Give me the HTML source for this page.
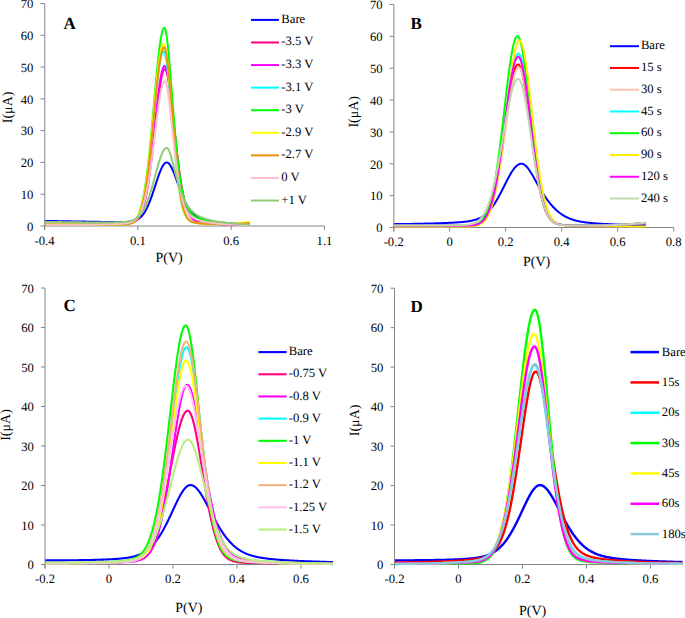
<!DOCTYPE html>
<html><head><meta charset="utf-8"><style>
html,body{margin:0;padding:0;background:#fff;}
body{width:685px;height:618px;overflow:hidden;}
svg{display:block;text-rendering:geometricPrecision;}
.t{font-family:"Liberation Serif", serif;font-size:12.7px;fill:#000;}
.lg{font-family:"Liberation Serif", serif;font-size:12.7px;fill:#000;}
.ax{font-family:"Liberation Serif", serif;font-size:14px;fill:#000;}
.pl{font-family:"Liberation Serif", serif;font-size:17px;font-weight:bold;fill:#000;}
</style></head><body>
<svg width="685" height="618" viewBox="0 0 685 618">
<rect width="685" height="618" fill="#fff"/>
<line x1="40.5" y1="226.00" x2="44.5" y2="226.00" stroke="#868686" stroke-width="1"/>
<text x="33.40" y="230.80" text-anchor="end" class="t">0</text>
<line x1="40.5" y1="194.21" x2="44.5" y2="194.21" stroke="#868686" stroke-width="1"/>
<text x="33.40" y="199.01" text-anchor="end" class="t">10</text>
<line x1="40.5" y1="162.43" x2="44.5" y2="162.43" stroke="#868686" stroke-width="1"/>
<text x="33.40" y="167.23" text-anchor="end" class="t">20</text>
<line x1="40.5" y1="130.64" x2="44.5" y2="130.64" stroke="#868686" stroke-width="1"/>
<text x="33.40" y="135.44" text-anchor="end" class="t">30</text>
<line x1="40.5" y1="98.86" x2="44.5" y2="98.86" stroke="#868686" stroke-width="1"/>
<text x="33.40" y="103.66" text-anchor="end" class="t">40</text>
<line x1="40.5" y1="67.07" x2="44.5" y2="67.07" stroke="#868686" stroke-width="1"/>
<text x="33.40" y="71.87" text-anchor="end" class="t">50</text>
<line x1="40.5" y1="35.28" x2="44.5" y2="35.28" stroke="#868686" stroke-width="1"/>
<text x="33.40" y="40.08" text-anchor="end" class="t">60</text>
<line x1="40.5" y1="3.50" x2="44.5" y2="3.50" stroke="#868686" stroke-width="1"/>
<text x="33.40" y="8.30" text-anchor="end" class="t">70</text>
<line x1="44.5" y1="226.0" x2="324.5" y2="226.0" stroke="#868686" stroke-width="1"/>
<line x1="44.50" y1="226.0" x2="44.50" y2="230.0" stroke="#868686" stroke-width="1"/>
<text x="44.50" y="244.50" text-anchor="middle" class="t">-0.4</text>
<line x1="137.83" y1="226.0" x2="137.83" y2="230.0" stroke="#868686" stroke-width="1"/>
<text x="137.83" y="244.50" text-anchor="middle" class="t">0.1</text>
<line x1="231.17" y1="226.0" x2="231.17" y2="230.0" stroke="#868686" stroke-width="1"/>
<text x="231.17" y="244.50" text-anchor="middle" class="t">0.6</text>
<line x1="324.50" y1="226.0" x2="324.50" y2="230.0" stroke="#868686" stroke-width="1"/>
<text x="324.50" y="244.50" text-anchor="middle" class="t">1.1</text>
<polyline points="44.5,220.87 46.0,220.90 47.5,220.93 49.0,220.96 50.5,220.99 52.0,221.02 53.5,221.05 55.0,221.07 56.5,221.10 58.0,221.13 59.5,221.16 61.0,221.19 62.5,221.22 64.0,221.24 65.5,221.27 67.0,221.30 68.5,221.33 70.0,221.35 71.5,221.38 73.0,221.41 74.5,221.44 76.0,221.46 77.5,221.49 79.0,221.52 80.5,221.54 82.0,221.57 83.5,221.60 85.0,221.62 86.5,221.65 88.0,221.67 89.5,221.70 91.0,221.72 92.5,221.75 94.0,221.77 95.5,221.80 97.0,221.82 98.5,221.84 100.0,221.86 101.5,221.89 103.0,221.91 104.5,221.93 106.0,221.95 107.5,221.97 109.0,221.99 110.5,222.00 112.0,222.02 113.5,222.04 115.0,222.05 116.5,222.06 117.0,222.06 117.5,222.06 118.0,222.07 118.5,222.07 119.0,222.07 119.5,222.07 120.0,222.07 120.5,222.07 121.0,222.07 121.5,222.07 122.0,222.06 122.5,222.06 123.0,222.05 123.5,222.04 124.0,222.03 124.5,222.02 125.0,222.01 125.5,221.99 126.0,221.97 126.5,221.95 127.0,221.93 127.5,221.90 128.0,221.86 128.5,221.83 129.0,221.78 129.5,221.73 130.0,221.68 130.5,221.62 131.0,221.54 131.5,221.47 132.0,221.38 132.5,221.28 133.0,221.17 133.5,221.04 134.0,220.91 134.5,220.76 135.0,220.59 135.5,220.40 136.0,220.20 136.5,219.98 137.0,219.73 137.5,219.46 138.0,219.17 138.5,218.85 139.0,218.50 139.5,218.13 140.0,217.72 140.5,217.27 141.0,216.80 141.5,216.29 142.0,215.74 142.5,215.15 143.0,214.51 143.5,213.84 144.0,213.12 144.5,212.36 145.0,211.56 145.5,210.70 146.0,209.80 146.5,208.85 147.0,207.86 147.5,206.81 148.0,205.72 148.5,204.58 149.0,203.40 149.5,202.17 150.0,200.90 150.5,199.59 151.0,198.24 151.5,196.85 152.0,195.43 152.5,193.98 153.0,192.51 153.5,191.01 154.0,189.49 154.5,187.96 155.0,186.43 155.5,184.88 156.0,183.35 156.5,181.82 157.0,180.30 157.5,178.80 158.0,177.34 158.5,175.90 159.0,174.51 159.5,173.16 160.0,171.86 160.5,170.62 161.0,169.45 161.5,168.35 162.0,167.33 162.5,166.40 163.0,165.55 163.5,164.80 164.0,164.15 164.5,163.60 165.0,163.15 165.5,162.82 166.0,162.60 166.5,162.49 167.0,162.49 167.5,162.61 168.0,162.85 168.5,163.21 169.0,163.68 169.5,164.25 170.0,164.92 170.5,165.70 171.0,166.56 171.5,167.50 172.0,168.52 172.5,169.61 173.0,170.76 173.5,171.97 174.0,173.21 174.5,174.50 175.0,175.82 175.5,177.16 176.0,178.53 176.5,179.91 177.0,181.29 177.5,182.68 178.0,184.07 178.5,185.45 179.0,186.82 179.5,188.18 180.0,189.52 180.5,190.84 181.0,192.14 181.5,193.41 182.0,194.66 182.5,195.88 183.0,197.07 183.5,198.22 184.0,199.34 184.5,200.43 185.0,201.49 185.5,202.51 186.0,203.49 186.5,204.44 187.0,205.35 187.5,206.23 188.0,207.07 188.5,207.88 189.0,208.65 189.5,209.39 190.0,210.09 190.5,210.76 191.0,211.40 191.5,212.01 192.0,212.59 192.5,213.13 193.0,213.65 193.5,214.15 194.0,214.61 194.5,215.05 195.0,215.47 195.5,215.86 196.0,216.23 196.5,216.58 197.0,216.92 197.5,217.23 198.0,217.52 198.5,217.80 199.0,218.06 199.5,218.31 200.0,218.54 200.5,218.76 201.0,218.96 201.5,219.16 202.0,219.34 202.5,219.52 203.0,219.68 203.5,219.84 204.0,219.98 204.5,220.12 205.0,220.25 205.5,220.38 206.0,220.50 206.5,220.61 207.0,220.72 207.5,220.82 208.0,220.92 208.5,221.02 209.0,221.11 209.5,221.19 210.0,221.28 210.5,221.36 211.0,221.43 211.5,221.51 212.0,221.58 212.5,221.65 213.0,221.72 213.5,221.78 214.0,221.84 214.5,221.90 215.0,221.96 215.5,222.02 216.0,222.08 216.5,222.13 217.0,222.18 217.5,222.24 218.0,222.29 218.5,222.33 220.0,222.48 221.5,222.61 223.0,222.73 224.5,222.85 226.0,222.96 227.5,223.07 229.0,223.17 230.5,223.26 232.0,223.35 233.5,223.44 235.0,223.53 236.5,223.61 238.0,223.69 239.5,223.76 241.0,223.83 242.5,223.90 244.0,223.97 245.5,224.04 247.0,224.10 248.5,224.17 249.8,224.22" fill="none" stroke="#0000ff" stroke-width="2.0" stroke-linejoin="round" stroke-linecap="butt"/>
<polyline points="44.5,224.63 46.0,224.63 47.5,224.63 49.0,224.63 50.5,224.64 52.0,224.64 53.5,224.64 55.0,224.64 56.5,224.64 58.0,224.64 59.5,224.64 61.0,224.64 62.5,224.64 64.0,224.64 65.5,224.64 67.0,224.64 68.5,224.64 70.0,224.64 71.5,224.64 73.0,224.64 74.5,224.64 76.0,224.64 77.5,224.63 79.0,224.63 80.5,224.63 82.0,224.62 83.5,224.62 85.0,224.61 86.5,224.61 88.0,224.60 89.5,224.59 91.0,224.59 92.5,224.58 94.0,224.57 95.5,224.56 97.0,224.55 98.5,224.53 100.0,224.52 101.5,224.51 103.0,224.49 104.5,224.47 106.0,224.45 107.5,224.43 109.0,224.41 110.5,224.38 112.0,224.35 113.5,224.32 115.0,224.29 116.5,224.25 118.0,224.21 119.5,224.16 121.0,224.10 122.5,224.04 124.0,223.96 124.5,223.93 125.0,223.89 125.5,223.86 126.0,223.82 126.5,223.77 127.0,223.73 127.5,223.67 128.0,223.62 128.5,223.55 129.0,223.48 129.5,223.40 130.0,223.31 130.5,223.20 131.0,223.09 131.5,222.96 132.0,222.81 132.5,222.65 133.0,222.47 133.5,222.26 134.0,222.02 134.5,221.76 135.0,221.46 135.5,221.13 136.0,220.76 136.5,220.34 137.0,219.88 137.5,219.35 138.0,218.77 138.5,218.13 139.0,217.41 139.5,216.62 140.0,215.75 140.5,214.78 141.0,213.72 141.5,212.55 142.0,211.28 142.5,209.89 143.0,208.38 143.5,206.73 144.0,204.95 144.5,203.03 145.0,200.96 145.5,198.74 146.0,196.36 146.5,193.82 147.0,191.12 147.5,188.26 148.0,185.23 148.5,182.03 149.0,178.67 149.5,175.15 150.0,171.48 150.5,167.65 151.0,163.69 151.5,159.59 152.0,155.37 152.5,151.04 153.0,146.62 153.5,142.12 154.0,137.56 154.5,132.96 155.0,128.34 155.5,123.72 156.0,119.12 156.5,114.57 157.0,110.10 157.5,105.72 158.0,101.47 158.5,97.38 159.0,93.46 159.5,89.75 160.0,86.27 160.5,83.05 161.0,80.11 161.5,77.48 162.0,75.17 162.5,73.21 163.0,71.62 163.5,70.40 164.0,69.57 164.5,69.13 165.0,69.09 165.5,69.49 166.0,70.32 166.5,71.57 167.0,73.22 167.5,75.27 168.0,77.69 168.5,80.46 169.0,83.54 169.5,86.92 170.0,90.55 170.5,94.42 171.0,98.48 171.5,102.71 172.0,107.09 172.5,111.57 173.0,116.14 173.5,120.76 174.0,125.40 174.5,130.06 175.0,134.69 175.5,139.28 176.0,143.81 176.5,148.27 177.0,152.63 177.5,156.88 178.0,161.01 178.5,165.01 179.0,168.86 179.5,172.57 180.0,176.12 180.5,179.50 181.0,182.73 181.5,185.79 182.0,188.68 182.5,191.41 183.0,193.98 183.5,196.38 184.0,198.63 184.5,200.73 185.0,202.68 185.5,204.48 186.0,206.16 186.5,207.70 187.0,209.12 187.5,210.42 188.0,211.62 188.5,212.71 189.0,213.71 189.5,214.62 190.0,215.45 190.5,216.20 191.0,216.88 191.5,217.50 192.0,218.05 192.5,218.56 193.0,219.01 193.5,219.42 194.0,219.79 194.5,220.13 195.0,220.43 195.5,220.70 196.0,220.95 196.5,221.17 197.0,221.37 197.5,221.56 198.0,221.73 198.5,221.88 199.0,222.02 199.5,222.14 200.0,222.26 200.5,222.37 201.0,222.47 201.5,222.56 202.0,222.65 202.5,222.73 203.0,222.81 203.5,222.88 204.0,222.95 204.5,223.01 205.0,223.07 205.5,223.13 206.0,223.18 206.5,223.24 208.0,223.38 209.5,223.51 211.0,223.63 212.5,223.74 214.0,223.84 215.5,223.93 217.0,224.01 218.5,224.09 220.0,224.16 221.5,224.22 223.0,224.29 224.5,224.35 226.0,224.40 227.5,224.45 229.0,224.50 230.5,224.55 232.0,224.59 233.5,224.63 235.0,224.67 236.5,224.70 238.0,224.74 239.5,224.77 241.0,224.80 242.5,224.83 244.0,224.86 245.5,224.89 247.0,224.92 248.5,224.94 249.8,224.96" fill="none" stroke="#ff0080" stroke-width="2.0" stroke-linejoin="round" stroke-linecap="butt"/>
<polyline points="44.5,224.63 46.0,224.63 47.5,224.63 49.0,224.63 50.5,224.63 52.0,224.64 53.5,224.64 55.0,224.64 56.5,224.64 58.0,224.64 59.5,224.64 61.0,224.64 62.5,224.64 64.0,224.64 65.5,224.64 67.0,224.64 68.5,224.64 70.0,224.64 71.5,224.64 73.0,224.63 74.5,224.63 76.0,224.63 77.5,224.63 79.0,224.62 80.5,224.62 82.0,224.62 83.5,224.61 85.0,224.61 86.5,224.60 88.0,224.59 89.5,224.59 91.0,224.58 92.5,224.57 94.0,224.56 95.5,224.55 97.0,224.54 98.5,224.52 100.0,224.51 101.5,224.49 103.0,224.48 104.5,224.46 106.0,224.44 107.5,224.42 109.0,224.39 110.5,224.37 112.0,224.34 113.5,224.30 115.0,224.27 116.5,224.23 118.0,224.18 119.5,224.13 121.0,224.07 122.5,224.00 124.0,223.92 124.5,223.89 125.0,223.85 125.5,223.81 126.0,223.77 126.5,223.72 127.0,223.67 127.5,223.61 128.0,223.55 128.5,223.48 129.0,223.40 129.5,223.31 130.0,223.21 130.5,223.10 131.0,222.97 131.5,222.83 132.0,222.67 132.5,222.49 133.0,222.29 133.5,222.06 134.0,221.81 134.5,221.52 135.0,221.20 135.5,220.83 136.0,220.43 136.5,219.97 137.0,219.46 137.5,218.90 138.0,218.27 138.5,217.57 139.0,216.79 139.5,215.93 140.0,214.98 140.5,213.94 141.0,212.80 141.5,211.54 142.0,210.18 142.5,208.68 143.0,207.06 143.5,205.30 144.0,203.40 144.5,201.36 145.0,199.15 145.5,196.79 146.0,194.27 146.5,191.58 147.0,188.73 147.5,185.71 148.0,182.52 148.5,179.16 149.0,175.63 149.5,171.95 150.0,168.11 150.5,164.12 151.0,160.00 151.5,155.75 152.0,151.38 152.5,146.91 153.0,142.35 153.5,137.72 154.0,133.05 154.5,128.34 155.0,123.62 155.5,118.92 156.0,114.26 156.5,109.67 157.0,105.16 157.5,100.77 158.0,96.53 158.5,92.46 159.0,88.59 159.5,84.94 160.0,81.55 160.5,78.43 161.0,75.62 161.5,73.14 162.0,70.99 162.5,69.22 163.0,67.82 163.5,66.81 164.0,66.20 164.5,66.00 165.0,66.22 165.5,66.89 166.0,67.99 166.5,69.52 167.0,71.45 167.5,73.77 168.0,76.45 168.5,79.47 169.0,82.79 169.5,86.39 170.0,90.24 170.5,94.31 171.0,98.56 171.5,102.97 172.0,107.50 172.5,112.12 173.0,116.81 173.5,121.54 174.0,126.29 174.5,131.02 175.0,135.72 175.5,140.37 176.0,144.95 176.5,149.43 177.0,153.81 177.5,158.08 178.0,162.21 178.5,166.20 179.0,170.04 179.5,173.72 180.0,177.24 180.5,180.59 181.0,183.78 181.5,186.80 182.0,189.65 182.5,192.33 183.0,194.85 183.5,197.21 184.0,199.40 184.5,201.45 185.0,203.35 185.5,205.11 186.0,206.74 186.5,208.24 187.0,209.61 187.5,210.88 188.0,212.03 188.5,213.09 189.0,214.05 189.5,214.93 190.0,215.72 190.5,216.45 191.0,217.10 191.5,217.69 192.0,218.23 192.5,218.71 193.0,219.15 193.5,219.54 194.0,219.89 194.5,220.22 195.0,220.50 195.5,220.77 196.0,221.00 196.5,221.22 197.0,221.41 197.5,221.59 198.0,221.75 198.5,221.90 199.0,222.03 199.5,222.16 200.0,222.27 200.5,222.38 201.0,222.47 201.5,222.56 202.0,222.65 202.5,222.73 203.0,222.80 203.5,222.87 204.0,222.94 204.5,223.00 205.0,223.06 205.5,223.12 206.0,223.17 207.5,223.33 209.0,223.46 210.5,223.58 212.0,223.69 213.5,223.79 215.0,223.89 216.5,223.97 218.0,224.05 219.5,224.12 221.0,224.19 222.5,224.26 224.0,224.32 225.5,224.37 227.0,224.43 228.5,224.48 230.0,224.52 231.5,224.57 233.0,224.61 234.5,224.65 236.0,224.68 237.5,224.72 239.0,224.75 240.5,224.79 242.0,224.82 243.5,224.85 245.0,224.87 246.5,224.90 248.0,224.93 249.5,224.95 249.8,224.96" fill="none" stroke="#ff00ff" stroke-width="2.0" stroke-linejoin="round" stroke-linecap="butt"/>
<polyline points="44.5,224.61 46.0,224.61 47.5,224.61 49.0,224.61 50.5,224.61 52.0,224.61 53.5,224.61 55.0,224.61 56.5,224.61 58.0,224.61 59.5,224.61 61.0,224.62 62.5,224.62 64.0,224.62 65.5,224.62 67.0,224.62 68.5,224.62 70.0,224.62 71.5,224.62 73.0,224.62 74.5,224.62 76.0,224.61 77.5,224.61 79.0,224.61 80.5,224.61 82.0,224.61 83.5,224.61 85.0,224.61 86.5,224.61 88.0,224.60 89.5,224.60 91.0,224.60 92.5,224.59 94.0,224.59 95.5,224.59 97.0,224.58 98.5,224.58 100.0,224.57 101.5,224.57 103.0,224.56 104.5,224.55 106.0,224.55 107.5,224.54 109.0,224.53 110.5,224.52 112.0,224.51 113.5,224.49 115.0,224.48 116.5,224.46 118.0,224.44 119.5,224.41 121.0,224.38 122.5,224.34 123.0,224.32 123.5,224.30 124.0,224.27 124.5,224.24 125.0,224.21 125.5,224.18 126.0,224.13 126.5,224.09 127.0,224.03 127.5,223.97 128.0,223.90 128.5,223.82 129.0,223.72 129.5,223.61 130.0,223.49 130.5,223.35 131.0,223.18 131.5,223.00 132.0,222.78 132.5,222.54 133.0,222.27 133.5,221.96 134.0,221.61 134.5,221.21 135.0,220.76 135.5,220.26 136.0,219.70 136.5,219.07 137.0,218.37 137.5,217.58 138.0,216.72 138.5,215.75 139.0,214.69 139.5,213.52 140.0,212.24 140.5,210.83 141.0,209.29 141.5,207.62 142.0,205.80 142.5,203.83 143.0,201.70 143.5,199.40 144.0,196.94 144.5,194.30 145.0,191.48 145.5,188.48 146.0,185.30 146.5,181.93 147.0,178.38 147.5,174.65 148.0,170.74 148.5,166.66 149.0,162.42 149.5,158.01 150.0,153.46 150.5,148.78 151.0,143.98 151.5,139.07 152.0,134.07 152.5,129.01 153.0,123.91 153.5,118.78 154.0,113.64 154.5,108.54 155.0,103.49 155.5,98.51 156.0,93.65 156.5,88.92 157.0,84.35 157.5,79.97 158.0,75.81 158.5,71.90 159.0,68.26 159.5,64.92 160.0,61.91 160.5,59.23 161.0,56.92 161.5,54.99 162.0,53.45 162.5,52.32 163.0,51.60 163.5,51.31 164.0,51.50 164.5,52.31 165.0,53.74 165.5,55.75 166.0,58.34 166.5,61.45 167.0,65.07 167.5,69.14 168.0,73.62 168.5,78.47 169.0,83.62 169.5,89.04 170.0,94.68 170.5,100.48 171.0,106.40 171.5,112.38 172.0,118.40 172.5,124.41 173.0,130.37 173.5,136.24 174.0,141.99 174.5,147.60 175.0,153.04 175.5,158.28 176.0,163.32 176.5,168.13 177.0,172.71 177.5,177.04 178.0,181.12 178.5,184.95 179.0,188.54 179.5,191.87 180.0,194.96 180.5,197.81 181.0,200.44 181.5,202.84 182.0,205.04 182.5,207.04 183.0,208.85 183.5,210.48 184.0,211.96 184.5,213.28 185.0,214.46 185.5,215.52 186.0,216.46 186.5,217.29 187.0,218.03 187.5,218.68 188.0,219.26 188.5,219.76 189.0,220.21 189.5,220.60 190.0,220.95 190.5,221.25 191.0,221.51 191.5,221.75 192.0,221.95 192.5,222.13 193.0,222.29 193.5,222.43 194.0,222.56 194.5,222.67 195.0,222.77 195.5,222.86 196.0,222.95 196.5,223.02 197.0,223.09 197.5,223.15 198.0,223.21 198.5,223.26 199.0,223.31 199.5,223.36 200.0,223.41 200.5,223.45 201.0,223.49 201.5,223.53 202.0,223.56 202.5,223.60 203.0,223.63 203.5,223.66 204.0,223.69 204.5,223.72 205.0,223.75 205.5,223.78 206.0,223.80 207.5,223.88 209.0,223.95 210.5,224.01 212.0,224.06 213.5,224.11 215.0,224.16 216.5,224.19 218.0,224.21 219.5,224.23 221.0,224.24 222.5,224.24 224.0,224.24 225.5,224.22 227.0,224.20 228.5,224.18 230.0,224.14 231.5,224.10 233.0,224.06 234.5,224.00 236.0,223.95 237.5,223.88 239.0,223.81 240.5,223.73 242.0,223.65 243.5,223.56 245.0,223.47 246.5,223.37 248.0,223.26 249.5,223.15 249.8,223.12" fill="none" stroke="#00ffff" stroke-width="2.0" stroke-linejoin="round" stroke-linecap="butt"/>
<polyline points="44.5,224.47 46.0,224.48 47.5,224.49 49.0,224.50 50.5,224.51 52.0,224.52 53.5,224.54 55.0,224.55 56.5,224.56 58.0,224.57 59.5,224.58 61.0,224.59 62.5,224.60 64.0,224.61 65.5,224.62 67.0,224.63 68.5,224.64 70.0,224.64 71.5,224.65 73.0,224.66 74.5,224.67 76.0,224.68 77.5,224.68 79.0,224.69 80.5,224.70 82.0,224.70 83.5,224.71 85.0,224.71 86.5,224.72 88.0,224.72 89.5,224.72 91.0,224.73 92.5,224.73 94.0,224.73 95.5,224.73 97.0,224.73 98.5,224.73 100.0,224.72 101.5,224.72 103.0,224.71 104.5,224.71 106.0,224.70 107.5,224.69 109.0,224.67 110.5,224.66 112.0,224.64 113.5,224.62 115.0,224.60 116.5,224.57 118.0,224.53 119.5,224.49 121.0,224.44 122.5,224.36 123.0,224.33 123.5,224.30 124.0,224.26 124.5,224.22 125.0,224.18 125.5,224.12 126.0,224.07 126.5,224.00 127.0,223.93 127.5,223.84 128.0,223.75 128.5,223.64 129.0,223.52 129.5,223.38 130.0,223.22 130.5,223.04 131.0,222.84 131.5,222.61 132.0,222.35 132.5,222.06 133.0,221.74 133.5,221.37 134.0,220.96 134.5,220.49 135.0,219.98 135.5,219.40 136.0,218.76 136.5,218.04 137.0,217.25 137.5,216.37 138.0,215.40 138.5,214.33 139.0,213.15 139.5,211.86 140.0,210.44 140.5,208.90 141.0,207.22 141.5,205.39 142.0,203.42 142.5,201.28 143.0,198.97 143.5,196.50 144.0,193.84 144.5,191.00 145.0,187.97 145.5,184.75 146.0,181.34 146.5,177.73 147.0,173.92 147.5,169.92 148.0,165.73 148.5,161.36 149.0,156.80 149.5,152.07 150.0,147.18 150.5,142.13 151.0,136.94 151.5,131.63 152.0,126.21 152.5,120.70 153.0,115.12 153.5,109.50 154.0,103.85 154.5,98.20 155.0,92.57 155.5,87.01 156.0,81.52 156.5,76.14 157.0,70.90 157.5,65.84 158.0,60.97 158.5,56.33 159.0,51.95 159.5,47.86 160.0,44.09 160.5,40.65 161.0,37.57 161.5,34.89 162.0,32.61 162.5,30.75 163.0,29.33 163.5,28.36 164.0,27.85 164.5,27.81 165.0,28.50 165.5,29.95 166.0,32.14 166.5,35.03 167.0,38.57 167.5,42.69 168.0,47.32 168.5,52.41 169.0,57.87 169.5,63.63 170.0,69.64 170.5,75.83 171.0,82.14 171.5,88.51 172.0,94.90 172.5,101.27 173.0,107.57 173.5,113.78 174.0,119.87 174.5,125.80 175.0,131.56 175.5,137.12 176.0,142.49 176.5,147.64 177.0,152.56 177.5,157.25 178.0,161.71 178.5,165.93 179.0,169.91 179.5,173.66 180.0,177.18 180.5,180.48 181.0,183.56 181.5,186.42 182.0,189.09 182.5,191.56 183.0,193.84 183.5,195.95 184.0,197.90 184.5,199.69 185.0,201.34 185.5,202.85 186.0,204.24 186.5,205.52 187.0,206.68 187.5,207.75 188.0,208.73 188.5,209.63 189.0,210.45 189.5,211.21 190.0,211.91 190.5,212.54 191.0,213.13 191.5,213.68 192.0,214.18 192.5,214.65 193.0,215.08 193.5,215.49 194.0,215.87 194.5,216.22 195.0,216.55 195.5,216.86 196.0,217.16 196.5,217.43 197.0,217.70 197.5,217.95 198.0,218.18 198.5,218.41 199.0,218.62 199.5,218.83 200.0,219.03 200.5,219.22 201.0,219.40 201.5,219.57 202.0,219.74 202.5,219.90 203.0,220.06 203.5,220.21 204.0,220.35 204.5,220.49 205.0,220.63 205.5,220.76 206.0,220.89 206.5,221.01 207.0,221.13 207.5,221.24 208.0,221.36 209.5,221.67 211.0,221.96 212.5,222.22 214.0,222.46 215.5,222.68 217.0,222.87 218.5,223.05 220.0,223.21 221.5,223.34 223.0,223.47 224.5,223.57 226.0,223.67 227.5,223.75 229.0,223.81 230.5,223.87 232.0,223.91 233.5,223.94 235.0,223.97 236.5,223.98 238.0,223.98 239.5,223.97 241.0,223.96 242.5,223.93 244.0,223.90 245.5,223.86 247.0,223.81 248.5,223.75 249.8,223.69" fill="none" stroke="#00ff00" stroke-width="2.0" stroke-linejoin="round" stroke-linecap="butt"/>
<polyline points="44.5,224.60 46.0,224.60 47.5,224.61 49.0,224.61 50.5,224.61 52.0,224.61 53.5,224.61 55.0,224.61 56.5,224.61 58.0,224.61 59.5,224.61 61.0,224.61 62.5,224.61 64.0,224.61 65.5,224.61 67.0,224.61 68.5,224.61 70.0,224.61 71.5,224.61 73.0,224.61 74.5,224.61 76.0,224.61 77.5,224.61 79.0,224.61 80.5,224.61 82.0,224.61 83.5,224.60 85.0,224.60 86.5,224.60 88.0,224.60 89.5,224.60 91.0,224.59 92.5,224.59 94.0,224.59 95.5,224.58 97.0,224.58 98.5,224.57 100.0,224.57 101.5,224.56 103.0,224.55 104.5,224.55 106.0,224.54 107.5,224.53 109.0,224.52 110.5,224.51 112.0,224.50 113.5,224.48 115.0,224.47 116.5,224.45 118.0,224.43 119.5,224.40 121.0,224.36 122.5,224.32 123.0,224.30 123.5,224.27 124.0,224.25 124.5,224.22 125.0,224.19 125.5,224.15 126.0,224.11 126.5,224.06 127.0,224.00 127.5,223.94 128.0,223.86 128.5,223.77 129.0,223.68 129.5,223.56 130.0,223.43 130.5,223.28 131.0,223.11 131.5,222.92 132.0,222.70 132.5,222.45 133.0,222.16 133.5,221.84 134.0,221.47 134.5,221.06 135.0,220.59 135.5,220.07 136.0,219.48 136.5,218.83 137.0,218.09 137.5,217.28 138.0,216.37 138.5,215.37 139.0,214.27 139.5,213.05 140.0,211.71 140.5,210.24 141.0,208.64 141.5,206.90 142.0,205.00 142.5,202.94 143.0,200.72 143.5,198.33 144.0,195.77 144.5,193.01 145.0,190.08 145.5,186.95 146.0,183.64 146.5,180.13 147.0,176.43 147.5,172.54 148.0,168.47 148.5,164.22 149.0,159.79 149.5,155.20 150.0,150.46 150.5,145.58 151.0,140.58 151.5,135.46 152.0,130.26 152.5,124.98 153.0,119.66 153.5,114.31 154.0,108.97 154.5,103.65 155.0,98.38 155.5,93.20 156.0,88.13 156.5,83.20 157.0,78.44 157.5,73.88 158.0,69.54 158.5,65.47 159.0,61.68 159.5,58.20 160.0,55.05 160.5,52.27 161.0,49.86 161.5,47.84 162.0,46.24 162.5,45.06 163.0,44.32 163.5,44.01 164.0,44.21 164.5,45.05 165.0,46.54 165.5,48.64 166.0,51.33 166.5,54.58 167.0,58.35 167.5,62.59 168.0,67.26 168.5,72.31 169.0,77.68 169.5,83.33 170.0,89.20 170.5,95.25 171.0,101.41 171.5,107.65 172.0,113.93 172.5,120.18 173.0,126.39 173.5,132.51 174.0,138.50 174.5,144.35 175.0,150.01 175.5,155.48 176.0,160.73 176.5,165.74 177.0,170.51 177.5,175.03 178.0,179.28 178.5,183.28 179.0,187.01 179.5,190.48 180.0,193.70 180.5,196.68 181.0,199.41 181.5,201.92 182.0,204.21 182.5,206.29 183.0,208.17 183.5,209.88 184.0,211.41 184.5,212.79 185.0,214.02 185.5,215.12 186.0,216.10 186.5,216.97 187.0,217.74 187.5,218.42 188.0,219.02 188.5,219.55 189.0,220.01 189.5,220.42 190.0,220.78 190.5,221.09 191.0,221.37 191.5,221.61 192.0,221.83 192.5,222.01 193.0,222.18 193.5,222.33 194.0,222.46 194.5,222.58 195.0,222.68 195.5,222.78 196.0,222.86 196.5,222.94 197.0,223.01 197.5,223.08 198.0,223.14 198.5,223.19 199.0,223.25 199.5,223.30 200.0,223.34 200.5,223.39 201.0,223.43 201.5,223.47 202.0,223.50 202.5,223.54 203.0,223.58 203.5,223.61 204.0,223.64 204.5,223.67 205.0,223.70 205.5,223.73 206.0,223.76 207.5,223.83 209.0,223.90 210.5,223.97 212.0,224.03 213.5,224.08 215.0,224.12 216.5,224.14 218.0,224.15 219.5,224.15 221.0,224.14 222.5,224.11 224.0,224.08 225.5,224.03 227.0,223.97 228.5,223.89 230.0,223.81 231.5,223.71 233.0,223.61 234.5,223.49 236.0,223.36 237.5,223.22 239.0,223.07 240.5,222.91 242.0,222.74 243.5,222.56 245.0,222.37 246.5,222.17 248.0,221.96 249.5,221.73 249.8,221.68" fill="none" stroke="#ffff00" stroke-width="2.0" stroke-linejoin="round" stroke-linecap="butt"/>
<polyline points="44.5,224.60 46.0,224.61 47.5,224.61 49.0,224.61 50.5,224.61 52.0,224.61 53.5,224.61 55.0,224.61 56.5,224.61 58.0,224.61 59.5,224.61 61.0,224.61 62.5,224.61 64.0,224.61 65.5,224.61 67.0,224.61 68.5,224.61 70.0,224.61 71.5,224.61 73.0,224.61 74.5,224.61 76.0,224.61 77.5,224.61 79.0,224.61 80.5,224.61 82.0,224.61 83.5,224.61 85.0,224.61 86.5,224.60 88.0,224.60 89.5,224.60 91.0,224.60 92.5,224.59 94.0,224.59 95.5,224.58 97.0,224.58 98.5,224.58 100.0,224.57 101.5,224.56 103.0,224.56 104.5,224.55 106.0,224.54 107.5,224.53 109.0,224.53 110.5,224.51 112.0,224.50 113.5,224.49 115.0,224.48 116.5,224.46 118.0,224.44 119.5,224.41 121.0,224.38 122.5,224.34 123.0,224.32 123.5,224.30 124.0,224.28 124.5,224.25 125.0,224.22 125.5,224.19 126.0,224.15 126.5,224.11 127.0,224.06 127.5,224.00 128.0,223.93 128.5,223.86 129.0,223.77 129.5,223.67 130.0,223.55 130.5,223.42 131.0,223.27 131.5,223.10 132.0,222.90 132.5,222.68 133.0,222.42 133.5,222.14 134.0,221.81 134.5,221.44 135.0,221.02 135.5,220.55 136.0,220.02 136.5,219.43 137.0,218.77 137.5,218.03 138.0,217.21 138.5,216.30 139.0,215.29 139.5,214.17 140.0,212.95 140.5,211.61 141.0,210.13 141.5,208.53 142.0,206.78 142.5,204.88 143.0,202.82 143.5,200.60 144.0,198.21 144.5,195.64 145.0,192.89 145.5,189.96 146.0,186.85 146.5,183.55 147.0,180.05 147.5,176.37 148.0,172.51 148.5,168.46 149.0,164.24 149.5,159.86 150.0,155.31 150.5,150.62 151.0,145.79 151.5,140.84 152.0,135.79 152.5,130.66 153.0,125.46 153.5,120.23 154.0,114.97 154.5,109.72 155.0,104.50 155.5,99.34 156.0,94.27 156.5,89.32 157.0,84.51 157.5,79.88 158.0,75.44 158.5,71.24 159.0,67.30 159.5,63.65 160.0,60.30 160.5,57.29 161.0,54.64 161.5,52.36 162.0,50.48 162.5,49.00 163.0,47.95 163.5,47.31 164.0,47.12 164.5,47.46 165.0,48.44 165.5,50.04 166.0,52.25 166.5,55.03 167.0,58.35 167.5,62.17 168.0,66.44 168.5,71.12 169.0,76.16 169.5,81.51 170.0,87.12 170.5,92.93 171.0,98.91 171.5,104.99 172.0,111.13 172.5,117.30 173.0,123.44 173.5,129.52 174.0,135.51 174.5,141.37 175.0,147.07 175.5,152.60 176.0,157.92 176.5,163.02 177.0,167.90 177.5,172.52 178.0,176.90 178.5,181.02 179.0,184.89 179.5,188.49 180.0,191.85 180.5,194.96 181.0,197.82 181.5,200.45 182.0,202.87 182.5,205.07 183.0,207.06 183.5,208.88 184.0,210.51 184.5,211.98 185.0,213.30 185.5,214.48 186.0,215.53 186.5,216.47 187.0,217.30 187.5,218.03 188.0,218.68 188.5,219.25 189.0,219.75 189.5,220.20 190.0,220.59 190.5,220.93 191.0,221.23 191.5,221.49 192.0,221.72 192.5,221.93 193.0,222.11 193.5,222.26 194.0,222.41 194.5,222.53 195.0,222.64 195.5,222.74 196.0,222.83 196.5,222.92 197.0,222.99 197.5,223.06 198.0,223.12 198.5,223.18 199.0,223.24 199.5,223.29 200.0,223.34 200.5,223.38 201.0,223.42 201.5,223.46 202.0,223.50 202.5,223.54 203.0,223.57 203.5,223.61 204.0,223.64 204.5,223.67 205.0,223.70 205.5,223.73 206.0,223.76 207.5,223.83 209.0,223.90 210.5,223.97 212.0,224.03 213.5,224.08 215.0,224.12 216.5,224.16 218.0,224.18 219.5,224.20 221.0,224.21 222.5,224.21 224.0,224.20 225.5,224.18 227.0,224.16 228.5,224.13 230.0,224.09 231.5,224.05 233.0,223.99 234.5,223.93 236.0,223.87 237.5,223.80 239.0,223.72 240.5,223.63 242.0,223.54 243.5,223.44 245.0,223.34 246.5,223.22 248.0,223.11 249.5,222.98 249.8,222.96" fill="none" stroke="#f0900a" stroke-width="2.0" stroke-linejoin="round" stroke-linecap="butt"/>
<polyline points="44.5,224.80 46.0,224.80 47.5,224.80 49.0,224.81 50.5,224.81 52.0,224.81 53.5,224.81 55.0,224.81 56.5,224.81 58.0,224.81 59.5,224.81 61.0,224.81 62.5,224.80 64.0,224.80 65.5,224.80 67.0,224.80 68.5,224.79 70.0,224.79 71.5,224.79 73.0,224.78 74.5,224.78 76.0,224.77 77.5,224.76 79.0,224.75 80.5,224.75 82.0,224.74 83.5,224.73 85.0,224.71 86.5,224.70 88.0,224.69 89.5,224.67 91.0,224.66 92.5,224.64 94.0,224.62 95.5,224.60 97.0,224.57 98.5,224.55 100.0,224.52 101.5,224.49 103.0,224.46 104.5,224.42 106.0,224.39 107.5,224.34 109.0,224.30 110.5,224.25 112.0,224.19 113.5,224.13 115.0,224.07 116.5,223.99 118.0,223.91 119.5,223.82 121.0,223.71 122.5,223.59 123.0,223.55 123.5,223.50 124.0,223.45 124.5,223.39 125.0,223.34 125.5,223.27 126.0,223.21 126.5,223.13 127.0,223.06 127.5,222.97 128.0,222.88 128.5,222.78 129.0,222.67 129.5,222.55 130.0,222.41 130.5,222.27 131.0,222.10 131.5,221.93 132.0,221.73 132.5,221.51 133.0,221.27 133.5,221.00 134.0,220.71 134.5,220.38 135.0,220.02 135.5,219.62 136.0,219.18 136.5,218.70 137.0,218.16 137.5,217.57 138.0,216.93 138.5,216.22 139.0,215.44 139.5,214.59 140.0,213.66 140.5,212.64 141.0,211.54 141.5,210.35 142.0,209.05 142.5,207.65 143.0,206.14 143.5,204.51 144.0,202.77 144.5,200.90 145.0,198.91 145.5,196.78 146.0,194.52 146.5,192.13 147.0,189.60 147.5,186.93 148.0,184.13 148.5,181.19 149.0,178.11 149.5,174.91 150.0,171.58 150.5,168.13 151.0,164.57 151.5,160.90 152.0,157.14 152.5,153.29 153.0,149.37 153.5,145.39 154.0,141.37 154.5,137.31 155.0,133.25 155.5,129.18 156.0,125.15 156.5,121.16 157.0,117.23 157.5,113.39 158.0,109.66 158.5,106.06 159.0,102.61 159.5,99.35 160.0,96.28 160.5,93.44 161.0,90.85 161.5,88.52 162.0,86.48 162.5,84.74 163.0,83.33 163.5,82.24 164.0,81.50 164.5,81.11 165.0,81.09 165.5,81.62 166.0,82.73 166.5,84.40 167.0,86.59 167.5,89.28 168.0,92.40 168.5,95.90 169.0,99.73 169.5,103.84 170.0,108.18 170.5,112.68 171.0,117.30 171.5,122.01 172.0,126.75 172.5,131.50 173.0,136.22 173.5,140.88 174.0,145.45 174.5,149.93 175.0,154.28 175.5,158.50 176.0,162.57 176.5,166.47 177.0,170.21 177.5,173.78 178.0,177.17 178.5,180.39 179.0,183.42 179.5,186.28 180.0,188.96 180.5,191.48 181.0,193.82 181.5,196.00 182.0,198.03 182.5,199.91 183.0,201.65 183.5,203.26 184.0,204.74 184.5,206.10 185.0,207.35 185.5,208.50 186.0,209.55 186.5,210.51 187.0,211.40 187.5,212.20 188.0,212.94 188.5,213.62 189.0,214.24 189.5,214.81 190.0,215.33 190.5,215.81 191.0,216.25 191.5,216.66 192.0,217.04 192.5,217.39 193.0,217.71 193.5,218.01 194.0,218.30 194.5,218.56 195.0,218.81 195.5,219.04 196.0,219.26 196.5,219.46 197.0,219.66 197.5,219.85 198.0,220.02 198.5,220.19 199.0,220.35 199.5,220.50 200.0,220.65 200.5,220.79 201.0,220.93 201.5,221.05 202.0,221.18 202.5,221.30 203.0,221.41 203.5,221.52 204.0,221.63 204.5,221.74 205.0,221.84 205.5,221.93 206.0,222.02 206.5,222.12 207.0,222.20 207.5,222.29 208.0,222.37 209.5,222.60 211.0,222.81 212.5,223.00 214.0,223.18 215.5,223.34 217.0,223.49 218.5,223.63 220.0,223.76 221.5,223.88 223.0,224.00 224.5,224.10 226.0,224.20 227.5,224.29 229.0,224.38 230.5,224.46 232.0,224.53 233.5,224.60 235.0,224.67 236.5,224.74 238.0,224.80 239.5,224.86 241.0,224.91 242.5,224.96 244.0,225.01 245.5,225.06 247.0,225.11 248.5,225.15 249.8,225.19" fill="none" stroke="#ffc0cb" stroke-width="2.0" stroke-linejoin="round" stroke-linecap="butt"/>
<polyline points="44.5,221.84 46.0,221.87 47.5,221.90 49.0,221.92 50.5,221.94 52.0,221.97 53.5,221.99 55.0,222.02 56.5,222.04 58.0,222.06 59.5,222.09 61.0,222.11 62.5,222.13 64.0,222.16 65.5,222.18 67.0,222.20 68.5,222.22 70.0,222.24 71.5,222.26 73.0,222.28 74.5,222.30 76.0,222.32 77.5,222.34 79.0,222.35 80.5,222.37 82.0,222.39 83.5,222.40 85.0,222.42 86.5,222.43 88.0,222.44 89.5,222.45 91.0,222.46 92.5,222.47 94.0,222.48 95.5,222.49 97.0,222.49 98.5,222.50 100.0,222.50 101.5,222.50 103.0,222.50 104.5,222.49 106.0,222.49 107.5,222.48 109.0,222.46 110.5,222.45 112.0,222.43 113.5,222.40 115.0,222.37 116.5,222.34 118.0,222.29 118.5,222.28 119.0,222.26 119.5,222.24 120.0,222.22 120.5,222.19 121.0,222.17 121.5,222.14 122.0,222.11 122.5,222.08 123.0,222.05 123.5,222.01 124.0,221.98 124.5,221.93 125.0,221.89 125.5,221.84 126.0,221.78 126.5,221.72 127.0,221.65 127.5,221.58 128.0,221.51 128.5,221.42 129.0,221.33 129.5,221.22 130.0,221.11 130.5,220.99 131.0,220.86 131.5,220.71 132.0,220.55 132.5,220.38 133.0,220.19 133.5,219.99 134.0,219.76 134.5,219.52 135.0,219.25 135.5,218.97 136.0,218.65 136.5,218.32 137.0,217.95 137.5,217.56 138.0,217.14 138.5,216.68 139.0,216.19 139.5,215.66 140.0,215.10 140.5,214.49 141.0,213.84 141.5,213.15 142.0,212.42 142.5,211.64 143.0,210.81 143.5,209.94 144.0,209.01 144.5,208.03 145.0,207.00 145.5,205.92 146.0,204.78 146.5,203.59 147.0,202.35 147.5,201.05 148.0,199.71 148.5,198.31 149.0,196.86 149.5,195.36 150.0,193.81 150.5,192.22 151.0,190.58 151.5,188.91 152.0,187.20 152.5,185.46 153.0,183.68 153.5,181.89 154.0,180.07 154.5,178.24 155.0,176.41 155.5,174.56 156.0,172.73 156.5,170.90 157.0,169.09 157.5,167.30 158.0,165.54 158.5,163.82 159.0,162.15 159.5,160.54 160.0,158.98 160.5,157.50 161.0,156.10 161.5,154.78 162.0,153.56 162.5,152.44 163.0,151.43 163.5,150.54 164.0,149.77 164.5,149.14 165.0,148.63 165.5,148.26 166.0,148.04 166.5,147.95 167.0,148.04 167.5,148.37 168.0,148.92 168.5,149.69 169.0,150.66 169.5,151.82 170.0,153.15 170.5,154.64 171.0,156.25 171.5,157.98 172.0,159.79 172.5,161.67 173.0,163.61 173.5,165.57 174.0,167.55 174.5,169.54 175.0,171.52 175.5,173.47 176.0,175.40 176.5,177.29 177.0,179.14 177.5,180.94 178.0,182.68 178.5,184.38 179.0,186.02 179.5,187.60 180.0,189.12 180.5,190.59 181.0,191.99 181.5,193.34 182.0,194.63 182.5,195.87 183.0,197.05 183.5,198.19 184.0,199.27 184.5,200.30 185.0,201.28 185.5,202.22 186.0,203.12 186.5,203.97 187.0,204.78 187.5,205.56 188.0,206.29 188.5,207.00 189.0,207.66 189.5,208.30 190.0,208.91 190.5,209.49 191.0,210.04 191.5,210.56 192.0,211.06 192.5,211.54 193.0,211.99 193.5,212.43 194.0,212.84 194.5,213.24 195.0,213.62 195.5,213.98 196.0,214.32 196.5,214.65 197.0,214.97 197.5,215.28 198.0,215.57 198.5,215.85 199.0,216.11 199.5,216.37 200.0,216.62 200.5,216.86 201.0,217.08 201.5,217.30 202.0,217.52 202.5,217.72 203.0,217.92 203.5,218.11 204.0,218.29 204.5,218.47 205.0,218.64 205.5,218.81 206.0,218.97 206.5,219.12 207.0,219.28 207.5,219.42 208.0,219.56 208.5,219.70 209.0,219.83 209.5,219.96 210.0,220.09 210.5,220.21 211.0,220.33 211.5,220.44 212.0,220.56 212.5,220.67 213.0,220.77 213.5,220.88 214.0,220.98 214.5,221.07 215.0,221.17 215.5,221.26 216.0,221.35 216.5,221.44 218.0,221.70 219.5,221.93 221.0,222.15 222.5,222.36 224.0,222.55 225.5,222.74 227.0,222.91 228.5,223.07 230.0,223.22 231.5,223.37 233.0,223.50 234.5,223.64 236.0,223.76 237.5,223.88 239.0,223.99 240.5,224.10 242.0,224.21 243.5,224.31 245.0,224.41 246.5,224.50 248.0,224.59 249.5,224.68 249.8,224.69" fill="none" stroke="#8fcc78" stroke-width="2.0" stroke-linejoin="round" stroke-linecap="butt"/>
<line x1="44.75" y1="3.5" x2="44.75" y2="230.0" stroke="#868686" stroke-width="1"/>
<line x1="251" y1="19.90" x2="279" y2="19.90" stroke="#0000ff" stroke-width="2.0"/>
<text x="281.3" y="22.90" class="lg">Bare</text>
<line x1="251" y1="42.48" x2="279" y2="42.48" stroke="#ff0080" stroke-width="2.0"/>
<text x="281.3" y="45.48" class="lg">-3.5 V</text>
<line x1="251" y1="65.06" x2="279" y2="65.06" stroke="#ff00ff" stroke-width="2.0"/>
<text x="281.3" y="68.06" class="lg">-3.3 V</text>
<line x1="251" y1="87.64" x2="279" y2="87.64" stroke="#00ffff" stroke-width="2.0"/>
<text x="281.3" y="90.64" class="lg">-3.1 V</text>
<line x1="251" y1="110.22" x2="279" y2="110.22" stroke="#00ff00" stroke-width="2.0"/>
<text x="281.3" y="113.22" class="lg">-3 V</text>
<line x1="251" y1="132.80" x2="279" y2="132.80" stroke="#ffff00" stroke-width="2.0"/>
<text x="281.3" y="135.80" class="lg">-2.9 V</text>
<line x1="251" y1="155.38" x2="279" y2="155.38" stroke="#f0900a" stroke-width="2.0"/>
<text x="281.3" y="158.38" class="lg">-2.7 V</text>
<line x1="251" y1="177.96" x2="279" y2="177.96" stroke="#ffc0cb" stroke-width="2.0"/>
<text x="281.3" y="180.96" class="lg">0 V</text>
<line x1="251" y1="200.54" x2="279" y2="200.54" stroke="#8fcc78" stroke-width="2.0"/>
<text x="281.3" y="203.54" class="lg">+1 V</text>
<text x="63.6" y="29.4" class="pl">A</text>
<text x="155.5" y="261.8" class="ax">P(V)</text>
<text transform="translate(11.8,123.2) rotate(-90)" class="ax">I(μA)</text>
<line x1="389.7" y1="227.50" x2="393.7" y2="227.50" stroke="#868686" stroke-width="1"/>
<text x="382.60" y="232.30" text-anchor="end" class="t">0</text>
<line x1="389.7" y1="195.64" x2="393.7" y2="195.64" stroke="#868686" stroke-width="1"/>
<text x="382.60" y="200.44" text-anchor="end" class="t">10</text>
<line x1="389.7" y1="163.79" x2="393.7" y2="163.79" stroke="#868686" stroke-width="1"/>
<text x="382.60" y="168.59" text-anchor="end" class="t">20</text>
<line x1="389.7" y1="131.93" x2="393.7" y2="131.93" stroke="#868686" stroke-width="1"/>
<text x="382.60" y="136.73" text-anchor="end" class="t">30</text>
<line x1="389.7" y1="100.07" x2="393.7" y2="100.07" stroke="#868686" stroke-width="1"/>
<text x="382.60" y="104.87" text-anchor="end" class="t">40</text>
<line x1="389.7" y1="68.22" x2="393.7" y2="68.22" stroke="#868686" stroke-width="1"/>
<text x="382.60" y="73.02" text-anchor="end" class="t">50</text>
<line x1="389.7" y1="36.36" x2="393.7" y2="36.36" stroke="#868686" stroke-width="1"/>
<text x="382.60" y="41.16" text-anchor="end" class="t">60</text>
<line x1="389.7" y1="4.50" x2="393.7" y2="4.50" stroke="#868686" stroke-width="1"/>
<text x="382.60" y="9.30" text-anchor="end" class="t">70</text>
<line x1="393.7" y1="227.5" x2="673.7" y2="227.5" stroke="#868686" stroke-width="1"/>
<line x1="393.70" y1="227.5" x2="393.70" y2="231.5" stroke="#868686" stroke-width="1"/>
<text x="393.70" y="246.00" text-anchor="middle" class="t">-0.2</text>
<line x1="449.70" y1="227.5" x2="449.70" y2="231.5" stroke="#868686" stroke-width="1"/>
<text x="449.70" y="246.00" text-anchor="middle" class="t">0</text>
<line x1="505.70" y1="227.5" x2="505.70" y2="231.5" stroke="#868686" stroke-width="1"/>
<text x="505.70" y="246.00" text-anchor="middle" class="t">0.2</text>
<line x1="561.70" y1="227.5" x2="561.70" y2="231.5" stroke="#868686" stroke-width="1"/>
<text x="561.70" y="246.00" text-anchor="middle" class="t">0.4</text>
<line x1="617.70" y1="227.5" x2="617.70" y2="231.5" stroke="#868686" stroke-width="1"/>
<text x="617.70" y="246.00" text-anchor="middle" class="t">0.6</text>
<line x1="673.70" y1="227.5" x2="673.70" y2="231.5" stroke="#868686" stroke-width="1"/>
<text x="673.70" y="246.00" text-anchor="middle" class="t">0.8</text>
<polyline points="393.7,224.10 395.2,224.09 396.7,224.07 398.2,224.06 399.7,224.04 401.2,224.02 402.7,224.00 404.2,223.99 405.7,223.97 407.2,223.95 408.7,223.93 410.2,223.90 411.7,223.88 413.2,223.86 414.7,223.83 416.2,223.81 417.7,223.78 419.2,223.75 420.7,223.72 422.2,223.69 423.7,223.66 425.2,223.62 426.7,223.59 428.2,223.55 429.7,223.51 431.2,223.47 432.7,223.43 434.2,223.39 435.7,223.34 436.2,223.33 436.7,223.31 437.2,223.30 437.7,223.28 438.2,223.27 438.7,223.25 439.2,223.23 439.7,223.21 440.2,223.20 440.7,223.18 441.2,223.16 441.7,223.14 442.2,223.12 442.7,223.11 443.2,223.09 443.7,223.07 444.2,223.05 444.7,223.03 445.2,223.01 445.7,222.99 446.2,222.97 446.7,222.94 447.2,222.92 447.7,222.90 448.2,222.88 448.7,222.86 449.2,222.83 449.7,222.81 450.2,222.78 450.7,222.76 451.2,222.74 451.7,222.71 452.2,222.68 452.7,222.66 453.2,222.63 453.7,222.60 454.2,222.57 454.7,222.55 455.2,222.52 455.7,222.49 456.2,222.45 456.7,222.42 457.2,222.39 457.7,222.36 458.2,222.32 458.7,222.29 459.2,222.25 459.7,222.21 460.2,222.17 460.7,222.13 461.2,222.09 461.7,222.05 462.2,222.00 462.7,221.96 463.2,221.91 463.7,221.86 464.2,221.81 464.7,221.75 465.2,221.70 465.7,221.64 466.2,221.58 466.7,221.51 467.2,221.45 467.7,221.38 468.2,221.30 468.7,221.23 469.2,221.15 469.7,221.06 470.2,220.97 470.7,220.88 471.2,220.78 471.7,220.68 472.2,220.57 472.7,220.46 473.2,220.34 473.7,220.21 474.2,220.08 474.7,219.94 475.2,219.79 475.7,219.63 476.2,219.47 476.7,219.30 477.2,219.11 477.7,218.92 478.2,218.72 478.7,218.51 479.2,218.29 479.7,218.05 480.2,217.81 480.7,217.55 481.2,217.28 481.7,216.99 482.2,216.69 482.7,216.38 483.2,216.05 483.7,215.71 484.2,215.35 484.7,214.97 485.2,214.58 485.7,214.17 486.2,213.74 486.7,213.30 487.2,212.83 487.7,212.35 488.2,211.85 488.7,211.33 489.2,210.79 489.7,210.22 490.2,209.64 490.7,209.04 491.2,208.42 491.7,207.77 492.2,207.11 492.7,206.42 493.2,205.72 493.7,204.99 494.2,204.25 494.7,203.48 495.2,202.70 495.7,201.89 496.2,201.07 496.7,200.23 497.2,199.37 497.7,198.49 498.2,197.60 498.7,196.69 499.2,195.77 499.7,194.84 500.2,193.89 500.7,192.93 501.2,191.96 501.7,190.98 502.2,190.00 502.7,189.01 503.2,188.01 503.7,187.01 504.2,186.01 504.7,185.01 505.2,184.01 505.7,183.02 506.2,182.03 506.7,181.04 507.2,180.07 507.7,179.11 508.2,178.16 508.7,177.22 509.2,176.31 509.7,175.41 510.2,174.53 510.7,173.67 511.2,172.84 511.7,172.03 512.2,171.25 512.7,170.50 513.2,169.78 513.7,169.10 514.2,168.45 514.7,167.84 515.2,167.26 515.7,166.72 516.2,166.22 516.7,165.77 517.2,165.36 517.7,164.99 518.2,164.66 518.7,164.38 519.2,164.15 519.7,163.97 520.2,163.83 520.7,163.74 521.2,163.69 521.7,163.70 522.2,163.76 522.7,163.88 523.2,164.06 523.7,164.29 524.2,164.58 524.7,164.92 525.2,165.31 525.7,165.75 526.2,166.23 526.7,166.76 527.2,167.33 527.7,167.94 528.2,168.59 528.7,169.27 529.2,169.98 529.7,170.72 530.2,171.49 530.7,172.28 531.2,173.09 531.7,173.91 532.2,174.75 532.7,175.61 533.2,176.48 533.7,177.35 534.2,178.23 534.7,179.12 535.2,180.01 535.7,180.90 536.2,181.79 536.7,182.68 537.2,183.57 537.7,184.46 538.2,185.34 538.7,186.22 539.2,187.09 539.7,187.95 540.2,188.80 540.7,189.65 541.2,190.49 541.7,191.31 542.2,192.13 542.7,192.94 543.2,193.73 543.7,194.52 544.2,195.29 544.7,196.05 545.2,196.80 545.7,197.54 546.2,198.26 546.7,198.97 547.2,199.67 547.7,200.35 548.2,201.03 548.7,201.69 549.2,202.33 549.7,202.96 550.2,203.58 550.7,204.19 551.2,204.78 551.7,205.36 552.2,205.93 552.7,206.49 553.2,207.03 553.7,207.56 554.2,208.07 554.7,208.57 555.2,209.06 555.7,209.54 556.2,210.01 556.7,210.46 557.2,210.90 557.7,211.33 558.2,211.75 558.7,212.16 559.2,212.55 559.7,212.94 560.2,213.31 560.7,213.67 561.2,214.02 561.7,214.36 562.2,214.69 562.7,215.01 563.2,215.32 563.7,215.62 564.2,215.92 564.7,216.20 565.2,216.47 565.7,216.74 566.2,216.99 566.7,217.24 567.2,217.48 567.7,217.71 568.2,217.93 568.7,218.15 569.2,218.36 569.7,218.56 570.2,218.76 570.7,218.95 571.2,219.13 571.7,219.30 572.2,219.47 572.7,219.64 573.2,219.80 573.7,219.95 574.2,220.10 574.7,220.24 575.2,220.38 575.7,220.51 576.2,220.64 576.7,220.76 577.2,220.88 577.7,221.00 578.2,221.11 578.7,221.21 579.2,221.32 579.7,221.42 580.2,221.52 580.7,221.61 581.2,221.70 581.7,221.79 582.2,221.87 582.7,221.95 583.2,222.03 583.7,222.11 584.2,222.18 584.7,222.26 585.2,222.32 585.7,222.39 586.2,222.46 586.7,222.52 587.2,222.58 587.7,222.64 588.2,222.70 588.7,222.76 589.2,222.81 589.7,222.86 590.2,222.91 590.7,222.96 591.2,223.01 591.7,223.06 592.2,223.11 592.7,223.15 593.2,223.19 593.7,223.24 594.2,223.28 594.7,223.32 595.2,223.36 595.7,223.40 596.2,223.44 596.7,223.47 597.2,223.51 597.7,223.54 598.2,223.58 598.7,223.61 599.2,223.65 599.7,223.68 600.2,223.71 600.7,223.74 601.2,223.77 601.7,223.80 602.2,223.83 602.7,223.86 603.2,223.89 603.7,223.92 604.2,223.94 604.7,223.97 605.2,224.00 605.7,224.02 606.2,224.05 606.7,224.07 607.2,224.10 607.7,224.12 609.2,224.19 610.7,224.26 612.2,224.32 613.7,224.38 615.2,224.44 616.7,224.50 618.2,224.55 619.7,224.60 621.2,224.65 622.7,224.70 624.2,224.75 625.7,224.79 627.2,224.84 628.7,224.88 630.2,224.92 631.7,224.96 633.2,225.00 634.7,225.03 636.2,225.07 637.7,225.10 639.2,225.14 640.7,225.17 642.2,225.20 643.7,225.23 645.2,225.26 645.7,225.27" fill="none" stroke="#0000ff" stroke-width="2.0" stroke-linejoin="round" stroke-linecap="butt"/>
<polyline points="393.7,225.75 395.2,225.75 396.7,225.75 398.2,225.75 399.7,225.75 401.2,225.75 402.7,225.75 404.2,225.75 405.7,225.75 407.2,225.75 408.7,225.75 410.2,225.75 411.7,225.75 413.2,225.75 414.7,225.75 416.2,225.75 417.7,225.75 419.2,225.75 420.7,225.75 422.2,225.75 423.7,225.75 425.2,225.75 426.7,225.75 428.2,225.75 429.7,225.75 431.2,225.75 432.7,225.75 434.2,225.75 435.7,225.75 437.2,225.75 438.7,225.75 440.2,225.75 441.7,225.75 443.2,225.75 444.7,225.75 446.2,225.75 447.7,225.75 449.2,225.75 450.7,225.75 452.2,225.75 453.7,225.75 455.2,225.75 456.7,225.74 458.2,225.74 459.7,225.74 461.2,225.73 462.7,225.72 464.2,225.71 464.7,225.70 465.2,225.69 465.7,225.68 466.2,225.67 466.7,225.66 467.2,225.64 467.7,225.63 468.2,225.61 468.7,225.59 469.2,225.56 469.7,225.54 470.2,225.51 470.7,225.47 471.2,225.43 471.7,225.39 472.2,225.34 472.7,225.28 473.2,225.22 473.7,225.14 474.2,225.06 474.7,224.97 475.2,224.87 475.7,224.76 476.2,224.63 476.7,224.49 477.2,224.34 477.7,224.16 478.2,223.97 478.7,223.76 479.2,223.53 479.7,223.27 480.2,222.99 480.7,222.68 481.2,222.33 481.7,221.96 482.2,221.55 482.7,221.10 483.2,220.62 483.7,220.08 484.2,219.51 484.7,218.88 485.2,218.21 485.7,217.47 486.2,216.68 486.7,215.83 487.2,214.91 487.7,213.93 488.2,212.87 488.7,211.74 489.2,210.54 489.7,209.25 490.2,207.88 490.7,206.42 491.2,204.87 491.7,203.23 492.2,201.50 492.7,199.67 493.2,197.74 493.7,195.71 494.2,193.58 494.7,191.35 495.2,189.02 495.7,186.58 496.2,184.04 496.7,181.40 497.2,178.66 497.7,175.83 498.2,172.89 498.7,169.87 499.2,166.75 499.7,163.55 500.2,160.27 500.7,156.92 501.2,153.49 501.7,150.01 502.2,146.47 502.7,142.88 503.2,139.25 503.7,135.59 504.2,131.91 504.7,128.22 505.2,124.53 505.7,120.84 506.2,117.18 506.7,113.55 507.2,109.97 507.7,106.43 508.2,102.97 508.7,99.59 509.2,96.29 509.7,93.10 510.2,90.03 510.7,87.08 511.2,84.27 511.7,81.60 512.2,79.10 512.7,76.76 513.2,74.60 513.7,72.63 514.2,70.86 514.7,69.28 515.2,67.92 515.7,66.77 516.2,65.84 516.7,65.13 517.2,64.65 517.7,64.40 518.2,64.38 518.7,64.61 519.2,65.11 519.7,65.86 520.2,66.86 520.7,68.11 521.2,69.60 521.7,71.33 522.2,73.28 522.7,75.45 523.2,77.83 523.7,80.39 524.2,83.15 524.7,86.07 525.2,89.14 525.7,92.36 526.2,95.71 526.7,99.18 527.2,102.75 527.7,106.40 528.2,110.13 528.7,113.91 529.2,117.74 529.7,121.60 530.2,125.48 530.7,129.37 531.2,133.25 531.7,137.11 532.2,140.94 532.7,144.73 533.2,148.47 533.7,152.15 534.2,155.76 534.7,159.30 535.2,162.75 535.7,166.12 536.2,169.39 536.7,172.57 537.2,175.64 537.7,178.60 538.2,181.45 538.7,184.20 539.2,186.83 539.7,189.35 540.2,191.75 540.7,194.04 541.2,196.22 541.7,198.29 542.2,200.25 542.7,202.10 543.2,203.85 543.7,205.50 544.2,207.05 544.7,208.50 545.2,209.86 545.7,211.13 546.2,212.31 546.7,213.42 547.2,214.44 547.7,215.39 548.2,216.28 548.7,217.09 549.2,217.84 549.7,218.53 550.2,219.17 550.7,219.76 551.2,220.29 551.7,220.78 552.2,221.23 552.7,221.64 553.2,222.01 553.7,222.35 554.2,222.66 554.7,222.94 555.2,223.19 555.7,223.42 556.2,223.63 556.7,223.81 557.2,223.98 557.7,224.13 558.2,224.27 558.7,224.39 559.2,224.50 559.7,224.60 560.2,224.69 560.7,224.76 561.2,224.84 561.7,224.90 562.2,224.95 562.7,225.01 563.2,225.05 563.7,225.09 564.2,225.13 564.7,225.16 565.2,225.19 565.7,225.22 566.2,225.24 566.7,225.26 567.2,225.28 567.7,225.30 568.2,225.31 568.7,225.33 569.2,225.34 569.7,225.35 570.2,225.36 570.7,225.37 571.2,225.38 571.7,225.39 572.2,225.40 572.7,225.41 574.2,225.43 575.7,225.45 577.2,225.46 578.7,225.48 580.2,225.49 581.7,225.50 583.2,225.51 584.7,225.52 586.2,225.53 587.7,225.54 589.2,225.55 590.7,225.56 592.2,225.56 593.7,225.56 595.2,225.55 596.7,225.54 598.2,225.53 599.7,225.51 601.2,225.49 602.7,225.46 604.2,225.43 605.7,225.39 607.2,225.35 608.7,225.31 610.2,225.26 611.7,225.21 613.2,225.16 614.7,225.10 616.2,225.03 617.7,224.97 619.2,224.90 620.7,224.82 622.2,224.74 623.7,224.66 625.2,224.57 626.7,224.48 628.2,224.38 629.7,224.28 631.2,224.18 632.7,224.07 634.2,223.96 635.7,223.85 637.2,223.73 638.7,223.60 640.2,223.48 641.7,223.35 643.2,223.21 644.7,223.07 645.7,222.98" fill="none" stroke="#ff0000" stroke-width="2.0" stroke-linejoin="round" stroke-linecap="butt"/>
<polyline points="393.7,225.75 395.2,225.75 396.7,225.75 398.2,225.75 399.7,225.75 401.2,225.75 402.7,225.75 404.2,225.75 405.7,225.75 407.2,225.75 408.7,225.75 410.2,225.75 411.7,225.75 413.2,225.75 414.7,225.75 416.2,225.75 417.7,225.75 419.2,225.75 420.7,225.75 422.2,225.75 423.7,225.75 425.2,225.75 426.7,225.75 428.2,225.75 429.7,225.75 431.2,225.75 432.7,225.75 434.2,225.75 435.7,225.75 437.2,225.75 438.7,225.75 440.2,225.75 441.7,225.75 443.2,225.75 444.7,225.75 446.2,225.75 447.7,225.75 449.2,225.75 450.7,225.75 452.2,225.75 453.7,225.75 455.2,225.75 456.7,225.75 458.2,225.74 459.7,225.74 461.2,225.73 462.7,225.73 464.2,225.71 464.7,225.71 465.2,225.70 465.7,225.69 466.2,225.69 466.7,225.68 467.2,225.66 467.7,225.65 468.2,225.64 468.7,225.62 469.2,225.60 469.7,225.58 470.2,225.55 470.7,225.52 471.2,225.49 471.7,225.45 472.2,225.41 472.7,225.36 473.2,225.31 473.7,225.25 474.2,225.18 474.7,225.11 475.2,225.02 475.7,224.93 476.2,224.82 476.7,224.70 477.2,224.57 477.7,224.43 478.2,224.26 478.7,224.08 479.2,223.88 479.7,223.66 480.2,223.42 480.7,223.15 481.2,222.86 481.7,222.54 482.2,222.18 482.7,221.79 483.2,221.37 483.7,220.91 484.2,220.40 484.7,219.86 485.2,219.26 485.7,218.62 486.2,217.92 486.7,217.17 487.2,216.36 487.7,215.48 488.2,214.54 488.7,213.54 489.2,212.46 489.7,211.30 490.2,210.07 490.7,208.76 491.2,207.36 491.7,205.88 492.2,204.30 492.7,202.64 493.2,200.88 493.7,199.03 494.2,197.08 494.7,195.03 495.2,192.88 495.7,190.63 496.2,188.28 496.7,185.83 497.2,183.27 497.7,180.63 498.2,177.88 498.7,175.04 499.2,172.10 499.7,169.08 500.2,165.97 500.7,162.79 501.2,159.52 501.7,156.19 502.2,152.79 502.7,149.34 503.2,145.83 503.7,142.28 504.2,138.70 504.7,135.10 505.2,131.48 505.7,127.86 506.2,124.24 506.7,120.63 507.2,117.06 507.7,113.52 508.2,110.03 508.7,106.60 509.2,103.25 509.7,99.98 510.2,96.81 510.7,93.74 511.2,90.80 511.7,87.98 512.2,85.31 512.7,82.79 513.2,80.43 513.7,78.24 514.2,76.23 514.7,74.41 515.2,72.79 515.7,71.36 516.2,70.15 516.7,69.15 517.2,68.37 517.7,67.81 518.2,67.47 518.7,67.36 519.2,67.48 519.7,67.87 520.2,68.50 520.7,69.39 521.2,70.52 521.7,71.89 522.2,73.50 522.7,75.33 523.2,77.37 523.7,79.62 524.2,82.07 524.7,84.70 525.2,87.50 525.7,90.46 526.2,93.56 526.7,96.80 527.2,100.16 527.7,103.62 528.2,107.18 528.7,110.81 529.2,114.50 529.7,118.24 530.2,122.02 530.7,125.82 531.2,129.64 531.7,133.45 532.2,137.24 532.7,141.02 533.2,144.75 533.7,148.44 534.2,152.08 534.7,155.65 535.2,159.16 535.7,162.58 536.2,165.92 536.7,169.17 537.2,172.32 537.7,175.37 538.2,178.32 538.7,181.17 539.2,183.91 539.7,186.53 540.2,189.05 540.7,191.45 541.2,193.75 541.7,195.93 542.2,198.00 542.7,199.97 543.2,201.83 543.7,203.59 544.2,205.24 544.7,206.80 545.2,208.26 545.7,209.63 546.2,210.91 546.7,212.11 547.2,213.22 547.7,214.26 548.2,215.22 548.7,216.11 549.2,216.94 549.7,217.70 550.2,218.40 550.7,219.05 551.2,219.64 551.7,220.19 552.2,220.69 552.7,221.15 553.2,221.56 553.7,221.94 554.2,222.29 554.7,222.60 555.2,222.89 555.7,223.14 556.2,223.38 556.7,223.59 557.2,223.78 557.7,223.95 558.2,224.11 558.7,224.25 559.2,224.37 559.7,224.48 560.2,224.58 560.7,224.67 561.2,224.75 561.7,224.83 562.2,224.89 562.7,224.95 563.2,225.00 563.7,225.05 564.2,225.09 564.7,225.12 565.2,225.16 565.7,225.19 566.2,225.22 566.7,225.24 567.2,225.26 567.7,225.28 568.2,225.30 568.7,225.31 569.2,225.33 569.7,225.34 570.2,225.36 570.7,225.37 571.2,225.38 571.7,225.39 572.2,225.40 572.7,225.40 573.2,225.41 573.7,225.42 575.2,225.44 576.7,225.46 578.2,225.47 579.7,225.48 581.2,225.50 582.7,225.51 584.2,225.52 585.7,225.53 587.2,225.54 588.7,225.55 590.2,225.55 591.7,225.56 593.2,225.56 594.7,225.55 596.2,225.55 597.7,225.53 599.2,225.52 600.7,225.49 602.2,225.47 603.7,225.44 605.2,225.41 606.7,225.37 608.2,225.33 609.7,225.28 611.2,225.23 612.7,225.18 614.2,225.12 615.7,225.06 617.2,224.99 618.7,224.92 620.2,224.85 621.7,224.77 623.2,224.69 624.7,224.60 626.2,224.51 627.7,224.42 629.2,224.32 630.7,224.22 632.2,224.11 633.7,224.00 635.2,223.89 636.7,223.77 638.2,223.65 639.7,223.52 641.2,223.39 642.7,223.26 644.2,223.12 645.7,222.98" fill="none" stroke="#ffc0b0" stroke-width="2.0" stroke-linejoin="round" stroke-linecap="butt"/>
<polyline points="393.7,225.75 395.2,225.75 396.7,225.75 398.2,225.75 399.7,225.75 401.2,225.75 402.7,225.75 404.2,225.75 405.7,225.75 407.2,225.75 408.7,225.75 410.2,225.75 411.7,225.75 413.2,225.75 414.7,225.75 416.2,225.75 417.7,225.75 419.2,225.75 420.7,225.75 422.2,225.75 423.7,225.75 425.2,225.75 426.7,225.75 428.2,225.75 429.7,225.75 431.2,225.75 432.7,225.75 434.2,225.75 435.7,225.75 437.2,225.75 438.7,225.75 440.2,225.75 441.7,225.75 443.2,225.75 444.7,225.75 446.2,225.75 447.7,225.75 449.2,225.75 450.7,225.75 452.2,225.75 453.7,225.75 455.2,225.75 456.7,225.74 458.2,225.74 459.7,225.74 461.2,225.73 462.7,225.72 464.2,225.71 464.7,225.70 465.2,225.69 465.7,225.68 466.2,225.67 466.7,225.66 467.2,225.65 467.7,225.63 468.2,225.61 468.7,225.59 469.2,225.57 469.7,225.54 470.2,225.51 470.7,225.48 471.2,225.44 471.7,225.39 472.2,225.34 472.7,225.29 473.2,225.22 473.7,225.15 474.2,225.07 474.7,224.98 475.2,224.88 475.7,224.77 476.2,224.64 476.7,224.50 477.2,224.35 477.7,224.17 478.2,223.98 478.7,223.77 479.2,223.53 479.7,223.27 480.2,222.99 480.7,222.68 481.2,222.33 481.7,221.95 482.2,221.54 482.7,221.09 483.2,220.59 483.7,220.05 484.2,219.47 484.7,218.83 485.2,218.15 485.7,217.40 486.2,216.59 486.7,215.73 487.2,214.79 487.7,213.78 488.2,212.70 488.7,211.55 489.2,210.31 489.7,208.99 490.2,207.58 490.7,206.08 491.2,204.49 491.7,202.80 492.2,201.01 492.7,199.12 493.2,197.13 493.7,195.03 494.2,192.82 494.7,190.51 495.2,188.09 495.7,185.55 496.2,182.91 496.7,180.16 497.2,177.31 497.7,174.34 498.2,171.28 498.7,168.11 499.2,164.84 499.7,161.49 500.2,158.04 500.7,154.51 501.2,150.90 501.7,147.22 502.2,143.48 502.7,139.68 503.2,135.84 503.7,131.96 504.2,128.04 504.7,124.11 505.2,120.18 505.7,116.24 506.2,112.32 506.7,108.43 507.2,104.58 507.7,100.78 508.2,97.04 508.7,93.38 509.2,89.81 509.7,86.34 510.2,82.98 510.7,79.75 511.2,76.67 511.7,73.73 512.2,70.96 512.7,68.36 513.2,65.94 513.7,63.72 514.2,61.70 514.7,59.89 515.2,58.30 515.7,56.94 516.2,55.80 516.7,54.91 517.2,54.25 517.7,53.83 518.2,53.66 518.7,53.75 519.2,54.11 519.7,54.74 520.2,55.65 520.7,56.83 521.2,58.27 521.7,59.96 522.2,61.90 522.7,64.07 523.2,66.47 523.7,69.09 524.2,71.91 524.7,74.92 525.2,78.10 525.7,81.44 526.2,84.93 526.7,88.56 527.2,92.30 527.7,96.14 528.2,100.07 528.7,104.07 529.2,108.13 529.7,112.23 530.2,116.35 530.7,120.49 531.2,124.64 531.7,128.77 532.2,132.87 532.7,136.94 533.2,140.96 533.7,144.92 534.2,148.82 534.7,152.64 535.2,156.38 535.7,160.03 536.2,163.58 536.7,167.02 537.2,170.36 537.7,173.59 538.2,176.70 538.7,179.70 539.2,182.58 539.7,185.34 540.2,187.97 540.7,190.49 541.2,192.88 541.7,195.16 542.2,197.32 542.7,199.36 543.2,201.30 543.7,203.12 544.2,204.83 544.7,206.44 545.2,207.95 545.7,209.36 546.2,210.67 546.7,211.90 547.2,213.05 547.7,214.11 548.2,215.09 548.7,216.00 549.2,216.84 549.7,217.62 550.2,218.34 550.7,218.99 551.2,219.59 551.7,220.15 552.2,220.65 552.7,221.11 553.2,221.53 553.7,221.92 554.2,222.26 554.7,222.58 555.2,222.87 555.7,223.12 556.2,223.36 556.7,223.57 557.2,223.76 557.7,223.93 558.2,224.09 558.7,224.22 559.2,224.35 559.7,224.46 560.2,224.56 560.7,224.65 561.2,224.73 561.7,224.80 562.2,224.87 562.7,224.92 563.2,224.98 563.7,225.02 564.2,225.06 564.7,225.10 565.2,225.13 565.7,225.16 566.2,225.19 566.7,225.21 567.2,225.24 567.7,225.26 568.2,225.27 568.7,225.29 569.2,225.31 569.7,225.32 570.2,225.33 570.7,225.34 571.2,225.35 571.7,225.36 572.2,225.37 572.7,225.38 573.2,225.39 574.7,225.41 576.2,225.43 577.7,225.45 579.2,225.46 580.7,225.47 582.2,225.49 583.7,225.50 585.2,225.51 586.7,225.52 588.2,225.53 589.7,225.54 591.2,225.54 592.7,225.55 594.2,225.54 595.7,225.54 597.2,225.53 598.7,225.51 600.2,225.49 601.7,225.47 603.2,225.44 604.7,225.41 606.2,225.37 607.7,225.33 609.2,225.29 610.7,225.24 612.2,225.19 613.7,225.13 615.2,225.07 616.7,225.01 618.2,224.94 619.7,224.86 621.2,224.79 622.7,224.71 624.2,224.62 625.7,224.53 627.2,224.44 628.7,224.34 630.2,224.24 631.7,224.14 633.2,224.03 634.7,223.92 636.2,223.80 637.7,223.68 639.2,223.56 640.7,223.43 642.2,223.30 643.7,223.16 645.2,223.02 645.7,222.97" fill="none" stroke="#00ffff" stroke-width="2.0" stroke-linejoin="round" stroke-linecap="butt"/>
<polyline points="393.7,225.75 395.2,225.75 396.7,225.75 398.2,225.75 399.7,225.75 401.2,225.75 402.7,225.75 404.2,225.75 405.7,225.75 407.2,225.75 408.7,225.75 410.2,225.75 411.7,225.75 413.2,225.75 414.7,225.75 416.2,225.75 417.7,225.75 419.2,225.75 420.7,225.75 422.2,225.75 423.7,225.75 425.2,225.75 426.7,225.75 428.2,225.75 429.7,225.75 431.2,225.75 432.7,225.75 434.2,225.75 435.7,225.75 437.2,225.75 438.7,225.75 440.2,225.75 441.7,225.75 443.2,225.75 444.7,225.75 446.2,225.75 447.7,225.75 449.2,225.75 450.7,225.75 452.2,225.75 453.7,225.75 455.2,225.74 456.7,225.74 458.2,225.74 459.7,225.73 461.2,225.73 462.7,225.71 464.2,225.69 464.7,225.68 465.2,225.67 465.7,225.66 466.2,225.64 466.7,225.63 467.2,225.61 467.7,225.59 468.2,225.56 468.7,225.53 469.2,225.50 469.7,225.46 470.2,225.42 470.7,225.38 471.2,225.32 471.7,225.27 472.2,225.20 472.7,225.12 473.2,225.04 473.7,224.94 474.2,224.84 474.7,224.72 475.2,224.59 475.7,224.44 476.2,224.27 476.7,224.09 477.2,223.89 477.7,223.66 478.2,223.42 478.7,223.14 479.2,222.84 479.7,222.51 480.2,222.14 480.7,221.74 481.2,221.30 481.7,220.82 482.2,220.29 482.7,219.72 483.2,219.10 483.7,218.42 484.2,217.69 484.7,216.89 485.2,216.03 485.7,215.10 486.2,214.10 486.7,213.03 487.2,211.87 487.7,210.63 488.2,209.30 488.7,207.89 489.2,206.37 489.7,204.76 490.2,203.05 490.7,201.23 491.2,199.31 491.7,197.27 492.2,195.12 492.7,192.86 493.2,190.47 493.7,187.97 494.2,185.35 494.7,182.61 495.2,179.75 495.7,176.77 496.2,173.67 496.7,170.46 497.2,167.12 497.7,163.68 498.2,160.12 498.7,156.47 499.2,152.71 499.7,148.85 500.2,144.91 500.7,140.89 501.2,136.80 501.7,132.64 502.2,128.42 502.7,124.16 503.2,119.86 503.7,115.54 504.2,111.20 504.7,106.86 505.2,102.54 505.7,98.23 506.2,93.97 506.7,89.76 507.2,85.61 507.7,81.54 508.2,77.56 508.7,73.69 509.2,69.94 509.7,66.33 510.2,62.86 510.7,59.56 511.2,56.43 511.7,53.49 512.2,50.74 512.7,48.21 513.2,45.89 513.7,43.80 514.2,41.95 514.7,40.35 515.2,38.99 515.7,37.90 516.2,37.06 516.7,36.50 517.2,36.20 517.7,36.17 518.2,36.45 518.7,37.03 519.2,37.91 519.7,39.08 520.2,40.55 520.7,42.30 521.2,44.33 521.7,46.62 522.2,49.17 522.7,51.95 523.2,54.97 523.7,58.20 524.2,61.63 524.7,65.24 525.2,69.03 525.7,72.96 526.2,77.03 526.7,81.22 527.2,85.51 527.7,89.89 528.2,94.34 528.7,98.84 529.2,103.37 529.7,107.93 530.2,112.50 530.7,117.05 531.2,121.59 531.7,126.09 532.2,130.54 532.7,134.93 533.2,139.26 533.7,143.50 534.2,147.66 534.7,151.72 535.2,155.67 535.7,159.52 536.2,163.25 536.7,166.85 537.2,170.34 537.7,173.69 538.2,176.91 538.7,180.01 539.2,182.97 539.7,185.79 540.2,188.48 540.7,191.05 541.2,193.48 541.7,195.78 542.2,197.96 542.7,200.01 543.2,201.95 543.7,203.77 544.2,205.47 544.7,207.07 545.2,208.56 545.7,209.96 546.2,211.25 546.7,212.46 547.2,213.58 547.7,214.61 548.2,215.57 548.7,216.45 549.2,217.27 549.7,218.02 550.2,218.71 550.7,219.34 551.2,219.91 551.7,220.44 552.2,220.92 552.7,221.36 553.2,221.76 553.7,222.12 554.2,222.45 554.7,222.75 555.2,223.01 555.7,223.26 556.2,223.48 556.7,223.67 557.2,223.85 557.7,224.01 558.2,224.15 558.7,224.28 559.2,224.40 559.7,224.50 560.2,224.59 560.7,224.68 561.2,224.75 561.7,224.82 562.2,224.88 562.7,224.93 563.2,224.98 563.7,225.02 564.2,225.06 564.7,225.09 565.2,225.12 565.7,225.15 566.2,225.17 566.7,225.20 567.2,225.22 567.7,225.24 568.2,225.25 568.7,225.27 569.2,225.28 569.7,225.30 570.2,225.31 570.7,225.32 571.2,225.33 571.7,225.34 572.2,225.35 573.7,225.37 575.2,225.39 576.7,225.41 578.2,225.43 579.7,225.44 581.2,225.46 582.7,225.47 584.2,225.48 585.7,225.49 587.2,225.50 588.7,225.51 590.2,225.52 591.7,225.53 593.2,225.53 594.7,225.53 596.2,225.52 597.7,225.51 599.2,225.49 600.7,225.47 602.2,225.45 603.7,225.42 605.2,225.38 606.7,225.35 608.2,225.31 609.7,225.26 611.2,225.21 612.7,225.16 614.2,225.10 615.7,225.04 617.2,224.97 618.7,224.90 620.2,224.83 621.7,224.75 623.2,224.67 624.7,224.58 626.2,224.49 627.7,224.40 629.2,224.30 630.7,224.20 632.2,224.10 633.7,223.99 635.2,223.87 636.7,223.75 638.2,223.63 639.7,223.51 641.2,223.38 642.7,223.24 644.2,223.11 645.7,222.97" fill="none" stroke="#00ff00" stroke-width="2.0" stroke-linejoin="round" stroke-linecap="butt"/>
<polyline points="393.7,226.54 395.2,226.54 396.7,226.54 398.2,226.54 399.7,226.54 401.2,226.54 402.7,226.54 404.2,226.54 405.7,226.54 407.2,226.54 408.7,226.54 410.2,226.54 411.7,226.54 413.2,226.54 414.7,226.54 416.2,226.54 417.7,226.54 419.2,226.54 420.7,226.54 422.2,226.54 423.7,226.54 425.2,226.54 426.7,226.54 428.2,226.54 429.7,226.54 431.2,226.54 432.7,226.54 434.2,226.54 435.7,226.54 437.2,226.54 438.7,226.54 440.2,226.54 441.7,226.54 443.2,226.54 444.7,226.54 446.2,226.54 447.7,226.54 449.2,226.54 450.7,226.54 452.2,226.54 453.7,226.54 455.2,226.54 456.7,226.54 458.2,226.54 459.7,226.54 461.2,226.53 462.7,226.53 464.2,226.51 465.7,226.50 466.2,226.49 466.7,226.48 467.2,226.47 467.7,226.46 468.2,226.44 468.7,226.43 469.2,226.41 469.7,226.39 470.2,226.37 470.7,226.34 471.2,226.31 471.7,226.27 472.2,226.24 472.7,226.19 473.2,226.14 473.7,226.08 474.2,226.02 474.7,225.95 475.2,225.87 475.7,225.78 476.2,225.67 476.7,225.56 477.2,225.43 477.7,225.29 478.2,225.14 478.7,224.96 479.2,224.77 479.7,224.55 480.2,224.31 480.7,224.05 481.2,223.76 481.7,223.44 482.2,223.09 482.7,222.70 483.2,222.28 483.7,221.81 484.2,221.31 484.7,220.76 485.2,220.16 485.7,219.50 486.2,218.80 486.7,218.03 487.2,217.20 487.7,216.30 488.2,215.34 488.7,214.30 489.2,213.18 489.7,211.98 490.2,210.70 490.7,209.33 491.2,207.86 491.7,206.31 492.2,204.65 492.7,202.89 493.2,201.02 493.7,199.05 494.2,196.96 494.7,194.77 495.2,192.45 495.7,190.03 496.2,187.48 496.7,184.82 497.2,182.04 497.7,179.14 498.2,176.12 498.7,172.99 499.2,169.75 499.7,166.39 500.2,162.93 500.7,159.36 501.2,155.70 501.7,151.94 502.2,148.09 502.7,144.16 503.2,140.16 503.7,136.09 504.2,131.97 504.7,127.80 505.2,123.59 505.7,119.35 506.2,115.10 506.7,110.85 507.2,106.60 507.7,102.37 508.2,98.18 508.7,94.04 509.2,89.96 509.7,85.95 510.2,82.03 510.7,78.21 511.2,74.51 511.7,70.93 512.2,67.50 512.7,64.23 513.2,61.12 513.7,58.19 514.2,55.46 514.7,52.93 515.2,50.61 515.7,48.51 516.2,46.65 516.7,45.02 517.2,43.64 517.7,42.51 518.2,41.64 518.7,41.03 519.2,40.68 519.7,40.60 520.2,40.81 520.7,41.31 521.2,42.12 521.7,43.22 522.2,44.61 522.7,46.29 523.2,48.23 523.7,50.44 524.2,52.90 524.7,55.60 525.2,58.52 525.7,61.66 526.2,65.00 526.7,68.51 527.2,72.20 527.7,76.03 528.2,80.00 528.7,84.08 529.2,88.27 529.7,92.54 530.2,96.88 530.7,101.27 531.2,105.70 531.7,110.16 532.2,114.62 532.7,119.07 533.2,123.50 533.7,127.90 534.2,132.26 534.7,136.55 535.2,140.78 535.7,144.94 536.2,149.01 536.7,152.98 537.2,156.86 537.7,160.63 538.2,164.28 538.7,167.82 539.2,171.23 539.7,174.53 540.2,177.69 540.7,180.73 541.2,183.64 541.7,186.42 542.2,189.07 542.7,191.59 543.2,193.99 543.7,196.26 544.2,198.40 544.7,200.43 545.2,202.34 545.7,204.14 546.2,205.83 546.7,207.41 547.2,208.89 547.7,210.27 548.2,211.56 548.7,212.76 549.2,213.87 549.7,214.90 550.2,215.86 550.7,216.74 551.2,217.55 551.7,218.30 552.2,218.99 552.7,219.63 553.2,220.21 553.7,220.74 554.2,221.22 554.7,221.67 555.2,222.07 555.7,222.44 556.2,222.78 556.7,223.08 557.2,223.35 557.7,223.60 558.2,223.83 558.7,224.04 559.2,224.22 559.7,224.39 560.2,224.54 560.7,224.67 561.2,224.80 561.7,224.91 562.2,225.01 562.7,225.10 563.2,225.18 563.7,225.25 564.2,225.32 564.7,225.38 565.2,225.43 565.7,225.48 566.2,225.52 566.7,225.56 567.2,225.60 567.7,225.63 568.2,225.67 568.7,225.69 569.2,225.72 569.7,225.74 570.2,225.77 570.7,225.79 571.2,225.81 571.7,225.82 572.2,225.84 572.7,225.86 573.2,225.87 573.7,225.89 574.2,225.90 574.7,225.91 576.2,225.95 577.7,225.98 579.2,226.01 580.7,226.03 582.2,226.05 583.7,226.08 585.2,226.10 586.7,226.12 588.2,226.13 589.7,226.15 591.2,226.17 592.7,226.18 594.2,226.19 595.7,226.21 597.2,226.22 598.7,226.23 600.2,226.24 601.7,226.25 603.2,226.26 604.7,226.27 606.2,226.28 607.7,226.29 609.2,226.30 610.7,226.31 612.2,226.31 613.7,226.32 615.2,226.33 616.7,226.33 618.2,226.34 619.7,226.35 621.2,226.35 622.7,226.36 624.2,226.36 625.7,226.37 627.2,226.37 628.7,226.38 630.2,226.38 631.7,226.39 633.2,226.39 634.7,226.39 636.2,226.40 637.7,226.40 639.2,226.41 640.7,226.41 642.2,226.41 643.7,226.41 645.2,226.42 645.7,226.42" fill="none" stroke="#ffee00" stroke-width="2.0" stroke-linejoin="round" stroke-linecap="butt"/>
<polyline points="393.7,225.75 395.2,225.75 396.7,225.75 398.2,225.75 399.7,225.75 401.2,225.75 402.7,225.75 404.2,225.75 405.7,225.75 407.2,225.75 408.7,225.75 410.2,225.75 411.7,225.75 413.2,225.75 414.7,225.75 416.2,225.75 417.7,225.75 419.2,225.75 420.7,225.75 422.2,225.75 423.7,225.75 425.2,225.75 426.7,225.75 428.2,225.75 429.7,225.75 431.2,225.75 432.7,225.75 434.2,225.75 435.7,225.75 437.2,225.75 438.7,225.75 440.2,225.75 441.7,225.75 443.2,225.75 444.7,225.75 446.2,225.75 447.7,225.75 449.2,225.75 450.7,225.75 452.2,225.75 453.7,225.75 455.2,225.75 456.7,225.74 458.2,225.74 459.7,225.74 461.2,225.73 462.7,225.72 464.2,225.71 464.7,225.70 465.2,225.69 465.7,225.68 466.2,225.67 466.7,225.66 467.2,225.64 467.7,225.63 468.2,225.61 468.7,225.59 469.2,225.56 469.7,225.54 470.2,225.50 470.7,225.47 471.2,225.43 471.7,225.38 472.2,225.33 472.7,225.27 473.2,225.21 473.7,225.14 474.2,225.06 474.7,224.96 475.2,224.86 475.7,224.75 476.2,224.62 476.7,224.48 477.2,224.32 477.7,224.14 478.2,223.95 478.7,223.73 479.2,223.49 479.7,223.23 480.2,222.94 480.7,222.62 481.2,222.28 481.7,221.89 482.2,221.47 482.7,221.02 483.2,220.52 483.7,219.98 484.2,219.39 484.7,218.75 485.2,218.05 485.7,217.30 486.2,216.49 486.7,215.62 487.2,214.67 487.7,213.66 488.2,212.58 488.7,211.42 489.2,210.17 489.7,208.85 490.2,207.44 490.7,205.93 491.2,204.34 491.7,202.65 492.2,200.86 492.7,198.97 493.2,196.98 493.7,194.89 494.2,192.69 494.7,190.38 495.2,187.96 495.7,185.44 496.2,182.81 496.7,180.08 497.2,177.24 497.7,174.29 498.2,171.25 498.7,168.11 499.2,164.87 499.7,161.54 500.2,158.13 500.7,154.64 501.2,151.07 501.7,147.43 502.2,143.74 502.7,139.99 503.2,136.20 503.7,132.38 504.2,128.53 504.7,124.66 505.2,120.79 505.7,116.93 506.2,113.09 506.7,109.27 507.2,105.50 507.7,101.79 508.2,98.14 508.7,94.57 509.2,91.09 509.7,87.72 510.2,84.46 510.7,81.33 511.2,78.34 511.7,75.51 512.2,72.84 512.7,70.34 513.2,68.03 513.7,65.91 514.2,63.99 514.7,62.28 515.2,60.79 515.7,59.52 516.2,58.48 516.7,57.67 517.2,57.10 517.7,56.77 518.2,56.68 518.7,56.85 519.2,57.29 519.7,58.00 520.2,58.98 520.7,60.22 521.2,61.71 521.7,63.45 522.2,65.43 522.7,67.64 523.2,70.07 523.7,72.70 524.2,75.53 524.7,78.54 525.2,81.72 525.7,85.05 526.2,88.53 526.7,92.13 527.2,95.83 527.7,99.64 528.2,103.52 528.7,107.47 529.2,111.47 529.7,115.51 530.2,119.57 530.7,123.64 531.2,127.71 531.7,131.76 532.2,135.78 532.7,139.76 533.2,143.70 533.7,147.57 534.2,151.38 534.7,155.11 535.2,158.75 535.7,162.30 536.2,165.76 536.7,169.11 537.2,172.36 537.7,175.50 538.2,178.52 538.7,181.42 539.2,184.21 539.7,186.89 540.2,189.44 540.7,191.87 541.2,194.19 541.7,196.39 542.2,198.47 542.7,200.45 543.2,202.31 543.7,204.06 544.2,205.71 544.7,207.26 545.2,208.71 545.7,210.07 546.2,211.33 546.7,212.51 547.2,213.61 547.7,214.63 548.2,215.57 548.7,216.45 549.2,217.25 549.7,217.99 550.2,218.68 550.7,219.31 551.2,219.88 551.7,220.41 552.2,220.89 552.7,221.33 553.2,221.73 553.7,222.10 554.2,222.43 554.7,222.73 555.2,223.00 555.7,223.25 556.2,223.47 556.7,223.67 557.2,223.85 557.7,224.01 558.2,224.16 558.7,224.29 559.2,224.41 559.7,224.52 560.2,224.61 560.7,224.70 561.2,224.77 561.7,224.84 562.2,224.90 562.7,224.96 563.2,225.00 563.7,225.05 564.2,225.09 564.7,225.12 565.2,225.15 565.7,225.18 566.2,225.21 566.7,225.23 567.2,225.25 567.7,225.27 568.2,225.29 568.7,225.30 569.2,225.32 569.7,225.33 570.2,225.34 570.7,225.35 571.2,225.36 571.7,225.37 572.2,225.38 572.7,225.39 573.2,225.40 574.7,225.42 576.2,225.44 577.7,225.45 579.2,225.47 580.7,225.48 582.2,225.49 583.7,225.50 585.2,225.51 586.7,225.52 588.2,225.53 589.7,225.54 591.2,225.55 592.7,225.55 594.2,225.55 595.7,225.54 597.2,225.53 598.7,225.51 600.2,225.49 601.7,225.47 603.2,225.44 604.7,225.41 606.2,225.37 607.7,225.33 609.2,225.29 610.7,225.24 612.2,225.19 613.7,225.13 615.2,225.07 616.7,225.01 618.2,224.94 619.7,224.87 621.2,224.79 622.7,224.71 624.2,224.62 625.7,224.54 627.2,224.44 628.7,224.35 630.2,224.25 631.7,224.14 633.2,224.03 634.7,223.92 636.2,223.80 637.7,223.68 639.2,223.56 640.7,223.43 642.2,223.30 643.7,223.16 645.2,223.02 645.7,222.97" fill="none" stroke="#ff00ff" stroke-width="2.0" stroke-linejoin="round" stroke-linecap="butt"/>
<polyline points="393.7,225.51 395.2,225.51 396.7,225.51 398.2,225.51 399.7,225.51 401.2,225.50 402.7,225.50 404.2,225.50 405.7,225.50 407.2,225.50 408.7,225.49 410.2,225.49 411.7,225.49 413.2,225.48 414.7,225.48 416.2,225.48 417.7,225.48 419.2,225.47 420.7,225.47 422.2,225.46 423.7,225.46 425.2,225.46 426.7,225.45 428.2,225.45 429.7,225.44 431.2,225.44 432.7,225.43 434.2,225.43 435.7,225.42 437.2,225.42 438.7,225.41 440.2,225.40 441.7,225.40 443.2,225.39 444.7,225.38 446.2,225.37 447.7,225.36 449.2,225.35 450.7,225.34 452.2,225.33 453.7,225.31 455.2,225.29 456.7,225.27 457.2,225.26 457.7,225.25 458.2,225.24 458.7,225.23 459.2,225.21 459.7,225.20 460.2,225.18 460.7,225.17 461.2,225.15 461.7,225.13 462.2,225.11 462.7,225.09 463.2,225.06 463.7,225.03 464.2,225.00 464.7,224.96 465.2,224.93 465.7,224.88 466.2,224.84 466.7,224.79 467.2,224.73 467.7,224.67 468.2,224.60 468.7,224.53 469.2,224.45 469.7,224.36 470.2,224.27 470.7,224.16 471.2,224.04 471.7,223.92 472.2,223.78 472.7,223.63 473.2,223.46 473.7,223.28 474.2,223.09 474.7,222.88 475.2,222.65 475.7,222.40 476.2,222.13 476.7,221.83 477.2,221.52 477.7,221.18 478.2,220.81 478.7,220.41 479.2,219.98 479.7,219.52 480.2,219.03 480.7,218.50 481.2,217.94 481.7,217.33 482.2,216.68 482.7,215.99 483.2,215.25 483.7,214.47 484.2,213.64 484.7,212.75 485.2,211.81 485.7,210.82 486.2,209.76 486.7,208.65 487.2,207.48 487.7,206.25 488.2,204.95 488.7,203.58 489.2,202.15 489.7,200.65 490.2,199.08 490.7,197.44 491.2,195.72 491.7,193.94 492.2,192.08 492.7,190.16 493.2,188.16 493.7,186.09 494.2,183.94 494.7,181.73 495.2,179.45 495.7,177.10 496.2,174.69 496.7,172.21 497.2,169.67 497.7,167.07 498.2,164.42 498.7,161.72 499.2,158.97 499.7,156.18 500.2,153.35 500.7,150.48 501.2,147.58 501.7,144.66 502.2,141.72 502.7,138.77 503.2,135.82 503.7,132.86 504.2,129.91 504.7,126.98 505.2,124.07 505.7,121.18 506.2,118.33 506.7,115.53 507.2,112.77 507.7,110.08 508.2,107.45 508.7,104.89 509.2,102.41 509.7,100.02 510.2,97.73 510.7,95.54 511.2,93.45 511.7,91.49 512.2,89.64 512.7,87.93 513.2,86.35 513.7,84.90 514.2,83.61 514.7,82.46 515.2,81.46 515.7,80.62 516.2,79.94 516.7,79.42 517.2,79.06 517.7,78.87 518.2,78.84 518.7,79.03 519.2,79.43 519.7,80.04 520.2,80.87 520.7,81.90 521.2,83.14 521.7,84.58 522.2,86.21 522.7,88.03 523.2,90.02 523.7,92.19 524.2,94.51 524.7,96.99 525.2,99.60 525.7,102.35 526.2,105.21 526.7,108.19 527.2,111.26 527.7,114.41 528.2,117.64 528.7,120.93 529.2,124.27 529.7,127.65 530.2,131.05 530.7,134.48 531.2,137.91 531.7,141.33 532.2,144.74 532.7,148.13 533.2,151.49 533.7,154.81 534.2,158.08 534.7,161.29 535.2,164.44 535.7,167.52 536.2,170.53 536.7,173.46 537.2,176.31 537.7,179.07 538.2,181.75 538.7,184.33 539.2,186.81 539.7,189.20 540.2,191.50 540.7,193.69 541.2,195.79 541.7,197.79 542.2,199.70 542.7,201.51 543.2,203.23 543.7,204.86 544.2,206.39 544.7,207.84 545.2,209.20 545.7,210.49 546.2,211.69 546.7,212.81 547.2,213.86 547.7,214.85 548.2,215.76 548.7,216.61 549.2,217.40 549.7,218.13 550.2,218.80 550.7,219.42 551.2,220.00 551.7,220.53 552.2,221.01 552.7,221.46 553.2,221.86 553.7,222.24 554.2,222.57 554.7,222.88 555.2,223.16 555.7,223.42 556.2,223.65 556.7,223.86 557.2,224.05 557.7,224.22 558.2,224.37 558.7,224.51 559.2,224.63 559.7,224.74 560.2,224.84 560.7,224.93 561.2,225.01 561.7,225.08 562.2,225.14 562.7,225.20 563.2,225.25 563.7,225.29 564.2,225.33 564.7,225.36 565.2,225.39 565.7,225.42 566.2,225.44 566.7,225.46 567.2,225.48 567.7,225.49 568.2,225.51 568.7,225.52 569.2,225.53 569.7,225.54 570.2,225.54 570.7,225.55 571.2,225.56 571.7,225.56 572.2,225.56 572.7,225.57 573.2,225.57 573.7,225.57 574.2,225.58 574.7,225.58 575.2,225.58 575.7,225.58 576.2,225.58 576.7,225.58 577.2,225.58 577.7,225.58 578.2,225.59 578.7,225.59 579.2,225.59 579.7,225.59 580.2,225.59 581.7,225.59 583.2,225.59 584.7,225.59 586.2,225.59 587.7,225.59 589.2,225.59 590.7,225.59 592.2,225.58 593.7,225.57 595.2,225.56 596.7,225.54 598.2,225.52 599.7,225.50 601.2,225.47 602.7,225.43 604.2,225.40 605.7,225.35 607.2,225.31 608.7,225.26 610.2,225.20 611.7,225.15 613.2,225.08 614.7,225.02 616.2,224.95 617.7,224.87 619.2,224.79 620.7,224.71 622.2,224.62 623.7,224.53 625.2,224.44 626.7,224.34 628.2,224.23 629.7,224.13 631.2,224.01 632.7,223.90 634.2,223.78 635.7,223.65 637.2,223.53 638.7,223.39 640.2,223.26 641.7,223.12 643.2,222.97 644.7,222.82 645.7,222.72" fill="none" stroke="#c0d8b0" stroke-width="2.0" stroke-linejoin="round" stroke-linecap="butt"/>
<line x1="393.9" y1="4.5" x2="393.9" y2="231.5" stroke="#868686" stroke-width="1"/>
<line x1="610" y1="46.20" x2="639" y2="46.20" stroke="#0000ff" stroke-width="2.0"/>
<text x="640.9" y="49.40" class="lg">Bare</text>
<line x1="610" y1="67.96" x2="639" y2="67.96" stroke="#ff0000" stroke-width="2.0"/>
<text x="640.9" y="71.16" class="lg">15 s</text>
<line x1="610" y1="89.72" x2="639" y2="89.72" stroke="#ffc0b0" stroke-width="2.0"/>
<text x="640.9" y="92.92" class="lg">30 s</text>
<line x1="610" y1="111.48" x2="639" y2="111.48" stroke="#00ffff" stroke-width="2.0"/>
<text x="640.9" y="114.68" class="lg">45 s</text>
<line x1="610" y1="133.24" x2="639" y2="133.24" stroke="#00ff00" stroke-width="2.0"/>
<text x="640.9" y="136.44" class="lg">60 s</text>
<line x1="610" y1="155.00" x2="639" y2="155.00" stroke="#ffee00" stroke-width="2.0"/>
<text x="640.9" y="158.20" class="lg">90 s</text>
<line x1="610" y1="176.76" x2="639" y2="176.76" stroke="#ff00ff" stroke-width="2.0"/>
<text x="640.9" y="179.96" class="lg">120 s</text>
<line x1="610" y1="198.52" x2="639" y2="198.52" stroke="#c0d8b0" stroke-width="2.0"/>
<text x="640.9" y="201.72" class="lg">240 s</text>
<text x="410.6" y="29.3" class="pl">B</text>
<text x="523" y="265.8" class="ax">P(V)</text>
<text transform="translate(358.2,127.6) rotate(-90)" class="ax">I(μA)</text>
<line x1="41.0" y1="564.50" x2="45.0" y2="564.50" stroke="#868686" stroke-width="1"/>
<text x="33.90" y="569.30" text-anchor="end" class="t">0</text>
<line x1="41.0" y1="525.00" x2="45.0" y2="525.00" stroke="#868686" stroke-width="1"/>
<text x="33.90" y="529.80" text-anchor="end" class="t">10</text>
<line x1="41.0" y1="485.50" x2="45.0" y2="485.50" stroke="#868686" stroke-width="1"/>
<text x="33.90" y="490.30" text-anchor="end" class="t">20</text>
<line x1="41.0" y1="446.00" x2="45.0" y2="446.00" stroke="#868686" stroke-width="1"/>
<text x="33.90" y="450.80" text-anchor="end" class="t">30</text>
<line x1="41.0" y1="406.50" x2="45.0" y2="406.50" stroke="#868686" stroke-width="1"/>
<text x="33.90" y="411.30" text-anchor="end" class="t">40</text>
<line x1="41.0" y1="367.00" x2="45.0" y2="367.00" stroke="#868686" stroke-width="1"/>
<text x="33.90" y="371.80" text-anchor="end" class="t">50</text>
<line x1="41.0" y1="327.50" x2="45.0" y2="327.50" stroke="#868686" stroke-width="1"/>
<text x="33.90" y="332.30" text-anchor="end" class="t">60</text>
<line x1="41.0" y1="288.00" x2="45.0" y2="288.00" stroke="#868686" stroke-width="1"/>
<text x="33.90" y="292.80" text-anchor="end" class="t">70</text>
<line x1="45.0" y1="564.5" x2="333.0" y2="564.5" stroke="#868686" stroke-width="1"/>
<line x1="45.00" y1="564.5" x2="45.00" y2="568.5" stroke="#868686" stroke-width="1"/>
<text x="45.00" y="583.00" text-anchor="middle" class="t">-0.2</text>
<line x1="109.00" y1="564.5" x2="109.00" y2="568.5" stroke="#868686" stroke-width="1"/>
<text x="109.00" y="583.00" text-anchor="middle" class="t">0</text>
<line x1="173.00" y1="564.5" x2="173.00" y2="568.5" stroke="#868686" stroke-width="1"/>
<text x="173.00" y="583.00" text-anchor="middle" class="t">0.2</text>
<line x1="237.00" y1="564.5" x2="237.00" y2="568.5" stroke="#868686" stroke-width="1"/>
<text x="237.00" y="583.00" text-anchor="middle" class="t">0.4</text>
<line x1="301.00" y1="564.5" x2="301.00" y2="568.5" stroke="#868686" stroke-width="1"/>
<text x="301.00" y="583.00" text-anchor="middle" class="t">0.6</text>
<polyline points="45.0,560.43 46.5,560.42 48.0,560.42 49.5,560.41 51.0,560.41 52.5,560.40 54.0,560.39 55.5,560.39 57.0,560.38 58.5,560.37 60.0,560.36 61.5,560.35 63.0,560.34 64.5,560.33 66.0,560.32 67.5,560.30 69.0,560.29 70.5,560.27 72.0,560.26 73.5,560.24 75.0,560.22 76.5,560.20 78.0,560.18 79.5,560.16 81.0,560.14 82.5,560.11 84.0,560.09 85.5,560.06 87.0,560.03 88.5,560.00 90.0,559.97 91.5,559.94 93.0,559.90 94.5,559.86 96.0,559.82 97.5,559.78 98.0,559.76 98.5,559.75 99.0,559.73 99.5,559.72 100.0,559.70 100.5,559.69 101.0,559.67 101.5,559.65 102.0,559.63 102.5,559.62 103.0,559.60 103.5,559.58 104.0,559.56 104.5,559.54 105.0,559.52 105.5,559.50 106.0,559.48 106.5,559.46 107.0,559.44 107.5,559.42 108.0,559.39 108.5,559.37 109.0,559.35 109.5,559.32 110.0,559.30 110.5,559.27 111.0,559.25 111.5,559.22 112.0,559.19 112.5,559.16 113.0,559.14 113.5,559.11 114.0,559.08 114.5,559.04 115.0,559.01 115.5,558.98 116.0,558.94 116.5,558.91 117.0,558.87 117.5,558.84 118.0,558.80 118.5,558.76 119.0,558.72 119.5,558.67 120.0,558.63 120.5,558.58 121.0,558.54 121.5,558.49 122.0,558.44 122.5,558.39 123.0,558.33 123.5,558.28 124.0,558.22 124.5,558.16 125.0,558.10 125.5,558.03 126.0,557.96 126.5,557.89 127.0,557.82 127.5,557.75 128.0,557.67 128.5,557.58 129.0,557.50 129.5,557.41 130.0,557.32 130.5,557.22 131.0,557.12 131.5,557.02 132.0,556.91 132.5,556.79 133.0,556.67 133.5,556.55 134.0,556.42 134.5,556.29 135.0,556.15 135.5,556.00 136.0,555.85 136.5,555.69 137.0,555.52 137.5,555.35 138.0,555.17 138.5,554.98 139.0,554.79 139.5,554.58 140.0,554.37 140.5,554.15 141.0,553.92 141.5,553.68 142.0,553.43 142.5,553.17 143.0,552.90 143.5,552.62 144.0,552.33 144.5,552.03 145.0,551.71 145.5,551.39 146.0,551.05 146.5,550.69 147.0,550.33 147.5,549.95 148.0,549.56 148.5,549.15 149.0,548.73 149.5,548.30 150.0,547.85 150.5,547.38 151.0,546.90 151.5,546.41 152.0,545.90 152.5,545.37 153.0,544.82 153.5,544.26 154.0,543.69 154.5,543.09 155.0,542.48 155.5,541.85 156.0,541.20 156.5,540.54 157.0,539.86 157.5,539.16 158.0,538.44 158.5,537.70 159.0,536.95 159.5,536.18 160.0,535.40 160.5,534.59 161.0,533.77 161.5,532.93 162.0,532.08 162.5,531.21 163.0,530.32 163.5,529.42 164.0,528.50 164.5,527.57 165.0,526.62 165.5,525.66 166.0,524.68 166.5,523.69 167.0,522.70 167.5,521.68 168.0,520.66 168.5,519.63 169.0,518.59 169.5,517.54 170.0,516.49 170.5,515.43 171.0,514.36 171.5,513.29 172.0,512.21 172.5,511.14 173.0,510.06 173.5,508.99 174.0,507.91 174.5,506.84 175.0,505.78 175.5,504.72 176.0,503.67 176.5,502.63 177.0,501.60 177.5,500.59 178.0,499.59 178.5,498.61 179.0,497.64 179.5,496.70 180.0,495.78 180.5,494.88 181.0,494.02 181.5,493.18 182.0,492.37 182.5,491.59 183.0,490.85 183.5,490.15 184.0,489.48 184.5,488.85 185.0,488.27 185.5,487.73 186.0,487.24 186.5,486.79 187.0,486.40 187.5,486.05 188.0,485.75 188.5,485.51 189.0,485.32 189.5,485.18 190.0,485.10 190.5,485.07 191.0,485.09 191.5,485.15 192.0,485.27 192.5,485.42 193.0,485.63 193.5,485.88 194.0,486.17 194.5,486.50 195.0,486.87 195.5,487.29 196.0,487.74 196.5,488.24 197.0,488.77 197.5,489.33 198.0,489.93 198.5,490.56 199.0,491.23 199.5,491.92 200.0,492.64 200.5,493.39 201.0,494.16 201.5,494.95 202.0,495.77 202.5,496.60 203.0,497.45 203.5,498.32 204.0,499.21 204.5,500.11 205.0,501.02 205.5,501.94 206.0,502.87 206.5,503.81 207.0,504.75 207.5,505.70 208.0,506.66 208.5,507.61 209.0,508.57 209.5,509.54 210.0,510.50 210.5,511.46 211.0,512.42 211.5,513.37 212.0,514.32 212.5,515.27 213.0,516.21 213.5,517.15 214.0,518.08 214.5,519.00 215.0,519.92 215.5,520.82 216.0,521.72 216.5,522.61 217.0,523.49 217.5,524.36 218.0,525.21 218.5,526.06 219.0,526.90 219.5,527.72 220.0,528.53 220.5,529.33 221.0,530.12 221.5,530.90 222.0,531.66 222.5,532.41 223.0,533.14 223.5,533.87 224.0,534.58 224.5,535.27 225.0,535.96 225.5,536.62 226.0,537.28 226.5,537.92 227.0,538.55 227.5,539.17 228.0,539.77 228.5,540.36 229.0,540.93 229.5,541.49 230.0,542.04 230.5,542.58 231.0,543.10 231.5,543.61 232.0,544.10 232.5,544.59 233.0,545.06 233.5,545.52 234.0,545.97 234.5,546.40 235.0,546.82 235.5,547.24 236.0,547.64 236.5,548.03 237.0,548.40 237.5,548.77 238.0,549.13 238.5,549.48 239.0,549.81 239.5,550.14 240.0,550.46 240.5,550.76 241.0,551.06 241.5,551.35 242.0,551.63 242.5,551.90 243.0,552.17 243.5,552.42 244.0,552.67 244.5,552.91 245.0,553.14 245.5,553.37 246.0,553.58 246.5,553.80 247.0,554.00 247.5,554.20 248.0,554.39 248.5,554.57 249.0,554.75 249.5,554.93 250.0,555.10 250.5,555.26 251.0,555.42 251.5,555.57 252.0,555.72 252.5,555.86 253.0,556.00 253.5,556.13 254.0,556.26 254.5,556.39 255.0,556.51 255.5,556.63 256.0,556.75 256.5,556.86 257.0,556.97 257.5,557.07 258.0,557.17 258.5,557.27 259.0,557.37 259.5,557.46 260.0,557.55 260.5,557.64 261.0,557.73 261.5,557.81 262.0,557.89 262.5,557.97 263.0,558.05 263.5,558.12 264.0,558.19 264.5,558.26 265.0,558.33 265.5,558.40 266.0,558.47 266.5,558.53 267.0,558.59 267.5,558.65 268.0,558.71 268.5,558.77 269.0,558.83 269.5,558.89 270.0,558.94 270.5,558.99 271.0,559.05 271.5,559.10 272.0,559.15 272.5,559.20 273.0,559.24 273.5,559.29 274.0,559.34 274.5,559.38 275.0,559.43 275.5,559.47 276.0,559.51 276.5,559.56 277.0,559.60 277.5,559.64 278.0,559.68 278.5,559.72 279.0,559.76 279.5,559.79 280.0,559.83 280.5,559.87 281.0,559.91 281.5,559.94 282.0,559.98 282.5,560.01 283.0,560.04 283.5,560.08 284.0,560.11 285.5,560.21 287.0,560.30 288.5,560.39 290.0,560.48 291.5,560.56 293.0,560.64 294.5,560.72 296.0,560.79 297.5,560.86 299.0,560.93 300.5,561.00 302.0,561.06 303.5,561.13 305.0,561.19 306.5,561.25 308.0,561.30 309.5,561.36 311.0,561.41 312.5,561.47 314.0,561.52 315.5,561.57 317.0,561.62 318.5,561.66 320.0,561.71 321.5,561.76 323.0,561.80 324.5,561.84 326.0,561.89 327.5,561.93 329.0,561.97 330.5,562.01 332.0,562.05 333.0,562.07" fill="none" stroke="#0000ff" stroke-width="2.1" stroke-linejoin="round" stroke-linecap="butt"/>
<polyline points="45.0,563.32 46.5,563.32 48.0,563.31 49.5,563.30 51.0,563.30 52.5,563.29 54.0,563.28 55.5,563.28 57.0,563.27 58.5,563.26 60.0,563.25 61.5,563.24 63.0,563.23 64.5,563.23 66.0,563.22 67.5,563.21 69.0,563.19 70.5,563.18 72.0,563.17 73.5,563.16 75.0,563.15 76.5,563.14 78.0,563.12 79.5,563.11 81.0,563.09 82.5,563.08 84.0,563.06 85.5,563.05 87.0,563.03 88.5,563.01 90.0,562.99 91.5,562.97 93.0,562.95 94.5,562.93 96.0,562.91 97.5,562.89 99.0,562.86 100.5,562.83 102.0,562.81 103.5,562.78 105.0,562.75 106.5,562.71 108.0,562.68 109.5,562.64 111.0,562.60 112.5,562.56 114.0,562.51 115.5,562.45 116.0,562.44 116.5,562.42 117.0,562.40 117.5,562.37 118.0,562.35 118.5,562.33 119.0,562.30 119.5,562.28 120.0,562.25 120.5,562.22 121.0,562.20 121.5,562.16 122.0,562.13 122.5,562.10 123.0,562.06 123.5,562.02 124.0,561.98 124.5,561.94 125.0,561.90 125.5,561.85 126.0,561.80 126.5,561.74 127.0,561.69 127.5,561.63 128.0,561.56 128.5,561.49 129.0,561.42 129.5,561.34 130.0,561.26 130.5,561.17 131.0,561.07 131.5,560.97 132.0,560.86 132.5,560.74 133.0,560.62 133.5,560.49 134.0,560.35 134.5,560.20 135.0,560.03 135.5,559.86 136.0,559.68 136.5,559.48 137.0,559.28 137.5,559.05 138.0,558.82 138.5,558.57 139.0,558.30 139.5,558.01 140.0,557.71 140.5,557.39 141.0,557.05 141.5,556.69 142.0,556.30 142.5,555.89 143.0,555.46 143.5,555.01 144.0,554.52 144.5,554.01 145.0,553.47 145.5,552.90 146.0,552.30 146.5,551.67 147.0,551.00 147.5,550.30 148.0,549.56 148.5,548.79 149.0,547.97 149.5,547.12 150.0,546.22 150.5,545.29 151.0,544.31 151.5,543.28 152.0,542.21 152.5,541.10 153.0,539.94 153.5,538.72 154.0,537.46 154.5,536.15 155.0,534.79 155.5,533.38 156.0,531.92 156.5,530.40 157.0,528.83 157.5,527.21 158.0,525.54 158.5,523.82 159.0,522.04 159.5,520.21 160.0,518.33 160.5,516.39 161.0,514.41 161.5,512.38 162.0,510.29 162.5,508.17 163.0,505.99 163.5,503.77 164.0,501.51 164.5,499.21 165.0,496.87 165.5,494.49 166.0,492.08 166.5,489.64 167.0,487.16 167.5,484.67 168.0,482.14 168.5,479.60 169.0,477.05 169.5,474.48 170.0,471.90 170.5,469.32 171.0,466.73 171.5,464.15 172.0,461.57 172.5,459.01 173.0,456.47 173.5,453.94 174.0,451.44 174.5,448.97 175.0,446.53 175.5,444.14 176.0,441.79 176.5,439.48 177.0,437.24 177.5,435.05 178.0,432.93 178.5,430.88 179.0,428.90 179.5,427.00 180.0,425.18 180.5,423.46 181.0,421.82 181.5,420.28 182.0,418.85 182.5,417.52 183.0,416.30 183.5,415.19 184.0,414.20 184.5,413.32 185.0,412.57 185.5,411.94 186.0,411.43 186.5,411.06 187.0,410.81 187.5,410.69 188.0,410.70 188.5,410.89 189.0,411.27 189.5,411.82 190.0,412.54 190.5,413.44 191.0,414.51 191.5,415.75 192.0,417.15 192.5,418.70 193.0,420.40 193.5,422.25 194.0,424.23 194.5,426.35 195.0,428.58 195.5,430.93 196.0,433.39 196.5,435.95 197.0,438.60 197.5,441.33 198.0,444.13 198.5,447.00 199.0,449.93 199.5,452.90 200.0,455.92 200.5,458.97 201.0,462.05 201.5,465.14 202.0,468.24 202.5,471.35 203.0,474.45 203.5,477.54 204.0,480.62 204.5,483.67 205.0,486.69 205.5,489.67 206.0,492.62 206.5,495.52 207.0,498.37 207.5,501.17 208.0,503.91 208.5,506.59 209.0,509.20 209.5,511.75 210.0,514.23 210.5,516.64 211.0,518.98 211.5,521.24 212.0,523.43 212.5,525.54 213.0,527.58 213.5,529.54 214.0,531.42 214.5,533.23 215.0,534.96 215.5,536.62 216.0,538.21 216.5,539.72 217.0,541.16 217.5,542.54 218.0,543.84 218.5,545.08 219.0,546.26 219.5,547.37 220.0,548.42 220.5,549.41 221.0,550.35 221.5,551.23 222.0,552.06 222.5,552.84 223.0,553.57 223.5,554.26 224.0,554.90 224.5,555.50 225.0,556.06 225.5,556.59 226.0,557.07 226.5,557.53 227.0,557.95 227.5,558.35 228.0,558.71 228.5,559.05 229.0,559.36 229.5,559.65 230.0,559.92 230.5,560.17 231.0,560.40 231.5,560.61 232.0,560.81 232.5,560.99 233.0,561.15 233.5,561.31 234.0,561.45 234.5,561.58 235.0,561.70 235.5,561.80 236.0,561.91 236.5,562.00 237.0,562.08 237.5,562.16 238.0,562.23 238.5,562.30 239.0,562.36 239.5,562.42 240.0,562.47 240.5,562.52 241.0,562.56 241.5,562.60 242.0,562.64 242.5,562.68 243.0,562.71 243.5,562.74 244.0,562.77 244.5,562.80 245.0,562.82 245.5,562.84 246.0,562.87 246.5,562.89 247.0,562.91 247.5,562.92 248.0,562.94 248.5,562.96 249.0,562.97 249.5,562.99 250.0,563.00 250.5,563.02 251.0,563.03 251.5,563.04 252.0,563.06 252.5,563.07 253.0,563.08 253.5,563.09 254.0,563.10 254.5,563.11 255.0,563.12 255.5,563.13 256.0,563.14 256.5,563.15 257.0,563.16 257.5,563.17 258.0,563.18 258.5,563.18 259.0,563.19 259.5,563.20 260.0,563.21 260.5,563.22 262.0,563.24 263.5,563.26 265.0,563.28 266.5,563.30 268.0,563.32 269.5,563.33 271.0,563.35 272.5,563.36 274.0,563.38 275.5,563.39 277.0,563.41 278.5,563.42 280.0,563.43 281.5,563.44 283.0,563.45 284.5,563.46 286.0,563.47 287.5,563.48 289.0,563.49 290.5,563.50 292.0,563.51 293.5,563.52 295.0,563.53 296.5,563.54 298.0,563.54 299.5,563.55 301.0,563.56 302.5,563.56 304.0,563.57 305.5,563.58 307.0,563.58 308.5,563.59 310.0,563.60 311.5,563.60 313.0,563.61 314.5,563.61 316.0,563.62 317.5,563.62 319.0,563.63 320.5,563.63 322.0,563.64 323.5,563.64 325.0,563.64 326.5,563.65 328.0,563.65 329.5,563.66 331.0,563.66 332.5,563.67 333.0,563.67" fill="none" stroke="#ff0080" stroke-width="2.1" stroke-linejoin="round" stroke-linecap="butt"/>
<polyline points="45.0,563.30 46.5,563.30 48.0,563.29 49.5,563.29 51.0,563.29 52.5,563.29 54.0,563.29 55.5,563.28 57.0,563.28 58.5,563.28 60.0,563.27 61.5,563.27 63.0,563.26 64.5,563.26 66.0,563.25 67.5,563.25 69.0,563.24 70.5,563.23 72.0,563.23 73.5,563.22 75.0,563.21 76.5,563.20 78.0,563.19 79.5,563.18 81.0,563.17 82.5,563.16 84.0,563.15 85.5,563.13 87.0,563.12 88.5,563.10 90.0,563.09 91.5,563.07 93.0,563.05 94.5,563.03 96.0,563.01 97.5,562.99 99.0,562.97 100.5,562.94 102.0,562.92 103.5,562.89 105.0,562.86 106.5,562.83 108.0,562.80 109.5,562.76 111.0,562.72 112.5,562.68 114.0,562.64 115.5,562.59 117.0,562.54 118.5,562.49 120.0,562.43 121.5,562.37 122.0,562.35 122.5,562.32 123.0,562.30 123.5,562.27 124.0,562.25 124.5,562.22 125.0,562.19 125.5,562.17 126.0,562.13 126.5,562.10 127.0,562.07 127.5,562.04 128.0,562.00 128.5,561.96 129.0,561.92 129.5,561.88 130.0,561.84 130.5,561.79 131.0,561.74 131.5,561.69 132.0,561.64 132.5,561.58 133.0,561.51 133.5,561.45 134.0,561.38 134.5,561.30 135.0,561.22 135.5,561.13 136.0,561.04 136.5,560.94 137.0,560.84 137.5,560.72 138.0,560.60 138.5,560.47 139.0,560.32 139.5,560.17 140.0,560.01 140.5,559.83 141.0,559.64 141.5,559.43 142.0,559.21 142.5,558.97 143.0,558.72 143.5,558.44 144.0,558.14 144.5,557.82 145.0,557.48 145.5,557.11 146.0,556.72 146.5,556.30 147.0,555.84 147.5,555.36 148.0,554.84 148.5,554.28 149.0,553.68 149.5,553.05 150.0,552.37 150.5,551.65 151.0,550.88 151.5,550.06 152.0,549.19 152.5,548.27 153.0,547.29 153.5,546.26 154.0,545.16 154.5,544.00 155.0,542.78 155.5,541.49 156.0,540.13 156.5,538.70 157.0,537.19 157.5,535.61 158.0,533.96 158.5,532.23 159.0,530.41 159.5,528.52 160.0,526.55 160.5,524.49 161.0,522.35 161.5,520.13 162.0,517.82 162.5,515.43 163.0,512.96 163.5,510.40 164.0,507.76 164.5,505.05 165.0,502.25 165.5,499.38 166.0,496.43 166.5,493.41 167.0,490.33 167.5,487.18 168.0,483.97 168.5,480.70 169.0,477.38 169.5,474.01 170.0,470.60 170.5,467.16 171.0,463.68 171.5,460.18 172.0,456.67 172.5,453.14 173.0,449.61 173.5,446.09 174.0,442.58 174.5,439.09 175.0,435.63 175.5,432.21 176.0,428.83 176.5,425.52 177.0,422.27 177.5,419.09 178.0,416.00 178.5,413.01 179.0,410.12 179.5,407.34 180.0,404.69 180.5,402.16 181.0,399.78 181.5,397.55 182.0,395.47 182.5,393.56 183.0,391.83 183.5,390.27 184.0,388.90 184.5,387.73 185.0,386.75 185.5,385.97 186.0,385.40 186.5,385.04 187.0,384.89 187.5,384.94 188.0,385.18 188.5,385.62 189.0,386.24 189.5,387.05 190.0,388.04 190.5,389.21 191.0,390.55 191.5,392.06 192.0,393.73 192.5,395.55 193.0,397.52 193.5,399.62 194.0,401.86 194.5,404.21 195.0,406.68 195.5,409.25 196.0,411.91 196.5,414.66 197.0,417.49 197.5,420.39 198.0,423.36 198.5,426.37 199.0,429.43 199.5,432.53 200.0,435.67 200.5,438.82 201.0,441.99 201.5,445.18 202.0,448.36 202.5,451.55 203.0,454.73 203.5,457.89 204.0,461.04 204.5,464.16 205.0,467.26 205.5,470.33 206.0,473.35 206.5,476.34 207.0,479.29 207.5,482.19 208.0,485.04 208.5,487.84 209.0,490.58 209.5,493.26 210.0,495.89 210.5,498.46 211.0,500.96 211.5,503.40 212.0,505.78 212.5,508.09 213.0,510.34 213.5,512.51 214.0,514.63 214.5,516.67 215.0,518.65 215.5,520.56 216.0,522.41 216.5,524.19 217.0,525.90 217.5,527.56 218.0,529.14 218.5,530.67 219.0,532.14 219.5,533.54 220.0,534.89 220.5,536.18 221.0,537.41 221.5,538.59 222.0,539.72 222.5,540.80 223.0,541.83 223.5,542.80 224.0,543.74 224.5,544.62 225.0,545.47 225.5,546.27 226.0,547.03 226.5,547.76 227.0,548.44 227.5,549.10 228.0,549.71 228.5,550.30 229.0,550.86 229.5,551.38 230.0,551.88 230.5,552.35 231.0,552.80 231.5,553.22 232.0,553.62 232.5,554.00 233.0,554.36 233.5,554.70 234.0,555.02 234.5,555.32 235.0,555.61 235.5,555.88 236.0,556.14 236.5,556.38 237.0,556.61 237.5,556.83 238.0,557.04 238.5,557.24 239.0,557.43 239.5,557.61 240.0,557.78 240.5,557.94 241.0,558.09 241.5,558.24 242.0,558.38 242.5,558.52 243.0,558.65 243.5,558.77 244.0,558.89 244.5,559.00 245.0,559.11 245.5,559.21 246.0,559.31 246.5,559.41 247.0,559.50 247.5,559.59 248.0,559.68 248.5,559.76 249.0,559.84 249.5,559.92 250.0,560.00 250.5,560.07 251.0,560.14 251.5,560.21 252.0,560.28 252.5,560.35 253.0,560.41 253.5,560.47 254.0,560.53 255.5,560.71 257.0,560.87 258.5,561.02 260.0,561.16 261.5,561.30 263.0,561.43 264.5,561.55 266.0,561.66 267.5,561.77 269.0,561.87 270.5,561.97 272.0,562.06 273.5,562.15 275.0,562.24 276.5,562.32 278.0,562.40 279.5,562.47 281.0,562.54 282.5,562.61 284.0,562.68 285.5,562.74 287.0,562.80 288.5,562.86 290.0,562.92 291.5,562.97 293.0,563.03 294.5,563.08 296.0,563.13 297.5,563.17 299.0,563.22 300.5,563.26 302.0,563.31 303.5,563.35 305.0,563.39 306.5,563.43 308.0,563.46 309.5,563.50 311.0,563.54 312.5,563.57 314.0,563.60 315.5,563.64 317.0,563.67 318.5,563.70 320.0,563.73 321.5,563.76 323.0,563.79 324.5,563.82 326.0,563.84 327.5,563.87 329.0,563.90 330.5,563.92 332.0,563.95 333.0,563.96" fill="none" stroke="#ff00ff" stroke-width="2.1" stroke-linejoin="round" stroke-linecap="butt"/>
<polyline points="45.0,563.60 46.5,563.59 48.0,563.58 49.5,563.57 51.0,563.56 52.5,563.54 54.0,563.53 55.5,563.52 57.0,563.51 58.5,563.49 60.0,563.48 61.5,563.46 63.0,563.45 64.5,563.43 66.0,563.42 67.5,563.40 69.0,563.38 70.5,563.36 72.0,563.34 73.5,563.32 75.0,563.30 76.5,563.28 78.0,563.25 79.5,563.23 81.0,563.20 82.5,563.18 84.0,563.15 85.5,563.12 87.0,563.09 88.5,563.05 90.0,563.02 91.5,562.98 93.0,562.95 94.5,562.91 96.0,562.87 97.5,562.82 99.0,562.78 100.5,562.73 102.0,562.68 103.5,562.63 105.0,562.57 106.5,562.51 108.0,562.45 109.5,562.38 111.0,562.31 112.5,562.23 114.0,562.15 115.5,562.07 117.0,561.97 118.5,561.87 120.0,561.77 121.5,561.65 123.0,561.52 123.5,561.47 124.0,561.42 124.5,561.37 125.0,561.32 125.5,561.26 126.0,561.21 126.5,561.15 127.0,561.08 127.5,561.02 128.0,560.95 128.5,560.88 129.0,560.80 129.5,560.72 130.0,560.64 130.5,560.55 131.0,560.46 131.5,560.36 132.0,560.25 132.5,560.14 133.0,560.02 133.5,559.90 134.0,559.76 134.5,559.62 135.0,559.47 135.5,559.31 136.0,559.14 136.5,558.95 137.0,558.75 137.5,558.54 138.0,558.32 138.5,558.08 139.0,557.82 139.5,557.55 140.0,557.25 140.5,556.94 141.0,556.61 141.5,556.25 142.0,555.86 142.5,555.45 143.0,555.02 143.5,554.55 144.0,554.05 144.5,553.52 145.0,552.96 145.5,552.35 146.0,551.71 146.5,551.03 147.0,550.30 147.5,549.53 148.0,548.71 148.5,547.85 149.0,546.93 149.5,545.95 150.0,544.92 150.5,543.83 151.0,542.67 151.5,541.46 152.0,540.17 152.5,538.82 153.0,537.40 153.5,535.90 154.0,534.33 154.5,532.69 155.0,530.96 155.5,529.15 156.0,527.26 156.5,525.28 157.0,523.22 157.5,521.07 158.0,518.83 158.5,516.50 159.0,514.09 159.5,511.58 160.0,508.98 160.5,506.28 161.0,503.50 161.5,500.63 162.0,497.67 162.5,494.61 163.0,491.48 163.5,488.25 164.0,484.94 164.5,481.55 165.0,478.09 165.5,474.55 166.0,470.93 166.5,467.25 167.0,463.51 167.5,459.70 168.0,455.85 168.5,451.94 169.0,447.99 169.5,444.01 170.0,439.99 170.5,435.95 171.0,431.90 171.5,427.83 172.0,423.77 172.5,419.71 173.0,415.67 173.5,411.66 174.0,407.68 174.5,403.74 175.0,399.85 175.5,396.03 176.0,392.28 176.5,388.61 177.0,385.03 177.5,381.56 178.0,378.20 178.5,374.96 179.0,371.85 179.5,368.89 180.0,366.08 180.5,363.44 181.0,360.97 181.5,358.67 182.0,356.57 182.5,354.67 183.0,352.97 183.5,351.48 184.0,350.22 184.5,349.17 185.0,348.35 185.5,347.77 186.0,347.42 186.5,347.30 187.0,347.44 187.5,347.84 188.0,348.52 188.5,349.46 189.0,350.66 189.5,352.12 190.0,353.82 190.5,355.76 191.0,357.93 191.5,360.32 192.0,362.92 192.5,365.72 193.0,368.71 193.5,371.86 194.0,375.18 194.5,378.65 195.0,382.25 195.5,385.97 196.0,389.81 196.5,393.74 197.0,397.76 197.5,401.85 198.0,406.00 198.5,410.20 199.0,414.44 199.5,418.71 200.0,423.00 200.5,427.29 201.0,431.58 201.5,435.85 202.0,440.11 202.5,444.34 203.0,448.53 203.5,452.67 204.0,456.77 204.5,460.80 205.0,464.77 205.5,468.68 206.0,472.51 206.5,476.25 207.0,479.92 207.5,483.50 208.0,486.99 208.5,490.38 209.0,493.68 209.5,496.89 210.0,499.99 210.5,502.99 211.0,505.90 211.5,508.70 212.0,511.40 212.5,514.00 213.0,516.50 213.5,518.90 214.0,521.21 214.5,523.41 215.0,525.52 215.5,527.53 216.0,529.46 216.5,531.29 217.0,533.04 217.5,534.70 218.0,536.27 218.5,537.77 219.0,539.19 219.5,540.53 220.0,541.80 220.5,543.00 221.0,544.14 221.5,545.21 222.0,546.22 222.5,547.17 223.0,548.06 223.5,548.90 224.0,549.69 224.5,550.44 225.0,551.13 225.5,551.79 226.0,552.40 226.5,552.97 227.0,553.51 227.5,554.01 228.0,554.48 228.5,554.92 229.0,555.34 229.5,555.72 230.0,556.08 230.5,556.42 231.0,556.73 231.5,557.03 232.0,557.31 232.5,557.56 233.0,557.81 233.5,558.03 234.0,558.25 234.5,558.45 235.0,558.63 235.5,558.81 236.0,558.98 236.5,559.13 237.0,559.28 237.5,559.42 238.0,559.55 238.5,559.67 239.0,559.79 239.5,559.90 240.0,560.01 240.5,560.11 241.0,560.21 241.5,560.30 242.0,560.39 242.5,560.47 243.0,560.55 243.5,560.63 244.0,560.70 244.5,560.77 245.0,560.84 245.5,560.91 246.0,560.97 246.5,561.03 247.0,561.09 247.5,561.15 248.0,561.21 248.5,561.26 249.0,561.31 249.5,561.37 250.0,561.42 250.5,561.47 251.0,561.51 251.5,561.56 253.0,561.69 254.5,561.81 256.0,561.93 257.5,562.04 259.0,562.14 260.5,562.24 262.0,562.33 263.5,562.41 265.0,562.49 266.5,562.57 268.0,562.65 269.5,562.72 271.0,562.78 272.5,562.85 274.0,562.91 275.5,562.96 277.0,563.02 278.5,563.07 280.0,563.12 281.5,563.17 283.0,563.22 284.5,563.26 286.0,563.30 287.5,563.34 289.0,563.38 290.5,563.42 292.0,563.46 293.5,563.49 295.0,563.53 296.5,563.56 298.0,563.59 299.5,563.62 301.0,563.65 302.5,563.68 304.0,563.71 305.5,563.73 307.0,563.76 308.5,563.78 310.0,563.81 311.5,563.83 313.0,563.85 314.5,563.87 316.0,563.90 317.5,563.92 319.0,563.94 320.5,563.96 322.0,563.97 323.5,563.99 325.0,564.01 326.5,564.03 328.0,564.04 329.5,564.06 331.0,564.08 332.5,564.09 333.0,564.10" fill="none" stroke="#00ffff" stroke-width="2.1" stroke-linejoin="round" stroke-linecap="butt"/>
<polyline points="45.0,563.59 46.5,563.58 48.0,563.56 49.5,563.55 51.0,563.53 52.5,563.52 54.0,563.50 55.5,563.49 57.0,563.47 58.5,563.45 60.0,563.44 61.5,563.42 63.0,563.40 64.5,563.38 66.0,563.36 67.5,563.33 69.0,563.31 70.5,563.29 72.0,563.26 73.5,563.24 75.0,563.21 76.5,563.19 78.0,563.16 79.5,563.13 81.0,563.10 82.5,563.06 84.0,563.03 85.5,563.00 87.0,562.96 88.5,562.92 90.0,562.88 91.5,562.84 93.0,562.79 94.5,562.75 96.0,562.70 97.5,562.65 99.0,562.60 100.5,562.54 102.0,562.48 103.5,562.42 105.0,562.35 106.5,562.28 108.0,562.21 109.5,562.13 111.0,562.05 112.5,561.96 114.0,561.87 115.5,561.76 117.0,561.65 118.5,561.53 120.0,561.40 120.5,561.35 121.0,561.30 121.5,561.25 122.0,561.20 122.5,561.14 123.0,561.08 123.5,561.02 124.0,560.96 124.5,560.89 125.0,560.82 125.5,560.75 126.0,560.67 126.5,560.59 127.0,560.51 127.5,560.42 128.0,560.33 128.5,560.23 129.0,560.12 129.5,560.01 130.0,559.89 130.5,559.76 131.0,559.63 131.5,559.49 132.0,559.33 132.5,559.17 133.0,559.00 133.5,558.82 134.0,558.62 134.5,558.41 135.0,558.19 135.5,557.95 136.0,557.70 136.5,557.43 137.0,557.14 137.5,556.83 138.0,556.50 138.5,556.15 139.0,555.77 139.5,555.37 140.0,554.95 140.5,554.49 141.0,554.00 141.5,553.49 142.0,552.94 142.5,552.35 143.0,551.73 143.5,551.06 144.0,550.36 144.5,549.61 145.0,548.82 145.5,547.98 146.0,547.09 146.5,546.14 147.0,545.15 147.5,544.09 148.0,542.97 148.5,541.80 149.0,540.56 149.5,539.25 150.0,537.88 150.5,536.43 151.0,534.91 151.5,533.31 152.0,531.64 152.5,529.89 153.0,528.05 153.5,526.13 154.0,524.13 154.5,522.04 155.0,519.86 155.5,517.59 156.0,515.23 156.5,512.78 157.0,510.24 157.5,507.60 158.0,504.87 158.5,502.04 159.0,499.12 159.5,496.11 160.0,493.00 160.5,489.80 161.0,486.51 161.5,483.14 162.0,479.67 162.5,476.12 163.0,472.49 163.5,468.78 164.0,464.99 164.5,461.13 165.0,457.20 165.5,453.20 166.0,449.15 166.5,445.04 167.0,440.88 167.5,436.68 168.0,432.44 168.5,428.17 169.0,423.88 169.5,419.56 170.0,415.24 170.5,410.92 171.0,406.60 171.5,402.30 172.0,398.02 172.5,393.77 173.0,389.56 173.5,385.40 174.0,381.31 174.5,377.28 175.0,373.33 175.5,369.47 176.0,365.71 176.5,362.06 177.0,358.53 177.5,355.13 178.0,351.86 178.5,348.75 179.0,345.79 179.5,343.01 180.0,340.40 180.5,337.97 181.0,335.74 181.5,333.72 182.0,331.90 182.5,330.29 183.0,328.91 183.5,327.76 184.0,326.84 184.5,326.15 185.0,325.70 185.5,325.49 186.0,325.54 186.5,325.89 187.0,326.55 187.5,327.52 188.0,328.80 188.5,330.37 189.0,332.24 189.5,334.38 190.0,336.79 190.5,339.46 191.0,342.38 191.5,345.54 192.0,348.91 192.5,352.49 193.0,356.27 193.5,360.22 194.0,364.33 194.5,368.59 195.0,372.99 195.5,377.50 196.0,382.11 196.5,386.82 197.0,391.60 197.5,396.43 198.0,401.32 198.5,406.23 199.0,411.17 199.5,416.11 200.0,421.05 200.5,425.97 201.0,430.87 201.5,435.73 202.0,440.54 202.5,445.29 203.0,449.98 203.5,454.60 204.0,459.14 204.5,463.59 205.0,467.95 205.5,472.20 206.0,476.36 206.5,480.41 207.0,484.34 207.5,488.16 208.0,491.86 208.5,495.45 209.0,498.91 209.5,502.25 210.0,505.47 210.5,508.56 211.0,511.53 211.5,514.39 212.0,517.12 212.5,519.73 213.0,522.22 213.5,524.60 214.0,526.86 214.5,529.01 215.0,531.06 215.5,533.00 216.0,534.84 216.5,536.58 217.0,538.22 217.5,539.77 218.0,541.23 218.5,542.61 219.0,543.91 219.5,545.12 220.0,546.27 220.5,547.34 221.0,548.34 221.5,549.28 222.0,550.16 222.5,550.98 223.0,551.74 223.5,552.45 224.0,553.12 224.5,553.74 225.0,554.31 225.5,554.85 226.0,555.35 226.5,555.81 227.0,556.24 227.5,556.64 228.0,557.01 228.5,557.35 229.0,557.67 229.5,557.97 230.0,558.24 230.5,558.50 231.0,558.73 231.5,558.95 232.0,559.16 232.5,559.35 233.0,559.53 233.5,559.69 234.0,559.84 234.5,559.99 235.0,560.12 235.5,560.25 236.0,560.36 236.5,560.47 237.0,560.58 237.5,560.68 238.0,560.77 238.5,560.85 239.0,560.94 239.5,561.01 240.0,561.09 240.5,561.16 241.0,561.22 241.5,561.29 242.0,561.35 242.5,561.41 243.0,561.46 243.5,561.52 244.0,561.57 244.5,561.62 245.0,561.66 245.5,561.71 246.0,561.76 246.5,561.80 247.0,561.84 247.5,561.88 248.0,561.92 248.5,561.96 249.0,562.00 249.5,562.03 250.0,562.07 250.5,562.10 251.0,562.13 251.5,562.17 252.0,562.20 252.5,562.23 253.0,562.26 254.5,562.35 256.0,562.43 257.5,562.51 259.0,562.58 260.5,562.65 262.0,562.71 263.5,562.77 265.0,562.83 266.5,562.89 268.0,562.94 269.5,562.99 271.0,563.04 272.5,563.08 274.0,563.13 275.5,563.17 277.0,563.21 278.5,563.24 280.0,563.28 281.5,563.31 283.0,563.34 284.5,563.38 286.0,563.41 287.5,563.43 289.0,563.46 290.5,563.49 292.0,563.51 293.5,563.54 295.0,563.56 296.5,563.58 298.0,563.61 299.5,563.63 301.0,563.65 302.5,563.67 304.0,563.69 305.5,563.70 307.0,563.72 308.5,563.74 310.0,563.75 311.5,563.77 313.0,563.79 314.5,563.80 316.0,563.81 317.5,563.83 319.0,563.84 320.5,563.85 322.0,563.87 323.5,563.88 325.0,563.89 326.5,563.90 328.0,563.91 329.5,563.93 331.0,563.94 332.5,563.95 333.0,563.95" fill="none" stroke="#00ff00" stroke-width="2.1" stroke-linejoin="round" stroke-linecap="butt"/>
<polyline points="45.0,563.48 46.5,563.47 48.0,563.46 49.5,563.45 51.0,563.45 52.5,563.44 54.0,563.43 55.5,563.42 57.0,563.41 58.5,563.39 60.0,563.38 61.5,563.37 63.0,563.36 64.5,563.35 66.0,563.33 67.5,563.32 69.0,563.30 70.5,563.29 72.0,563.27 73.5,563.25 75.0,563.24 76.5,563.22 78.0,563.20 79.5,563.18 81.0,563.16 82.5,563.14 84.0,563.11 85.5,563.09 87.0,563.06 88.5,563.04 90.0,563.01 91.5,562.98 93.0,562.95 94.5,562.91 96.0,562.88 97.5,562.84 99.0,562.81 100.5,562.77 102.0,562.72 103.5,562.68 105.0,562.63 106.5,562.58 108.0,562.53 109.5,562.47 111.0,562.41 112.5,562.35 114.0,562.29 115.5,562.21 117.0,562.14 118.5,562.06 120.0,561.97 121.5,561.87 123.0,561.76 124.5,561.65 125.0,561.61 125.5,561.56 126.0,561.52 126.5,561.47 127.0,561.42 127.5,561.37 128.0,561.32 128.5,561.26 129.0,561.20 129.5,561.14 130.0,561.07 130.5,561.01 131.0,560.93 131.5,560.86 132.0,560.78 132.5,560.69 133.0,560.60 133.5,560.50 134.0,560.40 134.5,560.29 135.0,560.17 135.5,560.05 136.0,559.91 136.5,559.77 137.0,559.62 137.5,559.45 138.0,559.28 138.5,559.09 139.0,558.89 139.5,558.67 140.0,558.44 140.5,558.19 141.0,557.92 141.5,557.64 142.0,557.33 142.5,557.00 143.0,556.65 143.5,556.27 144.0,555.86 144.5,555.43 145.0,554.96 145.5,554.47 146.0,553.93 146.5,553.36 147.0,552.76 147.5,552.11 148.0,551.42 148.5,550.68 149.0,549.89 149.5,549.06 150.0,548.17 150.5,547.22 151.0,546.22 151.5,545.16 152.0,544.04 152.5,542.85 153.0,541.59 153.5,540.26 154.0,538.86 154.5,537.39 155.0,535.84 155.5,534.21 156.0,532.49 156.5,530.70 157.0,528.82 157.5,526.85 158.0,524.79 158.5,522.65 159.0,520.41 159.5,518.08 160.0,515.66 160.5,513.14 161.0,510.54 161.5,507.84 162.0,505.04 162.5,502.16 163.0,499.19 163.5,496.12 164.0,492.97 164.5,489.74 165.0,486.42 165.5,483.02 166.0,479.55 166.5,476.00 167.0,472.39 167.5,468.71 168.0,464.98 168.5,461.19 169.0,457.35 169.5,453.48 170.0,449.57 170.5,445.63 171.0,441.67 171.5,437.71 172.0,433.73 172.5,429.77 173.0,425.81 173.5,421.88 174.0,417.99 174.5,414.13 175.0,410.33 175.5,406.59 176.0,402.92 176.5,399.34 177.0,395.85 177.5,392.46 178.0,389.19 178.5,386.05 179.0,383.04 179.5,380.19 180.0,377.49 180.5,374.95 181.0,372.60 181.5,370.43 182.0,368.46 182.5,366.69 183.0,365.14 183.5,363.80 184.0,362.69 184.5,361.80 185.0,361.15 185.5,360.73 186.0,360.55 186.5,360.61 187.0,360.92 187.5,361.47 188.0,362.26 188.5,363.28 189.0,364.55 189.5,366.03 190.0,367.74 190.5,369.66 191.0,371.78 191.5,374.10 192.0,376.60 192.5,379.27 193.0,382.11 193.5,385.11 194.0,388.24 194.5,391.51 195.0,394.89 195.5,398.39 196.0,401.98 196.5,405.66 197.0,409.41 197.5,413.23 198.0,417.10 198.5,421.01 199.0,424.95 199.5,428.92 200.0,432.91 200.5,436.90 201.0,440.88 201.5,444.85 202.0,448.81 202.5,452.73 203.0,456.62 203.5,460.47 204.0,464.27 204.5,468.02 205.0,471.71 205.5,475.33 206.0,478.89 206.5,482.37 207.0,485.78 207.5,489.10 208.0,492.34 208.5,495.50 209.0,498.57 209.5,501.55 210.0,504.44 210.5,507.23 211.0,509.94 211.5,512.55 212.0,515.06 212.5,517.49 213.0,519.82 213.5,522.06 214.0,524.20 214.5,526.26 215.0,528.23 215.5,530.11 216.0,531.91 216.5,533.62 217.0,535.25 217.5,536.80 218.0,538.28 218.5,539.68 219.0,541.01 219.5,542.27 220.0,543.46 220.5,544.58 221.0,545.64 221.5,546.65 222.0,547.59 222.5,548.49 223.0,549.32 223.5,550.11 224.0,550.85 224.5,551.55 225.0,552.20 225.5,552.81 226.0,553.39 226.5,553.93 227.0,554.43 227.5,554.90 228.0,555.34 228.5,555.75 229.0,556.14 229.5,556.50 230.0,556.83 230.5,557.15 231.0,557.44 231.5,557.71 232.0,557.97 232.5,558.21 233.0,558.43 233.5,558.64 234.0,558.84 234.5,559.02 235.0,559.20 235.5,559.36 236.0,559.51 236.5,559.65 237.0,559.79 237.5,559.91 238.0,560.03 238.5,560.14 239.0,560.25 239.5,560.35 240.0,560.44 240.5,560.53 241.0,560.62 241.5,560.70 242.0,560.78 242.5,560.85 243.0,560.92 243.5,560.99 244.0,561.05 244.5,561.12 245.0,561.17 245.5,561.23 246.0,561.29 246.5,561.34 247.0,561.39 247.5,561.44 248.0,561.49 248.5,561.54 250.0,561.67 251.5,561.79 253.0,561.90 254.5,562.00 256.0,562.10 257.5,562.19 259.0,562.28 260.5,562.36 262.0,562.44 263.5,562.51 265.0,562.58 266.5,562.64 268.0,562.71 269.5,562.77 271.0,562.82 272.5,562.88 274.0,562.93 275.5,562.98 277.0,563.02 278.5,563.07 280.0,563.11 281.5,563.15 283.0,563.19 284.5,563.23 286.0,563.26 287.5,563.30 289.0,563.33 290.5,563.36 292.0,563.40 293.5,563.43 295.0,563.45 296.5,563.48 298.0,563.51 299.5,563.53 301.0,563.56 302.5,563.58 304.0,563.61 305.5,563.63 307.0,563.65 308.5,563.67 310.0,563.69 311.5,563.71 313.0,563.73 314.5,563.75 316.0,563.77 317.5,563.79 319.0,563.80 320.5,563.82 322.0,563.84 323.5,563.85 325.0,563.87 326.5,563.88 328.0,563.90 329.5,563.91 331.0,563.93 332.5,563.94 333.0,563.94" fill="none" stroke="#ffff00" stroke-width="2.1" stroke-linejoin="round" stroke-linecap="butt"/>
<polyline points="45.0,563.58 46.5,563.57 48.0,563.56 49.5,563.55 51.0,563.54 52.5,563.52 54.0,563.51 55.5,563.50 57.0,563.48 58.5,563.47 60.0,563.46 61.5,563.44 63.0,563.42 64.5,563.41 66.0,563.39 67.5,563.37 69.0,563.35 70.5,563.33 72.0,563.31 73.5,563.29 75.0,563.27 76.5,563.25 78.0,563.22 79.5,563.20 81.0,563.17 82.5,563.14 84.0,563.11 85.5,563.08 87.0,563.05 88.5,563.02 90.0,562.98 91.5,562.94 93.0,562.90 94.5,562.86 96.0,562.82 97.5,562.77 99.0,562.73 100.5,562.68 102.0,562.62 103.5,562.57 105.0,562.51 106.5,562.45 108.0,562.38 109.5,562.31 111.0,562.24 112.5,562.16 114.0,562.08 115.5,561.99 117.0,561.89 118.5,561.79 120.0,561.67 121.5,561.55 122.0,561.50 122.5,561.46 123.0,561.41 123.5,561.36 124.0,561.31 124.5,561.26 125.0,561.20 125.5,561.14 126.0,561.08 126.5,561.02 127.0,560.96 127.5,560.89 128.0,560.81 128.5,560.74 129.0,560.66 129.5,560.57 130.0,560.48 130.5,560.39 131.0,560.29 131.5,560.18 132.0,560.07 132.5,559.95 133.0,559.83 133.5,559.69 134.0,559.55 134.5,559.40 135.0,559.23 135.5,559.06 136.0,558.87 136.5,558.68 137.0,558.47 137.5,558.24 138.0,558.00 138.5,557.74 139.0,557.47 139.5,557.17 140.0,556.86 140.5,556.52 141.0,556.16 141.5,555.78 142.0,555.37 142.5,554.93 143.0,554.46 143.5,553.96 144.0,553.43 144.5,552.86 145.0,552.25 145.5,551.61 146.0,550.92 146.5,550.19 147.0,549.42 147.5,548.59 148.0,547.72 148.5,546.79 149.0,545.81 149.5,544.77 150.0,543.67 150.5,542.51 151.0,541.28 151.5,539.99 152.0,538.63 152.5,537.19 153.0,535.68 153.5,534.10 154.0,532.43 154.5,530.69 155.0,528.86 155.5,526.95 156.0,524.95 156.5,522.86 157.0,520.69 157.5,518.42 158.0,516.06 158.5,513.61 159.0,511.07 159.5,508.43 160.0,505.70 160.5,502.88 161.0,499.96 161.5,496.95 162.0,493.85 162.5,490.66 163.0,487.38 163.5,484.01 164.0,480.56 164.5,477.03 165.0,473.42 165.5,469.74 166.0,465.98 166.5,462.16 167.0,458.28 167.5,454.34 168.0,450.34 168.5,446.30 169.0,442.23 169.5,438.11 170.0,433.98 170.5,429.82 171.0,425.65 171.5,421.48 172.0,417.31 172.5,413.16 173.0,409.03 173.5,404.93 174.0,400.87 174.5,396.86 175.0,392.92 175.5,389.04 176.0,385.24 176.5,381.54 177.0,377.94 177.5,374.45 178.0,371.08 178.5,367.85 179.0,364.75 179.5,361.82 180.0,359.05 180.5,356.45 181.0,354.03 181.5,351.81 182.0,349.78 182.5,347.97 183.0,346.37 183.5,344.99 184.0,343.84 184.5,342.92 185.0,342.24 185.5,341.79 186.0,341.59 186.5,341.64 187.0,341.96 187.5,342.56 188.0,343.44 188.5,344.58 189.0,345.99 189.5,347.65 190.0,349.56 190.5,351.71 191.0,354.09 191.5,356.69 192.0,359.49 192.5,362.49 193.0,365.67 193.5,369.02 194.0,372.53 194.5,376.18 195.0,379.96 195.5,383.86 196.0,387.86 196.5,391.96 197.0,396.13 197.5,400.37 198.0,404.67 198.5,409.01 199.0,413.38 199.5,417.77 200.0,422.18 200.5,426.58 201.0,430.98 201.5,435.35 202.0,439.70 202.5,444.02 203.0,448.29 203.5,452.51 204.0,456.67 204.5,460.77 205.0,464.80 205.5,468.76 206.0,472.63 206.5,476.42 207.0,480.13 207.5,483.74 208.0,487.26 208.5,490.68 209.0,494.00 209.5,497.22 210.0,500.34 210.5,503.35 211.0,506.27 211.5,509.07 212.0,511.78 212.5,514.38 213.0,516.88 213.5,519.27 214.0,521.57 214.5,523.77 215.0,525.87 215.5,527.87 216.0,529.79 216.5,531.61 217.0,533.34 217.5,534.99 218.0,536.55 218.5,538.04 219.0,539.44 219.5,540.77 220.0,542.03 220.5,543.21 221.0,544.33 221.5,545.39 222.0,546.39 222.5,547.32 223.0,548.21 223.5,549.03 224.0,549.81 224.5,550.54 225.0,551.23 225.5,551.87 226.0,552.47 226.5,553.04 227.0,553.56 227.5,554.06 228.0,554.52 228.5,554.95 229.0,555.36 229.5,555.74 230.0,556.09 230.5,556.42 231.0,556.73 231.5,557.02 232.0,557.29 232.5,557.55 233.0,557.78 233.5,558.01 234.0,558.22 234.5,558.41 235.0,558.60 235.5,558.77 236.0,558.94 236.5,559.09 237.0,559.24 237.5,559.37 238.0,559.50 238.5,559.63 239.0,559.74 239.5,559.85 240.0,559.96 240.5,560.06 241.0,560.16 241.5,560.25 242.0,560.33 242.5,560.42 243.0,560.50 243.5,560.58 244.0,560.65 244.5,560.72 245.0,560.79 245.5,560.86 246.0,560.92 246.5,560.98 247.0,561.04 247.5,561.10 248.0,561.16 248.5,561.21 249.0,561.26 249.5,561.32 250.0,561.37 250.5,561.42 251.0,561.46 252.5,561.60 254.0,561.73 255.5,561.85 257.0,561.96 258.5,562.06 260.0,562.16 261.5,562.26 263.0,562.35 264.5,562.43 266.0,562.51 267.5,562.59 269.0,562.66 270.5,562.73 272.0,562.79 273.5,562.85 275.0,562.91 276.5,562.97 278.0,563.02 279.5,563.08 281.0,563.13 282.5,563.17 284.0,563.22 285.5,563.26 287.0,563.31 288.5,563.35 290.0,563.39 291.5,563.42 293.0,563.46 294.5,563.49 296.0,563.53 297.5,563.56 299.0,563.59 300.5,563.62 302.0,563.65 303.5,563.68 305.0,563.70 306.5,563.73 308.0,563.76 309.5,563.78 311.0,563.80 312.5,563.83 314.0,563.85 315.5,563.87 317.0,563.89 318.5,563.91 320.0,563.93 321.5,563.95 323.0,563.97 324.5,563.99 326.0,564.01 327.5,564.03 329.0,564.04 330.5,564.06 332.0,564.07 333.0,564.09" fill="none" stroke="#f5b080" stroke-width="2.1" stroke-linejoin="round" stroke-linecap="butt"/>
<polyline points="45.0,563.41 46.5,563.41 48.0,563.40 49.5,563.40 51.0,563.40 52.5,563.39 54.0,563.39 55.5,563.38 57.0,563.38 58.5,563.37 60.0,563.37 61.5,563.36 63.0,563.36 64.5,563.35 66.0,563.34 67.5,563.33 69.0,563.33 70.5,563.32 72.0,563.31 73.5,563.30 75.0,563.29 76.5,563.28 78.0,563.27 79.5,563.26 81.0,563.25 82.5,563.24 84.0,563.22 85.5,563.21 87.0,563.19 88.5,563.18 90.0,563.16 91.5,563.14 93.0,563.13 94.5,563.11 96.0,563.09 97.5,563.07 99.0,563.04 100.5,563.02 102.0,562.99 103.5,562.97 105.0,562.94 106.5,562.91 108.0,562.87 109.5,562.84 111.0,562.80 112.5,562.76 114.0,562.72 115.5,562.67 117.0,562.61 118.5,562.55 119.0,562.53 119.5,562.51 120.0,562.48 120.5,562.46 121.0,562.43 121.5,562.40 122.0,562.37 122.5,562.34 123.0,562.31 123.5,562.27 124.0,562.24 124.5,562.20 125.0,562.16 125.5,562.11 126.0,562.06 126.5,562.01 127.0,561.96 127.5,561.90 128.0,561.84 128.5,561.78 129.0,561.71 129.5,561.63 130.0,561.55 130.5,561.47 131.0,561.37 131.5,561.28 132.0,561.17 132.5,561.06 133.0,560.93 133.5,560.80 134.0,560.66 134.5,560.51 135.0,560.35 135.5,560.18 136.0,559.99 136.5,559.79 137.0,559.57 137.5,559.34 138.0,559.10 138.5,558.83 139.0,558.55 139.5,558.25 140.0,557.92 140.5,557.58 141.0,557.21 141.5,556.82 142.0,556.40 142.5,555.95 143.0,555.47 143.5,554.96 144.0,554.43 144.5,553.85 145.0,553.24 145.5,552.60 146.0,551.91 146.5,551.19 147.0,550.42 147.5,549.61 148.0,548.76 148.5,547.85 149.0,546.90 149.5,545.90 150.0,544.84 150.5,543.73 151.0,542.57 151.5,541.35 152.0,540.07 152.5,538.73 153.0,537.32 153.5,535.86 154.0,534.33 154.5,532.74 155.0,531.08 155.5,529.35 156.0,527.55 156.5,525.69 157.0,523.76 157.5,521.76 158.0,519.68 158.5,517.54 159.0,515.33 159.5,513.06 160.0,510.71 160.5,508.30 161.0,505.82 161.5,503.28 162.0,500.67 162.5,498.00 163.0,495.28 163.5,492.49 164.0,489.65 164.5,486.77 165.0,483.83 165.5,480.84 166.0,477.82 166.5,474.76 167.0,471.66 167.5,468.54 168.0,465.39 168.5,462.22 169.0,459.03 169.5,455.84 170.0,452.64 170.5,449.45 171.0,446.26 171.5,443.08 172.0,439.93 172.5,436.80 173.0,433.70 173.5,430.64 174.0,427.63 174.5,424.67 175.0,421.78 175.5,418.94 176.0,416.18 176.5,413.51 177.0,410.91 177.5,408.42 178.0,406.02 178.5,403.73 179.0,401.55 179.5,399.50 180.0,397.56 180.5,395.77 181.0,394.10 181.5,392.58 182.0,391.21 182.5,389.99 183.0,388.92 183.5,388.01 184.0,387.27 184.5,386.69 185.0,386.27 185.5,386.02 186.0,385.95 186.5,386.04 187.0,386.33 187.5,386.79 188.0,387.44 188.5,388.26 189.0,389.26 189.5,390.43 190.0,391.77 190.5,393.27 191.0,394.93 191.5,396.73 192.0,398.68 192.5,400.77 193.0,402.98 193.5,405.32 194.0,407.77 194.5,410.33 195.0,412.99 195.5,415.74 196.0,418.57 196.5,421.48 197.0,424.45 197.5,427.49 198.0,430.58 198.5,433.71 199.0,436.88 199.5,440.08 200.0,443.30 200.5,446.55 201.0,449.80 201.5,453.05 202.0,456.30 202.5,459.55 203.0,462.77 203.5,465.98 204.0,469.17 204.5,472.32 205.0,475.44 205.5,478.53 206.0,481.57 206.5,484.56 207.0,487.50 207.5,490.39 208.0,493.23 208.5,496.00 209.0,498.72 209.5,501.37 210.0,503.96 210.5,506.48 211.0,508.93 211.5,511.31 212.0,513.63 212.5,515.87 213.0,518.04 213.5,520.14 214.0,522.17 214.5,524.13 215.0,526.02 215.5,527.83 216.0,529.58 216.5,531.26 217.0,532.87 217.5,534.42 218.0,535.90 218.5,537.31 219.0,538.67 219.5,539.96 220.0,541.19 220.5,542.37 221.0,543.48 221.5,544.55 222.0,545.56 222.5,546.52 223.0,547.43 223.5,548.29 224.0,549.11 224.5,549.88 225.0,550.61 225.5,551.31 226.0,551.96 226.5,552.57 227.0,553.15 227.5,553.70 228.0,554.21 228.5,554.70 229.0,555.15 229.5,555.58 230.0,555.98 230.5,556.36 231.0,556.72 231.5,557.05 232.0,557.36 232.5,557.66 233.0,557.93 233.5,558.19 234.0,558.43 234.5,558.66 235.0,558.87 235.5,559.07 236.0,559.26 236.5,559.43 237.0,559.60 237.5,559.75 238.0,559.90 238.5,560.03 239.0,560.16 239.5,560.28 240.0,560.39 240.5,560.50 241.0,560.60 241.5,560.70 242.0,560.79 242.5,560.87 243.0,560.95 243.5,561.03 244.0,561.10 244.5,561.17 245.0,561.24 245.5,561.30 246.0,561.36 246.5,561.42 247.0,561.47 247.5,561.53 248.0,561.58 248.5,561.62 249.0,561.67 249.5,561.72 250.0,561.76 250.5,561.80 251.0,561.84 251.5,561.88 252.0,561.92 252.5,561.95 253.0,561.99 253.5,562.02 254.0,562.06 254.5,562.09 256.0,562.18 257.5,562.27 259.0,562.35 260.5,562.42 262.0,562.49 263.5,562.56 265.0,562.63 266.5,562.69 268.0,562.74 269.5,562.80 271.0,562.85 272.5,562.90 274.0,562.95 275.5,562.99 277.0,563.04 278.5,563.08 280.0,563.12 281.5,563.16 283.0,563.19 284.5,563.23 286.0,563.26 287.5,563.30 289.0,563.33 290.5,563.36 292.0,563.39 293.5,563.41 295.0,563.44 296.5,563.47 298.0,563.49 299.5,563.52 301.0,563.54 302.5,563.57 304.0,563.59 305.5,563.61 307.0,563.63 308.5,563.65 310.0,563.67 311.5,563.69 313.0,563.71 314.5,563.73 316.0,563.74 317.5,563.76 319.0,563.78 320.5,563.80 322.0,563.81 323.5,563.83 325.0,563.84 326.5,563.86 328.0,563.87 329.5,563.89 331.0,563.90 332.5,563.91 333.0,563.92" fill="none" stroke="#ffc0f0" stroke-width="2.1" stroke-linejoin="round" stroke-linecap="butt"/>
<polyline points="45.0,562.49 46.5,562.49 48.0,562.49 49.5,562.49 51.0,562.49 52.5,562.49 54.0,562.48 55.5,562.48 57.0,562.48 58.5,562.47 60.0,562.47 61.5,562.46 63.0,562.46 64.5,562.45 66.0,562.45 67.5,562.44 69.0,562.43 70.5,562.42 72.0,562.42 73.5,562.41 75.0,562.40 76.5,562.39 78.0,562.37 79.5,562.36 81.0,562.35 82.5,562.34 84.0,562.32 85.5,562.31 87.0,562.29 88.5,562.27 90.0,562.25 91.5,562.23 93.0,562.21 94.5,562.19 96.0,562.16 97.5,562.14 99.0,562.11 100.5,562.08 102.0,562.05 103.5,562.02 105.0,561.98 106.5,561.94 108.0,561.90 109.5,561.85 111.0,561.80 112.5,561.75 113.0,561.73 113.5,561.71 114.0,561.69 114.5,561.67 115.0,561.65 115.5,561.63 116.0,561.60 116.5,561.58 117.0,561.55 117.5,561.52 118.0,561.50 118.5,561.47 119.0,561.44 119.5,561.41 120.0,561.37 120.5,561.34 121.0,561.30 121.5,561.27 122.0,561.23 122.5,561.18 123.0,561.14 123.5,561.09 124.0,561.04 124.5,560.99 125.0,560.94 125.5,560.88 126.0,560.82 126.5,560.76 127.0,560.69 127.5,560.62 128.0,560.55 128.5,560.47 129.0,560.38 129.5,560.29 130.0,560.20 130.5,560.10 131.0,560.00 131.5,559.88 132.0,559.76 132.5,559.64 133.0,559.51 133.5,559.37 134.0,559.22 134.5,559.06 135.0,558.89 135.5,558.71 136.0,558.52 136.5,558.33 137.0,558.12 137.5,557.89 138.0,557.66 138.5,557.41 139.0,557.15 139.5,556.87 140.0,556.57 140.5,556.27 141.0,555.94 141.5,555.59 142.0,555.23 142.5,554.85 143.0,554.45 143.5,554.03 144.0,553.58 144.5,553.11 145.0,552.62 145.5,552.11 146.0,551.57 146.5,551.01 147.0,550.41 147.5,549.79 148.0,549.15 148.5,548.47 149.0,547.76 149.5,547.03 150.0,546.26 150.5,545.46 151.0,544.62 151.5,543.75 152.0,542.85 152.5,541.91 153.0,540.94 153.5,539.93 154.0,538.89 154.5,537.81 155.0,536.69 155.5,535.53 156.0,534.34 156.5,533.11 157.0,531.84 157.5,530.53 158.0,529.18 158.5,527.80 159.0,526.38 159.5,524.92 160.0,523.43 160.5,521.90 161.0,520.33 161.5,518.73 162.0,517.09 162.5,515.42 163.0,513.72 163.5,511.99 164.0,510.23 164.5,508.44 165.0,506.62 165.5,504.78 166.0,502.92 166.5,501.03 167.0,499.12 167.5,497.20 168.0,495.26 168.5,493.31 169.0,491.34 169.5,489.37 170.0,487.39 170.5,485.41 171.0,483.43 171.5,481.46 172.0,479.48 172.5,477.52 173.0,475.57 173.5,473.63 174.0,471.72 174.5,469.82 175.0,467.95 175.5,466.11 176.0,464.30 176.5,462.53 177.0,460.79 177.5,459.10 178.0,457.46 178.5,455.87 179.0,454.33 179.5,452.85 180.0,451.44 180.5,450.08 181.0,448.80 181.5,447.58 182.0,446.45 182.5,445.39 183.0,444.41 183.5,443.51 184.0,442.70 184.5,441.98 185.0,441.36 185.5,440.82 186.0,440.38 186.5,440.03 187.0,439.78 187.5,439.63 188.0,439.58 188.5,439.63 189.0,439.81 189.5,440.10 190.0,440.51 190.5,441.04 191.0,441.68 191.5,442.43 192.0,443.29 192.5,444.25 193.0,445.31 193.5,446.47 194.0,447.72 194.5,449.05 195.0,450.47 195.5,451.96 196.0,453.52 196.5,455.15 197.0,456.84 197.5,458.58 198.0,460.37 198.5,462.21 199.0,464.08 199.5,466.00 200.0,467.94 200.5,469.91 201.0,471.90 201.5,473.91 202.0,475.93 202.5,477.96 203.0,479.99 203.5,482.03 204.0,484.07 204.5,486.10 205.0,488.12 205.5,490.14 206.0,492.14 206.5,494.12 207.0,496.08 207.5,498.03 208.0,499.95 208.5,501.85 209.0,503.72 209.5,505.56 210.0,507.38 210.5,509.16 211.0,510.91 211.5,512.63 212.0,514.31 212.5,515.96 213.0,517.57 213.5,519.14 214.0,520.68 214.5,522.17 215.0,523.63 215.5,525.06 216.0,526.44 216.5,527.78 217.0,529.09 217.5,530.35 218.0,531.58 218.5,532.77 219.0,533.92 219.5,535.03 220.0,536.11 220.5,537.15 221.0,538.15 221.5,539.12 222.0,540.05 222.5,540.95 223.0,541.82 223.5,542.65 224.0,543.45 224.5,544.21 225.0,544.95 225.5,545.66 226.0,546.34 226.5,546.99 227.0,547.61 227.5,548.21 228.0,548.78 228.5,549.32 229.0,549.85 229.5,550.34 230.0,550.82 230.5,551.28 231.0,551.71 231.5,552.13 232.0,552.52 232.5,552.90 233.0,553.26 233.5,553.61 234.0,553.94 234.5,554.25 235.0,554.55 235.5,554.84 236.0,555.11 236.5,555.37 237.0,555.62 237.5,555.85 238.0,556.08 238.5,556.29 239.0,556.50 239.5,556.69 240.0,556.88 240.5,557.06 241.0,557.23 241.5,557.40 242.0,557.55 242.5,557.70 243.0,557.85 243.5,557.99 244.0,558.12 244.5,558.25 245.0,558.37 245.5,558.49 246.0,558.60 246.5,558.71 247.0,558.81 247.5,558.91 248.0,559.01 248.5,559.11 249.0,559.20 249.5,559.28 250.0,559.37 250.5,559.45 251.0,559.53 251.5,559.61 252.0,559.68 252.5,559.76 253.0,559.83 253.5,559.90 254.0,559.96 254.5,560.03 255.0,560.09 255.5,560.15 256.0,560.21 256.5,560.27 257.0,560.33 257.5,560.39 258.0,560.44 258.5,560.49 259.0,560.55 259.5,560.60 260.0,560.65 260.5,560.70 261.0,560.75 261.5,560.79 262.0,560.84 262.5,560.89 263.0,560.93 263.5,560.97 264.0,561.02 265.5,561.14 267.0,561.26 268.5,561.37 270.0,561.48 271.5,561.58 273.0,561.67 274.5,561.77 276.0,561.85 277.5,561.94 279.0,562.02 280.5,562.10 282.0,562.17 283.5,562.24 285.0,562.31 286.5,562.38 288.0,562.44 289.5,562.51 291.0,562.57 292.5,562.62 294.0,562.68 295.5,562.73 297.0,562.78 298.5,562.83 300.0,562.88 301.5,562.93 303.0,562.98 304.5,563.02 306.0,563.06 307.5,563.10 309.0,563.14 310.5,563.18 312.0,563.22 313.5,563.26 315.0,563.30 316.5,563.33 318.0,563.37 319.5,563.40 321.0,563.43 322.5,563.46 324.0,563.50 325.5,563.53 327.0,563.56 328.5,563.59 330.0,563.61 331.5,563.64 333.0,563.67" fill="none" stroke="#b8f080" stroke-width="2.1" stroke-linejoin="round" stroke-linecap="butt"/>
<line x1="45.0" y1="288.0" x2="45.0" y2="568.5" stroke="#868686" stroke-width="1"/>
<line x1="258.4" y1="352.10" x2="286.6" y2="352.10" stroke="#0000ff" stroke-width="2.1"/>
<text x="288.7" y="355.30" class="lg">Bare</text>
<line x1="258.4" y1="374.28" x2="286.6" y2="374.28" stroke="#ff0080" stroke-width="2.1"/>
<text x="288.7" y="377.48" class="lg">-0.75 V</text>
<line x1="258.4" y1="396.46" x2="286.6" y2="396.46" stroke="#ff00ff" stroke-width="2.1"/>
<text x="288.7" y="399.66" class="lg">-0.8 V</text>
<line x1="258.4" y1="418.64" x2="286.6" y2="418.64" stroke="#00ffff" stroke-width="2.1"/>
<text x="288.7" y="421.84" class="lg">-0.9 V</text>
<line x1="258.4" y1="440.82" x2="286.6" y2="440.82" stroke="#00ff00" stroke-width="2.1"/>
<text x="288.7" y="444.02" class="lg">-1 V</text>
<line x1="258.4" y1="463.00" x2="286.6" y2="463.00" stroke="#ffff00" stroke-width="2.1"/>
<text x="288.7" y="466.20" class="lg">-1.1 V</text>
<line x1="258.4" y1="485.18" x2="286.6" y2="485.18" stroke="#f5b080" stroke-width="2.1"/>
<text x="288.7" y="488.38" class="lg">-1.2 V</text>
<line x1="258.4" y1="507.36" x2="286.6" y2="507.36" stroke="#ffc0f0" stroke-width="2.1"/>
<text x="288.7" y="510.56" class="lg">-1.25 V</text>
<line x1="258.4" y1="529.54" x2="286.6" y2="529.54" stroke="#b8f080" stroke-width="2.1"/>
<text x="288.7" y="532.74" class="lg">-1.5 V</text>
<text x="63.4" y="311.2" class="pl">C</text>
<text x="175.2" y="612.4" class="ax">P(V)</text>
<text transform="translate(10.0,440.8) rotate(-90)" class="ax">I(μA)</text>
<line x1="390.5" y1="564.50" x2="394.5" y2="564.50" stroke="#868686" stroke-width="1"/>
<text x="383.40" y="569.30" text-anchor="end" class="t">0</text>
<line x1="390.5" y1="525.03" x2="394.5" y2="525.03" stroke="#868686" stroke-width="1"/>
<text x="383.40" y="529.83" text-anchor="end" class="t">10</text>
<line x1="390.5" y1="485.56" x2="394.5" y2="485.56" stroke="#868686" stroke-width="1"/>
<text x="383.40" y="490.36" text-anchor="end" class="t">20</text>
<line x1="390.5" y1="446.09" x2="394.5" y2="446.09" stroke="#868686" stroke-width="1"/>
<text x="383.40" y="450.89" text-anchor="end" class="t">30</text>
<line x1="390.5" y1="406.62" x2="394.5" y2="406.62" stroke="#868686" stroke-width="1"/>
<text x="383.40" y="411.42" text-anchor="end" class="t">40</text>
<line x1="390.5" y1="367.15" x2="394.5" y2="367.15" stroke="#868686" stroke-width="1"/>
<text x="383.40" y="371.95" text-anchor="end" class="t">50</text>
<line x1="390.5" y1="327.68" x2="394.5" y2="327.68" stroke="#868686" stroke-width="1"/>
<text x="383.40" y="332.48" text-anchor="end" class="t">60</text>
<line x1="390.5" y1="288.21" x2="394.5" y2="288.21" stroke="#868686" stroke-width="1"/>
<text x="383.40" y="293.01" text-anchor="end" class="t">70</text>
<line x1="394.5" y1="564.5" x2="682.5" y2="564.5" stroke="#868686" stroke-width="1"/>
<line x1="394.50" y1="564.5" x2="394.50" y2="568.5" stroke="#868686" stroke-width="1"/>
<text x="394.50" y="583.00" text-anchor="middle" class="t">-0.2</text>
<line x1="458.50" y1="564.5" x2="458.50" y2="568.5" stroke="#868686" stroke-width="1"/>
<text x="458.50" y="583.00" text-anchor="middle" class="t">0</text>
<line x1="522.50" y1="564.5" x2="522.50" y2="568.5" stroke="#868686" stroke-width="1"/>
<text x="522.50" y="583.00" text-anchor="middle" class="t">0.2</text>
<line x1="586.50" y1="564.5" x2="586.50" y2="568.5" stroke="#868686" stroke-width="1"/>
<text x="586.50" y="583.00" text-anchor="middle" class="t">0.4</text>
<line x1="650.50" y1="564.5" x2="650.50" y2="568.5" stroke="#868686" stroke-width="1"/>
<text x="650.50" y="583.00" text-anchor="middle" class="t">0.6</text>
<polyline points="394.5,560.43 396.0,560.43 397.5,560.42 399.0,560.42 400.5,560.41 402.0,560.40 403.5,560.40 405.0,560.39 406.5,560.38 408.0,560.37 409.5,560.36 411.0,560.35 412.5,560.34 414.0,560.33 415.5,560.32 417.0,560.31 418.5,560.29 420.0,560.28 421.5,560.26 423.0,560.24 424.5,560.23 426.0,560.21 427.5,560.19 429.0,560.16 430.5,560.14 432.0,560.12 433.5,560.09 435.0,560.06 436.5,560.04 438.0,560.01 439.5,559.97 441.0,559.94 442.5,559.90 444.0,559.87 445.5,559.83 447.0,559.78 447.5,559.77 448.0,559.75 448.5,559.74 449.0,559.72 449.5,559.71 450.0,559.69 450.5,559.67 451.0,559.66 451.5,559.64 452.0,559.62 452.5,559.60 453.0,559.58 453.5,559.56 454.0,559.55 454.5,559.53 455.0,559.51 455.5,559.49 456.0,559.46 456.5,559.44 457.0,559.42 457.5,559.40 458.0,559.38 458.5,559.35 459.0,559.33 459.5,559.30 460.0,559.28 460.5,559.25 461.0,559.22 461.5,559.20 462.0,559.17 462.5,559.14 463.0,559.11 463.5,559.08 464.0,559.05 464.5,559.02 465.0,558.98 465.5,558.95 466.0,558.91 466.5,558.88 467.0,558.84 467.5,558.80 468.0,558.76 468.5,558.72 469.0,558.68 469.5,558.63 470.0,558.59 470.5,558.54 471.0,558.49 471.5,558.44 472.0,558.39 472.5,558.34 473.0,558.28 473.5,558.22 474.0,558.16 474.5,558.10 475.0,558.04 475.5,557.97 476.0,557.90 476.5,557.83 477.0,557.75 477.5,557.67 478.0,557.59 478.5,557.50 479.0,557.42 479.5,557.32 480.0,557.23 480.5,557.13 481.0,557.02 481.5,556.91 482.0,556.80 482.5,556.68 483.0,556.56 483.5,556.43 484.0,556.29 484.5,556.15 485.0,556.01 485.5,555.85 486.0,555.70 486.5,555.53 487.0,555.36 487.5,555.18 488.0,554.99 488.5,554.79 489.0,554.59 489.5,554.38 490.0,554.16 490.5,553.93 491.0,553.69 491.5,553.44 492.0,553.18 492.5,552.91 493.0,552.63 493.5,552.34 494.0,552.04 494.5,551.72 495.0,551.40 495.5,551.06 496.0,550.71 496.5,550.34 497.0,549.96 497.5,549.57 498.0,549.17 498.5,548.75 499.0,548.31 499.5,547.86 500.0,547.40 500.5,546.92 501.0,546.42 501.5,545.91 502.0,545.38 502.5,544.84 503.0,544.28 503.5,543.70 504.0,543.11 504.5,542.49 505.0,541.87 505.5,541.22 506.0,540.56 506.5,539.87 507.0,539.18 507.5,538.46 508.0,537.72 508.5,536.97 509.0,536.20 509.5,535.42 510.0,534.61 510.5,533.79 511.0,532.96 511.5,532.10 512.0,531.23 512.5,530.35 513.0,529.44 513.5,528.53 514.0,527.59 514.5,526.65 515.0,525.69 515.5,524.71 516.0,523.73 516.5,522.73 517.0,521.72 517.5,520.70 518.0,519.67 518.5,518.63 519.0,517.58 519.5,516.52 520.0,515.46 520.5,514.40 521.0,513.33 521.5,512.25 522.0,511.18 522.5,510.10 523.0,509.03 523.5,507.95 524.0,506.89 524.5,505.82 525.0,504.77 525.5,503.72 526.0,502.68 526.5,501.65 527.0,500.64 527.5,499.64 528.0,498.66 528.5,497.69 529.0,496.75 529.5,495.83 530.0,494.94 530.5,494.07 531.0,493.23 531.5,492.42 532.0,491.65 532.5,490.91 533.0,490.20 533.5,489.54 534.0,488.91 534.5,488.33 535.0,487.79 535.5,487.30 536.0,486.85 536.5,486.46 537.0,486.11 537.5,485.81 538.0,485.57 538.5,485.38 539.0,485.24 539.5,485.16 540.0,485.13 540.5,485.15 541.0,485.21 541.5,485.33 542.0,485.48 542.5,485.69 543.0,485.93 543.5,486.23 544.0,486.56 544.5,486.93 545.0,487.35 545.5,487.80 546.0,488.30 546.5,488.83 547.0,489.39 547.5,489.99 548.0,490.62 548.5,491.28 549.0,491.98 549.5,492.69 550.0,493.44 550.5,494.21 551.0,495.00 551.5,495.82 552.0,496.65 552.5,497.51 553.0,498.37 553.5,499.26 554.0,500.16 554.5,501.07 555.0,501.99 555.5,502.91 556.0,503.85 556.5,504.80 557.0,505.75 557.5,506.70 558.0,507.66 558.5,508.62 559.0,509.58 559.5,510.54 560.0,511.50 560.5,512.45 561.0,513.41 561.5,514.36 562.0,515.31 562.5,516.25 563.0,517.18 563.5,518.11 564.0,519.04 564.5,519.95 565.0,520.86 565.5,521.75 566.0,522.64 566.5,523.52 567.0,524.39 567.5,525.24 568.0,526.09 568.5,526.93 569.0,527.75 569.5,528.56 570.0,529.36 570.5,530.15 571.0,530.92 571.5,531.68 572.0,532.43 572.5,533.17 573.0,533.89 573.5,534.60 574.0,535.29 574.5,535.98 575.0,536.65 575.5,537.30 576.0,537.94 576.5,538.57 577.0,539.19 577.5,539.79 578.0,540.37 578.5,540.95 579.0,541.51 579.5,542.06 580.0,542.59 580.5,543.11 581.0,543.62 581.5,544.12 582.0,544.60 582.5,545.07 583.0,545.53 583.5,545.98 584.0,546.41 584.5,546.84 585.0,547.25 585.5,547.65 586.0,548.04 586.5,548.42 587.0,548.78 587.5,549.14 588.0,549.49 588.5,549.82 589.0,550.15 589.5,550.47 590.0,550.77 590.5,551.07 591.0,551.36 591.5,551.64 592.0,551.91 592.5,552.18 593.0,552.43 593.5,552.68 594.0,552.92 594.5,553.15 595.0,553.37 595.5,553.59 596.0,553.80 596.5,554.01 597.0,554.20 597.5,554.40 598.0,554.58 598.5,554.76 599.0,554.93 599.5,555.10 600.0,555.27 600.5,555.42 601.0,555.58 601.5,555.72 602.0,555.87 602.5,556.01 603.0,556.14 603.5,556.27 604.0,556.40 604.5,556.52 605.0,556.64 605.5,556.75 606.0,556.86 606.5,556.97 607.0,557.08 607.5,557.18 608.0,557.28 608.5,557.37 609.0,557.47 609.5,557.56 610.0,557.65 610.5,557.73 611.0,557.81 611.5,557.90 612.0,557.97 612.5,558.05 613.0,558.13 613.5,558.20 614.0,558.27 614.5,558.34 615.0,558.41 615.5,558.47 616.0,558.54 616.5,558.60 617.0,558.66 617.5,558.72 618.0,558.78 618.5,558.83 619.0,558.89 619.5,558.94 620.0,559.00 620.5,559.05 621.0,559.10 621.5,559.15 622.0,559.20 622.5,559.25 623.0,559.30 623.5,559.34 624.0,559.39 624.5,559.43 625.0,559.48 625.5,559.52 626.0,559.56 626.5,559.60 627.0,559.64 627.5,559.68 628.0,559.72 628.5,559.76 629.0,559.80 629.5,559.84 630.0,559.87 630.5,559.91 631.0,559.94 631.5,559.98 632.0,560.01 632.5,560.05 633.0,560.08 633.5,560.12 635.0,560.21 636.5,560.30 638.0,560.39 639.5,560.48 641.0,560.56 642.5,560.64 644.0,560.72 645.5,560.79 647.0,560.86 648.5,560.93 650.0,561.00 651.5,561.07 653.0,561.13 654.5,561.19 656.0,561.25 657.5,561.31 659.0,561.36 660.5,561.42 662.0,561.47 663.5,561.52 665.0,561.57 666.5,561.62 668.0,561.67 669.5,561.71 671.0,561.76 672.5,561.80 674.0,561.85 675.5,561.89 677.0,561.93 678.5,561.97 680.0,562.01 681.5,562.05 682.5,562.07" fill="none" stroke="#0000ff" stroke-width="2.4" stroke-linejoin="round" stroke-linecap="butt"/>
<polyline points="394.5,562.45 396.0,562.43 397.5,562.42 399.0,562.40 400.5,562.39 402.0,562.37 403.5,562.36 405.0,562.34 406.5,562.32 408.0,562.30 409.5,562.28 411.0,562.26 412.5,562.24 414.0,562.22 415.5,562.19 417.0,562.17 418.5,562.14 420.0,562.12 421.5,562.09 423.0,562.06 424.5,562.03 426.0,562.00 427.5,561.96 429.0,561.93 430.5,561.89 432.0,561.85 433.5,561.81 435.0,561.77 436.5,561.73 438.0,561.68 439.5,561.64 441.0,561.58 442.5,561.53 444.0,561.48 445.5,561.42 447.0,561.36 448.5,561.29 450.0,561.22 451.5,561.15 453.0,561.08 454.5,561.00 456.0,560.91 457.5,560.82 459.0,560.73 460.5,560.63 462.0,560.52 463.5,560.41 465.0,560.29 466.5,560.16 468.0,560.02 469.5,559.87 471.0,559.71 471.5,559.65 472.0,559.59 472.5,559.53 473.0,559.47 473.5,559.41 474.0,559.34 474.5,559.27 475.0,559.20 475.5,559.12 476.0,559.05 476.5,558.97 477.0,558.88 477.5,558.80 478.0,558.71 478.5,558.61 479.0,558.51 479.5,558.41 480.0,558.30 480.5,558.19 481.0,558.07 481.5,557.95 482.0,557.82 482.5,557.68 483.0,557.54 483.5,557.38 484.0,557.22 484.5,557.05 485.0,556.87 485.5,556.68 486.0,556.48 486.5,556.27 487.0,556.05 487.5,555.81 488.0,555.55 488.5,555.29 489.0,555.00 489.5,554.70 490.0,554.38 490.5,554.04 491.0,553.68 491.5,553.30 492.0,552.89 492.5,552.46 493.0,552.00 493.5,551.52 494.0,551.00 494.5,550.46 495.0,549.88 495.5,549.27 496.0,548.62 496.5,547.94 497.0,547.21 497.5,546.45 498.0,545.64 498.5,544.78 499.0,543.88 499.5,542.93 500.0,541.93 500.5,540.88 501.0,539.77 501.5,538.60 502.0,537.38 502.5,536.10 503.0,534.75 503.5,533.34 504.0,531.87 504.5,530.32 505.0,528.71 505.5,527.03 506.0,525.28 506.5,523.46 507.0,521.56 507.5,519.59 508.0,517.54 508.5,515.41 509.0,513.21 509.5,510.94 510.0,508.59 510.5,506.16 511.0,503.65 511.5,501.07 512.0,498.42 512.5,495.69 513.0,492.89 513.5,490.02 514.0,487.08 514.5,484.08 515.0,481.01 515.5,477.89 516.0,474.70 516.5,471.46 517.0,468.17 517.5,464.84 518.0,461.46 518.5,458.05 519.0,454.60 519.5,451.13 520.0,447.64 520.5,444.13 521.0,440.62 521.5,437.10 522.0,433.59 522.5,430.09 523.0,426.61 523.5,423.16 524.0,419.74 524.5,416.37 525.0,413.06 525.5,409.80 526.0,406.61 526.5,403.51 527.0,400.49 527.5,397.58 528.0,394.77 528.5,392.08 529.0,389.52 529.5,387.10 530.0,384.82 530.5,382.70 531.0,380.74 531.5,378.96 532.0,377.35 532.5,375.94 533.0,374.71 533.5,373.69 534.0,372.86 534.5,372.25 535.0,371.85 535.5,371.66 536.0,371.68 536.5,371.92 537.0,372.38 537.5,373.06 538.0,373.94 538.5,375.03 539.0,376.33 539.5,377.81 540.0,379.49 540.5,381.34 541.0,383.37 541.5,385.56 542.0,387.90 542.5,390.38 543.0,392.99 543.5,395.73 544.0,398.58 544.5,401.53 545.0,404.57 545.5,407.70 546.0,410.90 546.5,414.16 547.0,417.47 547.5,420.83 548.0,424.22 548.5,427.65 549.0,431.09 549.5,434.55 550.0,438.01 550.5,441.47 551.0,444.92 551.5,448.35 552.0,451.77 552.5,455.16 553.0,458.52 553.5,461.84 554.0,465.12 554.5,468.36 555.0,471.55 555.5,474.69 556.0,477.77 556.5,480.80 557.0,483.76 557.5,486.67 558.0,489.50 558.5,492.27 559.0,494.97 559.5,497.60 560.0,500.16 560.5,502.65 561.0,505.07 561.5,507.41 562.0,509.68 562.5,511.88 563.0,514.00 563.5,516.05 564.0,518.03 564.5,519.94 565.0,521.78 565.5,523.54 566.0,525.24 566.5,526.88 567.0,528.44 567.5,529.94 568.0,531.38 568.5,532.76 569.0,534.08 569.5,535.34 570.0,536.54 570.5,537.68 571.0,538.78 571.5,539.82 572.0,540.81 572.5,541.76 573.0,542.66 573.5,543.51 574.0,544.32 574.5,545.09 575.0,545.83 575.5,546.52 576.0,547.18 576.5,547.80 577.0,548.40 577.5,548.96 578.0,549.49 578.5,550.00 579.0,550.47 579.5,550.93 580.0,551.35 580.5,551.76 581.0,552.15 581.5,552.51 582.0,552.86 582.5,553.18 583.0,553.50 583.5,553.79 584.0,554.07 584.5,554.34 585.0,554.59 585.5,554.83 586.0,555.06 586.5,555.28 587.0,555.48 587.5,555.68 588.0,555.87 588.5,556.05 589.0,556.22 589.5,556.39 590.0,556.54 590.5,556.69 591.0,556.84 591.5,556.98 592.0,557.11 592.5,557.24 593.0,557.36 593.5,557.48 594.0,557.60 594.5,557.71 595.0,557.82 595.5,557.92 596.0,558.02 596.5,558.12 597.0,558.21 597.5,558.30 598.0,558.39 598.5,558.48 599.0,558.56 599.5,558.64 600.0,558.72 600.5,558.80 601.0,558.88 601.5,558.95 603.0,559.16 604.5,559.36 606.0,559.54 607.5,559.71 609.0,559.87 610.5,560.03 612.0,560.17 613.5,560.31 615.0,560.44 616.5,560.56 618.0,560.68 619.5,560.79 621.0,560.90 622.5,561.00 624.0,561.10 625.5,561.19 627.0,561.28 628.5,561.36 630.0,561.44 631.5,561.52 633.0,561.59 634.5,561.67 636.0,561.73 637.5,561.80 639.0,561.86 640.5,561.92 642.0,561.98 643.5,562.04 645.0,562.09 646.5,562.14 648.0,562.19 649.5,562.24 651.0,562.29 652.5,562.34 654.0,562.38 655.5,562.42 657.0,562.46 658.5,562.50 660.0,562.54 661.5,562.58 663.0,562.61 664.5,562.65 666.0,562.68 667.5,562.72 669.0,562.75 670.5,562.78 672.0,562.81 673.5,562.84 675.0,562.87 676.5,562.90 678.0,562.92 679.5,562.95 681.0,562.97 682.5,563.00" fill="none" stroke="#ff0000" stroke-width="2.4" stroke-linejoin="round" stroke-linecap="butt"/>
<polyline points="394.5,563.98 396.0,563.96 397.5,563.95 399.0,563.93 400.5,563.92 402.0,563.90 403.5,563.88 405.0,563.86 406.5,563.85 408.0,563.83 409.5,563.81 411.0,563.79 412.5,563.76 414.0,563.74 415.5,563.72 417.0,563.70 418.5,563.67 420.0,563.65 421.5,563.62 423.0,563.59 424.5,563.56 426.0,563.53 427.5,563.50 429.0,563.47 430.5,563.44 432.0,563.40 433.5,563.37 435.0,563.33 436.5,563.29 438.0,563.25 439.5,563.20 441.0,563.16 442.5,563.11 444.0,563.06 445.5,563.01 447.0,562.96 448.5,562.90 450.0,562.84 451.5,562.78 453.0,562.71 454.5,562.64 456.0,562.57 457.5,562.49 459.0,562.41 460.5,562.32 462.0,562.22 463.5,562.12 465.0,562.01 465.5,561.97 466.0,561.93 466.5,561.89 467.0,561.84 467.5,561.80 468.0,561.75 468.5,561.70 469.0,561.65 469.5,561.60 470.0,561.55 470.5,561.49 471.0,561.43 471.5,561.37 472.0,561.31 472.5,561.24 473.0,561.17 473.5,561.09 474.0,561.02 474.5,560.94 475.0,560.85 475.5,560.76 476.0,560.67 476.5,560.57 477.0,560.46 477.5,560.35 478.0,560.23 478.5,560.11 479.0,559.97 479.5,559.83 480.0,559.69 480.5,559.53 481.0,559.36 481.5,559.18 482.0,559.00 482.5,558.80 483.0,558.58 483.5,558.36 484.0,558.12 484.5,557.86 485.0,557.59 485.5,557.30 486.0,557.00 486.5,556.67 487.0,556.33 487.5,555.96 488.0,555.57 488.5,555.16 489.0,554.72 489.5,554.26 490.0,553.77 490.5,553.25 491.0,552.70 491.5,552.11 492.0,551.50 492.5,550.85 493.0,550.16 493.5,549.43 494.0,548.66 494.5,547.85 495.0,547.00 495.5,546.10 496.0,545.16 496.5,544.17 497.0,543.12 497.5,542.03 498.0,540.88 498.5,539.68 499.0,538.42 499.5,537.10 500.0,535.72 500.5,534.29 501.0,532.79 501.5,531.22 502.0,529.59 502.5,527.90 503.0,526.13 503.5,524.30 504.0,522.40 504.5,520.43 505.0,518.39 505.5,516.28 506.0,514.10 506.5,511.85 507.0,509.52 507.5,507.13 508.0,504.67 508.5,502.13 509.0,499.53 509.5,496.86 510.0,494.13 510.5,491.33 511.0,488.46 511.5,485.54 512.0,482.56 512.5,479.52 513.0,476.42 513.5,473.28 514.0,470.09 514.5,466.85 515.0,463.58 515.5,460.27 516.0,456.92 516.5,453.55 517.0,450.15 517.5,446.74 518.0,443.31 518.5,439.88 519.0,436.44 519.5,433.01 520.0,429.58 520.5,426.17 521.0,422.79 521.5,419.43 522.0,416.11 522.5,412.83 523.0,409.60 523.5,406.42 524.0,403.31 524.5,400.27 525.0,397.31 525.5,394.43 526.0,391.65 526.5,388.97 527.0,386.39 527.5,383.93 528.0,381.60 528.5,379.39 529.0,377.31 529.5,375.38 530.0,373.60 530.5,371.97 531.0,370.51 531.5,369.20 532.0,368.07 532.5,367.11 533.0,366.33 533.5,365.72 534.0,365.30 534.5,365.06 535.0,365.00 535.5,365.18 536.0,365.59 536.5,366.26 537.0,367.16 537.5,368.29 538.0,369.66 538.5,371.24 539.0,373.04 539.5,375.05 540.0,377.25 540.5,379.64 541.0,382.20 541.5,384.92 542.0,387.80 542.5,390.82 543.0,393.97 543.5,397.24 544.0,400.61 544.5,404.08 545.0,407.63 545.5,411.25 546.0,414.93 546.5,418.67 547.0,422.45 547.5,426.25 548.0,430.08 548.5,433.92 549.0,437.77 549.5,441.61 550.0,445.44 550.5,449.25 551.0,453.03 551.5,456.77 552.0,460.48 552.5,464.14 553.0,467.75 553.5,471.31 554.0,474.80 554.5,478.23 555.0,481.59 555.5,484.87 556.0,488.08 556.5,491.21 557.0,494.27 557.5,497.23 558.0,500.12 558.5,502.92 559.0,505.63 559.5,508.25 560.0,510.79 560.5,513.24 561.0,515.60 561.5,517.88 562.0,520.06 562.5,522.16 563.0,524.18 563.5,526.11 564.0,527.97 564.5,529.74 565.0,531.43 565.5,533.04 566.0,534.58 566.5,536.05 567.0,537.45 567.5,538.77 568.0,540.03 568.5,541.23 569.0,542.36 569.5,543.44 570.0,544.45 570.5,545.41 571.0,546.32 571.5,547.18 572.0,547.99 572.5,548.76 573.0,549.48 573.5,550.16 574.0,550.79 574.5,551.40 575.0,551.96 575.5,552.49 576.0,553.00 576.5,553.47 577.0,553.91 577.5,554.32 578.0,554.72 578.5,555.08 579.0,555.43 579.5,555.75 580.0,556.06 580.5,556.35 581.0,556.62 581.5,556.87 582.0,557.11 582.5,557.34 583.0,557.55 583.5,557.75 584.0,557.94 584.5,558.12 585.0,558.29 585.5,558.45 586.0,558.60 586.5,558.75 587.0,558.88 587.5,559.01 588.0,559.14 588.5,559.26 589.0,559.37 589.5,559.48 590.0,559.58 590.5,559.68 591.0,559.78 591.5,559.87 592.0,559.96 592.5,560.04 593.0,560.12 593.5,560.20 594.0,560.28 594.5,560.35 595.0,560.42 595.5,560.49 596.0,560.56 596.5,560.62 597.0,560.68 597.5,560.74 598.0,560.80 598.5,560.86 599.0,560.92 599.5,560.97 600.0,561.03 600.5,561.08 601.0,561.13 601.5,561.18 602.0,561.23 602.5,561.27 603.0,561.32 603.5,561.36 604.0,561.41 604.5,561.45 605.0,561.49 605.5,561.54 607.0,561.66 608.5,561.77 610.0,561.87 611.5,561.97 613.0,562.07 614.5,562.16 616.0,562.24 617.5,562.33 619.0,562.40 620.5,562.47 622.0,562.54 623.5,562.61 625.0,562.67 626.5,562.73 628.0,562.79 629.5,562.84 631.0,562.90 632.5,562.95 634.0,562.99 635.5,563.04 637.0,563.08 638.5,563.13 640.0,563.17 641.5,563.20 643.0,563.24 644.5,563.28 646.0,563.31 647.5,563.34 649.0,563.37 650.5,563.40 652.0,563.43 653.5,563.46 655.0,563.49 656.5,563.52 658.0,563.54 659.5,563.56 661.0,563.59 662.5,563.61 664.0,563.63 665.5,563.65 667.0,563.67 668.5,563.69 670.0,563.71 671.5,563.73 673.0,563.75 674.5,563.77 676.0,563.78 677.5,563.80 679.0,563.81 680.5,563.83 682.0,563.84 682.5,563.85" fill="none" stroke="#00ffff" stroke-width="2.4" stroke-linejoin="round" stroke-linecap="butt"/>
<polyline points="394.5,563.38 396.0,563.38 397.5,563.38 399.0,563.38 400.5,563.38 402.0,563.38 403.5,563.38 405.0,563.38 406.5,563.39 408.0,563.39 409.5,563.39 411.0,563.39 412.5,563.39 414.0,563.39 415.5,563.39 417.0,563.39 418.5,563.39 420.0,563.39 421.5,563.39 423.0,563.39 424.5,563.40 426.0,563.40 427.5,563.40 429.0,563.40 430.5,563.40 432.0,563.40 433.5,563.40 435.0,563.40 436.5,563.40 438.0,563.40 439.5,563.40 441.0,563.40 442.5,563.40 444.0,563.40 445.5,563.39 447.0,563.39 448.5,563.39 450.0,563.39 451.5,563.39 453.0,563.39 454.5,563.38 456.0,563.38 457.5,563.38 459.0,563.37 460.5,563.37 462.0,563.36 463.5,563.35 465.0,563.33 466.5,563.31 467.0,563.30 467.5,563.29 468.0,563.28 468.5,563.27 469.0,563.26 469.5,563.25 470.0,563.23 470.5,563.21 471.0,563.20 471.5,563.18 472.0,563.15 472.5,563.13 473.0,563.10 473.5,563.07 474.0,563.03 474.5,563.00 475.0,562.96 475.5,562.91 476.0,562.86 476.5,562.81 477.0,562.75 477.5,562.68 478.0,562.61 478.5,562.53 479.0,562.44 479.5,562.35 480.0,562.24 480.5,562.13 481.0,562.00 481.5,561.87 482.0,561.72 482.5,561.56 483.0,561.38 483.5,561.19 484.0,560.99 484.5,560.76 485.0,560.52 485.5,560.25 486.0,559.97 486.5,559.66 487.0,559.33 487.5,558.97 488.0,558.58 488.5,558.17 489.0,557.72 489.5,557.24 490.0,556.72 490.5,556.17 491.0,555.58 491.5,554.94 492.0,554.26 492.5,553.54 493.0,552.76 493.5,551.94 494.0,551.06 494.5,550.13 495.0,549.14 495.5,548.09 496.0,546.97 496.5,545.79 497.0,544.54 497.5,543.22 498.0,541.82 498.5,540.35 499.0,538.80 499.5,537.17 500.0,535.45 500.5,533.65 501.0,531.76 501.5,529.78 502.0,527.71 502.5,525.55 503.0,523.29 503.5,520.93 504.0,518.47 504.5,515.92 505.0,513.26 505.5,510.50 506.0,507.64 506.5,504.68 507.0,501.61 507.5,498.44 508.0,495.18 508.5,491.81 509.0,488.34 509.5,484.77 510.0,481.11 510.5,477.36 511.0,473.52 511.5,469.59 512.0,465.57 512.5,461.48 513.0,457.31 513.5,453.06 514.0,448.75 514.5,444.38 515.0,439.96 515.5,435.48 516.0,430.96 516.5,426.41 517.0,421.83 517.5,417.22 518.0,412.60 518.5,407.98 519.0,403.36 519.5,398.75 520.0,394.15 520.5,389.59 521.0,385.07 521.5,380.59 522.0,376.17 522.5,371.82 523.0,367.54 523.5,363.34 524.0,359.24 524.5,355.25 525.0,351.37 525.5,347.61 526.0,343.98 526.5,340.50 527.0,337.16 527.5,333.99 528.0,330.97 528.5,328.14 529.0,325.48 529.5,323.01 530.0,320.74 530.5,318.66 531.0,316.80 531.5,315.14 532.0,313.70 532.5,312.48 533.0,311.49 533.5,310.71 534.0,310.17 534.5,309.86 535.0,309.78 535.5,310.01 536.0,310.59 536.5,311.54 537.0,312.83 537.5,314.47 538.0,316.44 538.5,318.74 539.0,321.35 539.5,324.27 540.0,327.48 540.5,330.97 541.0,334.71 541.5,338.70 542.0,342.92 542.5,347.35 543.0,351.97 543.5,356.77 544.0,361.73 544.5,366.82 545.0,372.04 545.5,377.36 546.0,382.77 546.5,388.25 547.0,393.78 547.5,399.35 548.0,404.93 548.5,410.52 549.0,416.10 549.5,421.66 550.0,427.17 550.5,432.64 551.0,438.04 551.5,443.37 552.0,448.61 552.5,453.76 553.0,458.80 553.5,463.74 554.0,468.55 554.5,473.24 555.0,477.80 555.5,482.22 556.0,486.50 556.5,490.64 557.0,494.64 557.5,498.49 558.0,502.19 558.5,505.74 559.0,509.15 559.5,512.40 560.0,515.51 560.5,518.48 561.0,521.30 561.5,523.98 562.0,526.53 562.5,528.94 563.0,531.22 563.5,533.37 564.0,535.41 564.5,537.32 565.0,539.12 565.5,540.80 566.0,542.39 566.5,543.87 567.0,545.25 567.5,546.54 568.0,547.75 568.5,548.87 569.0,549.92 569.5,550.88 570.0,551.78 570.5,552.62 571.0,553.39 571.5,554.10 572.0,554.76 572.5,555.37 573.0,555.93 573.5,556.44 574.0,556.92 574.5,557.35 575.0,557.75 575.5,558.12 576.0,558.46 576.5,558.77 577.0,559.05 577.5,559.31 578.0,559.55 578.5,559.77 579.0,559.97 579.5,560.15 580.0,560.32 580.5,560.48 581.0,560.62 581.5,560.75 582.0,560.87 582.5,560.98 583.0,561.08 583.5,561.17 584.0,561.26 584.5,561.34 585.0,561.41 585.5,561.48 586.0,561.55 586.5,561.61 587.0,561.66 587.5,561.72 588.0,561.76 588.5,561.81 589.0,561.85 589.5,561.90 590.0,561.94 590.5,561.97 591.0,562.01 591.5,562.04 592.0,562.07 592.5,562.11 593.0,562.13 593.5,562.16 594.0,562.19 594.5,562.22 595.0,562.24 595.5,562.27 596.0,562.29 596.5,562.32 597.0,562.34 597.5,562.36 598.0,562.38 598.5,562.40 599.0,562.42 599.5,562.44 600.0,562.46 600.5,562.48 601.0,562.50 601.5,562.52 602.0,562.54 602.5,562.55 603.0,562.57 603.5,562.59 605.0,562.64 606.5,562.68 608.0,562.72 609.5,562.76 611.0,562.80 612.5,562.84 614.0,562.87 615.5,562.90 617.0,562.94 618.5,562.97 620.0,562.99 621.5,563.02 623.0,563.05 624.5,563.07 626.0,563.10 627.5,563.12 629.0,563.14 630.5,563.16 632.0,563.18 633.5,563.20 635.0,563.22 636.5,563.24 638.0,563.25 639.5,563.27 641.0,563.29 642.5,563.30 644.0,563.32 645.5,563.33 647.0,563.34 648.5,563.36 650.0,563.37 651.5,563.38 653.0,563.39 654.5,563.41 656.0,563.42 657.5,563.43 659.0,563.44 660.5,563.45 662.0,563.46 663.5,563.47 665.0,563.48 666.5,563.49 668.0,563.50 669.5,563.51 671.0,563.52 672.5,563.53 674.0,563.53 675.5,563.54 677.0,563.55 678.5,563.56 680.0,563.57 681.5,563.57 682.5,563.58" fill="none" stroke="#00ff00" stroke-width="2.4" stroke-linejoin="round" stroke-linecap="butt"/>
<polyline points="394.5,563.52 396.0,563.51 397.5,563.50 399.0,563.49 400.5,563.49 402.0,563.48 403.5,563.47 405.0,563.46 406.5,563.45 408.0,563.44 409.5,563.43 411.0,563.42 412.5,563.41 414.0,563.40 415.5,563.39 417.0,563.38 418.5,563.37 420.0,563.35 421.5,563.34 423.0,563.33 424.5,563.31 426.0,563.30 427.5,563.28 429.0,563.27 430.5,563.25 432.0,563.23 433.5,563.21 435.0,563.19 436.5,563.17 438.0,563.15 439.5,563.13 441.0,563.11 442.5,563.08 444.0,563.06 445.5,563.03 447.0,563.00 448.5,562.97 450.0,562.94 451.5,562.91 453.0,562.87 454.5,562.83 456.0,562.79 457.5,562.75 459.0,562.71 460.5,562.66 462.0,562.60 463.5,562.54 465.0,562.48 466.5,562.40 467.0,562.37 467.5,562.35 468.0,562.32 468.5,562.28 469.0,562.25 469.5,562.22 470.0,562.18 470.5,562.14 471.0,562.10 471.5,562.06 472.0,562.01 472.5,561.96 473.0,561.91 473.5,561.85 474.0,561.80 474.5,561.73 475.0,561.66 475.5,561.59 476.0,561.52 476.5,561.43 477.0,561.34 477.5,561.25 478.0,561.15 478.5,561.04 479.0,560.92 479.5,560.79 480.0,560.66 480.5,560.51 481.0,560.35 481.5,560.19 482.0,560.00 482.5,559.81 483.0,559.60 483.5,559.38 484.0,559.14 484.5,558.88 485.0,558.60 485.5,558.30 486.0,557.98 486.5,557.64 487.0,557.28 487.5,556.89 488.0,556.47 488.5,556.02 489.0,555.55 489.5,555.04 490.0,554.49 490.5,553.91 491.0,553.30 491.5,552.64 492.0,551.94 492.5,551.20 493.0,550.42 493.5,549.58 494.0,548.70 494.5,547.76 495.0,546.77 495.5,545.72 496.0,544.62 496.5,543.45 497.0,542.22 497.5,540.93 498.0,539.56 498.5,538.13 499.0,536.63 499.5,535.05 500.0,533.40 500.5,531.67 501.0,529.86 501.5,527.98 502.0,526.00 502.5,523.95 503.0,521.81 503.5,519.59 504.0,517.27 504.5,514.87 505.0,512.38 505.5,509.81 506.0,507.14 506.5,504.39 507.0,501.54 507.5,498.61 508.0,495.59 508.5,492.49 509.0,489.30 509.5,486.03 510.0,482.68 510.5,479.25 511.0,475.75 511.5,472.17 512.0,468.52 512.5,464.80 513.0,461.03 513.5,457.19 514.0,453.31 514.5,449.37 515.0,445.39 515.5,441.37 516.0,437.32 516.5,433.25 517.0,429.16 517.5,425.05 518.0,420.94 518.5,416.83 519.0,412.72 519.5,408.64 520.0,404.58 520.5,400.55 521.0,396.56 521.5,392.62 522.0,388.74 522.5,384.93 523.0,381.19 523.5,377.53 524.0,373.96 524.5,370.50 525.0,367.15 525.5,363.91 526.0,360.80 526.5,357.82 527.0,354.99 527.5,352.31 528.0,349.78 528.5,347.42 529.0,345.23 529.5,343.23 530.0,341.40 530.5,339.77 531.0,338.33 531.5,337.09 532.0,336.06 532.5,335.23 533.0,334.61 533.5,334.21 534.0,334.02 534.5,334.05 535.0,334.39 535.5,335.03 536.0,335.96 536.5,337.19 537.0,338.71 537.5,340.51 538.0,342.58 538.5,344.92 539.0,347.50 539.5,350.33 540.0,353.38 540.5,356.65 541.0,360.12 541.5,363.77 542.0,367.59 542.5,371.58 543.0,375.70 543.5,379.96 544.0,384.33 544.5,388.80 545.0,393.35 545.5,397.97 546.0,402.66 546.5,407.38 547.0,412.14 547.5,416.92 548.0,421.70 548.5,426.47 549.0,431.23 549.5,435.97 550.0,440.66 550.5,445.31 551.0,449.91 551.5,454.44 552.0,458.90 552.5,463.28 553.0,467.57 553.5,471.78 554.0,475.88 554.5,479.89 555.0,483.79 555.5,487.58 556.0,491.26 556.5,494.82 557.0,498.27 557.5,501.60 558.0,504.82 558.5,507.91 559.0,510.88 559.5,513.74 560.0,516.47 560.5,519.09 561.0,521.59 561.5,523.98 562.0,526.26 562.5,528.43 563.0,530.49 563.5,532.44 564.0,534.30 564.5,536.05 565.0,537.72 565.5,539.28 566.0,540.76 566.5,542.16 567.0,543.47 567.5,544.70 568.0,545.86 568.5,546.95 569.0,547.96 569.5,548.92 570.0,549.81 570.5,550.64 571.0,551.42 571.5,552.14 572.0,552.81 572.5,553.44 573.0,554.03 573.5,554.57 574.0,555.08 574.5,555.55 575.0,555.98 575.5,556.39 576.0,556.76 576.5,557.11 577.0,557.44 577.5,557.74 578.0,558.01 578.5,558.27 579.0,558.51 579.5,558.73 580.0,558.94 580.5,559.13 581.0,559.31 581.5,559.47 582.0,559.63 582.5,559.77 583.0,559.91 583.5,560.03 584.0,560.15 584.5,560.26 585.0,560.36 585.5,560.46 586.0,560.55 586.5,560.63 587.0,560.72 587.5,560.79 588.0,560.86 588.5,560.93 589.0,561.00 589.5,561.06 590.0,561.12 590.5,561.18 591.0,561.23 591.5,561.28 592.0,561.33 592.5,561.38 593.0,561.43 593.5,561.47 594.0,561.52 594.5,561.56 595.0,561.60 595.5,561.64 596.0,561.68 596.5,561.71 597.0,561.75 597.5,561.78 598.0,561.82 598.5,561.85 599.0,561.88 599.5,561.92 600.0,561.95 600.5,561.98 601.0,562.01 601.5,562.03 602.0,562.06 602.5,562.09 603.0,562.12 604.5,562.19 606.0,562.27 607.5,562.33 609.0,562.40 610.5,562.46 612.0,562.52 613.5,562.57 615.0,562.62 616.5,562.67 618.0,562.72 619.5,562.77 621.0,562.81 622.5,562.85 624.0,562.89 625.5,562.92 627.0,562.96 628.5,562.99 630.0,563.02 631.5,563.05 633.0,563.08 634.5,563.11 636.0,563.14 637.5,563.17 639.0,563.19 640.5,563.21 642.0,563.24 643.5,563.26 645.0,563.28 646.5,563.30 648.0,563.32 649.5,563.34 651.0,563.36 652.5,563.38 654.0,563.39 655.5,563.41 657.0,563.43 658.5,563.44 660.0,563.46 661.5,563.47 663.0,563.48 664.5,563.50 666.0,563.51 667.5,563.52 669.0,563.54 670.5,563.55 672.0,563.56 673.5,563.57 675.0,563.58 676.5,563.59 678.0,563.60 679.5,563.61 681.0,563.62 682.5,563.63" fill="none" stroke="#ffff00" stroke-width="2.4" stroke-linejoin="round" stroke-linecap="butt"/>
<polyline points="394.5,563.54 396.0,563.53 397.5,563.52 399.0,563.52 400.5,563.51 402.0,563.50 403.5,563.49 405.0,563.49 406.5,563.48 408.0,563.47 409.5,563.46 411.0,563.45 412.5,563.44 414.0,563.43 415.5,563.42 417.0,563.41 418.5,563.40 420.0,563.39 421.5,563.37 423.0,563.36 424.5,563.35 426.0,563.33 427.5,563.32 429.0,563.30 430.5,563.29 432.0,563.27 433.5,563.25 435.0,563.24 436.5,563.22 438.0,563.20 439.5,563.18 441.0,563.15 442.5,563.13 444.0,563.11 445.5,563.08 447.0,563.06 448.5,563.03 450.0,563.00 451.5,562.97 453.0,562.93 454.5,562.90 456.0,562.86 457.5,562.82 459.0,562.78 460.5,562.73 462.0,562.68 463.5,562.63 465.0,562.57 466.5,562.50 467.0,562.47 467.5,562.45 468.0,562.42 468.5,562.39 469.0,562.36 469.5,562.33 470.0,562.30 470.5,562.26 471.0,562.22 471.5,562.18 472.0,562.14 472.5,562.10 473.0,562.05 473.5,562.00 474.0,561.95 474.5,561.89 475.0,561.83 475.5,561.76 476.0,561.69 476.5,561.62 477.0,561.54 477.5,561.45 478.0,561.36 478.5,561.26 479.0,561.15 479.5,561.04 480.0,560.91 480.5,560.78 481.0,560.64 481.5,560.49 482.0,560.32 482.5,560.15 483.0,559.96 483.5,559.75 484.0,559.53 484.5,559.30 485.0,559.05 485.5,558.78 486.0,558.49 486.5,558.18 487.0,557.85 487.5,557.49 488.0,557.11 488.5,556.71 489.0,556.27 489.5,555.81 490.0,555.31 490.5,554.79 491.0,554.23 491.5,553.63 492.0,552.99 492.5,552.32 493.0,551.60 493.5,550.84 494.0,550.03 494.5,549.17 495.0,548.26 495.5,547.31 496.0,546.29 496.5,545.23 497.0,544.10 497.5,542.91 498.0,541.66 498.5,540.35 499.0,538.97 499.5,537.52 500.0,536.00 500.5,534.41 501.0,532.74 501.5,531.00 502.0,529.18 502.5,527.29 503.0,525.31 503.5,523.25 504.0,521.12 504.5,518.90 505.0,516.59 505.5,514.21 506.0,511.73 506.5,509.18 507.0,506.54 507.5,503.82 508.0,501.01 508.5,498.13 509.0,495.16 509.5,492.11 510.0,488.99 510.5,485.79 511.0,482.52 511.5,479.17 512.0,475.76 512.5,472.29 513.0,468.75 513.5,465.16 514.0,461.51 514.5,457.82 515.0,454.08 515.5,450.30 516.0,446.49 516.5,442.65 517.0,438.79 517.5,434.91 518.0,431.03 518.5,427.14 519.0,423.26 519.5,419.38 520.0,415.53 520.5,411.70 521.0,407.91 521.5,404.15 522.0,400.45 522.5,396.81 523.0,393.23 523.5,389.72 524.0,386.30 524.5,382.97 525.0,379.73 525.5,376.61 526.0,373.59 526.5,370.71 527.0,367.95 527.5,365.32 528.0,362.85 528.5,360.52 529.0,358.36 529.5,356.36 530.0,354.53 530.5,352.88 531.0,351.41 531.5,350.13 532.0,349.04 532.5,348.14 533.0,347.44 533.5,346.94 534.0,346.64 534.5,346.54 535.0,346.69 535.5,347.12 536.0,347.84 536.5,348.84 537.0,350.12 537.5,351.66 538.0,353.47 538.5,355.53 539.0,357.84 539.5,360.38 540.0,363.14 540.5,366.11 541.0,369.28 541.5,372.63 542.0,376.15 542.5,379.83 543.0,383.65 543.5,387.61 544.0,391.68 544.5,395.85 545.0,400.11 545.5,404.44 546.0,408.84 546.5,413.28 547.0,417.76 547.5,422.27 548.0,426.79 548.5,431.31 549.0,435.82 549.5,440.31 550.0,444.77 550.5,449.20 551.0,453.57 551.5,457.89 552.0,462.15 552.5,466.34 553.0,470.44 553.5,474.47 554.0,478.41 554.5,482.25 555.0,486.00 555.5,489.64 556.0,493.19 556.5,496.62 557.0,499.95 557.5,503.16 558.0,506.26 558.5,509.26 559.0,512.13 559.5,514.90 560.0,517.55 560.5,520.09 561.0,522.52 561.5,524.85 562.0,527.06 562.5,529.17 563.0,531.18 563.5,533.09 564.0,534.90 564.5,536.61 565.0,538.23 565.5,539.77 566.0,541.21 566.5,542.58 567.0,543.87 567.5,545.07 568.0,546.21 568.5,547.28 569.0,548.28 569.5,549.21 570.0,550.09 570.5,550.91 571.0,551.67 571.5,552.39 572.0,553.05 572.5,553.67 573.0,554.25 573.5,554.79 574.0,555.29 574.5,555.75 575.0,556.18 575.5,556.58 576.0,556.95 576.5,557.30 577.0,557.62 577.5,557.91 578.0,558.19 578.5,558.44 579.0,558.68 579.5,558.90 580.0,559.10 580.5,559.29 581.0,559.47 581.5,559.63 582.0,559.78 582.5,559.92 583.0,560.06 583.5,560.18 584.0,560.29 584.5,560.40 585.0,560.50 585.5,560.60 586.0,560.69 586.5,560.77 587.0,560.85 587.5,560.92 588.0,561.00 588.5,561.06 589.0,561.13 589.5,561.19 590.0,561.25 590.5,561.30 591.0,561.35 591.5,561.40 592.0,561.45 592.5,561.50 593.0,561.54 593.5,561.59 594.0,561.63 594.5,561.67 595.0,561.71 595.5,561.75 596.0,561.78 596.5,561.82 597.0,561.85 597.5,561.89 598.0,561.92 598.5,561.95 599.0,561.98 599.5,562.01 600.0,562.04 600.5,562.07 601.0,562.10 601.5,562.13 602.0,562.15 602.5,562.18 603.0,562.20 603.5,562.23 605.0,562.30 606.5,562.37 608.0,562.43 609.5,562.50 611.0,562.55 612.5,562.61 614.0,562.66 615.5,562.71 617.0,562.75 618.5,562.80 620.0,562.84 621.5,562.88 623.0,562.92 624.5,562.95 626.0,562.99 627.5,563.02 629.0,563.05 630.5,563.08 632.0,563.11 633.5,563.14 635.0,563.17 636.5,563.19 638.0,563.22 639.5,563.24 641.0,563.26 642.5,563.28 644.0,563.30 645.5,563.32 647.0,563.34 648.5,563.36 650.0,563.38 651.5,563.40 653.0,563.41 654.5,563.43 656.0,563.45 657.5,563.46 659.0,563.48 660.5,563.49 662.0,563.50 663.5,563.52 665.0,563.53 666.5,563.54 668.0,563.55 669.5,563.57 671.0,563.58 672.5,563.59 674.0,563.60 675.5,563.61 677.0,563.62 678.5,563.63 680.0,563.64 681.5,563.65 682.5,563.65" fill="none" stroke="#ff00ff" stroke-width="2.4" stroke-linejoin="round" stroke-linecap="butt"/>
<polyline points="394.5,563.98 396.0,563.96 397.5,563.95 399.0,563.93 400.5,563.91 402.0,563.90 403.5,563.88 405.0,563.86 406.5,563.84 408.0,563.82 409.5,563.80 411.0,563.78 412.5,563.76 414.0,563.74 415.5,563.72 417.0,563.69 418.5,563.67 420.0,563.64 421.5,563.62 423.0,563.59 424.5,563.56 426.0,563.53 427.5,563.50 429.0,563.47 430.5,563.43 432.0,563.40 433.5,563.36 435.0,563.32 436.5,563.28 438.0,563.24 439.5,563.20 441.0,563.15 442.5,563.11 444.0,563.06 445.5,563.01 447.0,562.95 448.5,562.90 450.0,562.84 451.5,562.77 453.0,562.71 454.5,562.64 456.0,562.56 457.5,562.48 459.0,562.40 460.5,562.31 462.0,562.22 463.5,562.11 465.0,562.00 465.5,561.96 466.0,561.92 466.5,561.88 467.0,561.83 467.5,561.79 468.0,561.74 468.5,561.69 469.0,561.64 469.5,561.59 470.0,561.54 470.5,561.48 471.0,561.42 471.5,561.36 472.0,561.30 472.5,561.23 473.0,561.16 473.5,561.08 474.0,561.01 474.5,560.93 475.0,560.84 475.5,560.75 476.0,560.65 476.5,560.55 477.0,560.45 477.5,560.34 478.0,560.22 478.5,560.09 479.0,559.96 479.5,559.82 480.0,559.67 480.5,559.51 481.0,559.35 481.5,559.17 482.0,558.98 482.5,558.78 483.0,558.57 483.5,558.34 484.0,558.10 484.5,557.85 485.0,557.57 485.5,557.29 486.0,556.98 486.5,556.66 487.0,556.31 487.5,555.94 488.0,555.55 488.5,555.14 489.0,554.70 489.5,554.24 490.0,553.75 490.5,553.22 491.0,552.67 491.5,552.09 492.0,551.47 492.5,550.82 493.0,550.13 493.5,549.40 494.0,548.63 494.5,547.82 495.0,546.96 495.5,546.06 496.0,545.12 496.5,544.12 497.0,543.08 497.5,541.98 498.0,540.83 498.5,539.63 499.0,538.36 499.5,537.04 500.0,535.66 500.5,534.22 501.0,532.72 501.5,531.15 502.0,529.52 502.5,527.82 503.0,526.05 503.5,524.21 504.0,522.31 504.5,520.33 505.0,518.29 505.5,516.17 506.0,513.98 506.5,511.72 507.0,509.40 507.5,506.99 508.0,504.52 508.5,501.98 509.0,499.37 509.5,496.70 510.0,493.95 510.5,491.15 511.0,488.27 511.5,485.34 512.0,482.35 512.5,479.30 513.0,476.20 513.5,473.04 514.0,469.84 514.5,466.60 515.0,463.31 515.5,459.99 516.0,456.63 516.5,453.25 517.0,449.84 517.5,446.41 518.0,442.97 518.5,439.53 519.0,436.08 519.5,432.63 520.0,429.19 520.5,425.77 521.0,422.37 521.5,419.00 522.0,415.66 522.5,412.37 523.0,409.12 523.5,405.94 524.0,402.81 524.5,399.76 525.0,396.78 525.5,393.89 526.0,391.09 526.5,388.40 527.0,385.81 527.5,383.34 528.0,380.99 528.5,378.77 529.0,376.68 529.5,374.74 530.0,372.95 530.5,371.31 531.0,369.83 531.5,368.51 532.0,367.37 532.5,366.40 533.0,365.61 533.5,365.00 534.0,364.57 534.5,364.32 535.0,364.26 535.5,364.42 536.0,364.83 536.5,365.49 537.0,366.39 537.5,367.52 538.0,368.88 538.5,370.46 539.0,372.26 539.5,374.27 540.0,376.47 540.5,378.86 541.0,381.43 541.5,384.16 542.0,387.04 542.5,390.07 543.0,393.23 543.5,396.50 544.0,399.88 544.5,403.36 545.0,406.92 545.5,410.56 546.0,414.25 546.5,418.00 547.0,421.79 547.5,425.61 548.0,429.45 548.5,433.31 549.0,437.17 549.5,441.02 550.0,444.87 550.5,448.69 551.0,452.49 551.5,456.25 552.0,459.97 552.5,463.65 553.0,467.27 553.5,470.84 554.0,474.35 554.5,477.79 555.0,481.17 555.5,484.47 556.0,487.69 556.5,490.84 557.0,493.90 557.5,496.89 558.0,499.78 558.5,502.60 559.0,505.32 559.5,507.96 560.0,510.51 560.5,512.97 561.0,515.34 561.5,517.63 562.0,519.83 562.5,521.94 563.0,523.96 563.5,525.91 564.0,527.77 564.5,529.55 565.0,531.25 565.5,532.87 566.0,534.42 566.5,535.90 567.0,537.30 567.5,538.63 568.0,539.90 568.5,541.10 569.0,542.24 569.5,543.32 570.0,544.34 570.5,545.31 571.0,546.23 571.5,547.09 572.0,547.90 572.5,548.67 573.0,549.40 573.5,550.08 574.0,550.72 574.5,551.33 575.0,551.90 575.5,552.43 576.0,552.94 576.5,553.41 577.0,553.85 577.5,554.27 578.0,554.67 578.5,555.04 579.0,555.38 579.5,555.71 580.0,556.02 580.5,556.31 581.0,556.58 581.5,556.83 582.0,557.07 582.5,557.30 583.0,557.51 583.5,557.72 584.0,557.91 584.5,558.09 585.0,558.26 585.5,558.42 586.0,558.57 586.5,558.72 587.0,558.86 587.5,558.99 588.0,559.11 588.5,559.23 589.0,559.35 589.5,559.46 590.0,559.56 590.5,559.66 591.0,559.75 591.5,559.85 592.0,559.94 592.5,560.02 593.0,560.10 593.5,560.18 594.0,560.26 594.5,560.33 595.0,560.40 595.5,560.47 596.0,560.54 596.5,560.60 597.0,560.67 597.5,560.73 598.0,560.79 598.5,560.84 599.0,560.90 599.5,560.96 600.0,561.01 600.5,561.06 601.0,561.11 601.5,561.16 602.0,561.21 602.5,561.26 603.0,561.31 603.5,561.35 604.0,561.40 604.5,561.44 605.0,561.48 605.5,561.52 607.0,561.64 608.5,561.76 610.0,561.86 611.5,561.96 613.0,562.06 614.5,562.15 616.0,562.23 617.5,562.32 619.0,562.39 620.5,562.47 622.0,562.54 623.5,562.60 625.0,562.67 626.5,562.73 628.0,562.78 629.5,562.84 631.0,562.89 632.5,562.94 634.0,562.99 635.5,563.03 637.0,563.08 638.5,563.12 640.0,563.16 641.5,563.20 643.0,563.24 644.5,563.27 646.0,563.31 647.5,563.34 649.0,563.37 650.5,563.40 652.0,563.43 653.5,563.46 655.0,563.48 656.5,563.51 658.0,563.54 659.5,563.56 661.0,563.58 662.5,563.61 664.0,563.63 665.5,563.65 667.0,563.67 668.5,563.69 670.0,563.71 671.5,563.73 673.0,563.75 674.5,563.76 676.0,563.78 677.5,563.80 679.0,563.81 680.5,563.83 682.0,563.84 682.5,563.85" fill="none" stroke="#8ec8dc" stroke-width="2.4" stroke-linejoin="round" stroke-linecap="butt"/>
<line x1="394.5" y1="288.2" x2="394.5" y2="568.5" stroke="#868686" stroke-width="1"/>
<line x1="630.5" y1="352.10" x2="659" y2="352.10" stroke="#0000ff" stroke-width="2.5"/>
<text x="661.8" y="355.70" class="lg">Bare</text>
<line x1="630.5" y1="382.43" x2="659" y2="382.43" stroke="#ff0000" stroke-width="2.5"/>
<text x="661.8" y="386.03" class="lg">15s</text>
<line x1="630.5" y1="412.76" x2="659" y2="412.76" stroke="#00ffff" stroke-width="2.5"/>
<text x="661.8" y="416.36" class="lg">20s</text>
<line x1="630.5" y1="443.09" x2="659" y2="443.09" stroke="#00ff00" stroke-width="2.5"/>
<text x="661.8" y="446.69" class="lg">30s</text>
<line x1="630.5" y1="473.42" x2="659" y2="473.42" stroke="#ffff00" stroke-width="2.5"/>
<text x="661.8" y="477.02" class="lg">45s</text>
<line x1="630.5" y1="503.75" x2="659" y2="503.75" stroke="#ff00ff" stroke-width="2.5"/>
<text x="661.8" y="507.35" class="lg">60s</text>
<line x1="630.5" y1="534.08" x2="659" y2="534.08" stroke="#8ec8dc" stroke-width="2.5"/>
<text x="661.8" y="537.68" class="lg">180s</text>
<text x="410.6" y="311.9" class="pl">D</text>
<text x="519" y="614.9" class="ax">P(V)</text>
<text transform="translate(358.8,436.2) rotate(-90)" class="ax">I(μA)</text>
</svg>
</body></html>
